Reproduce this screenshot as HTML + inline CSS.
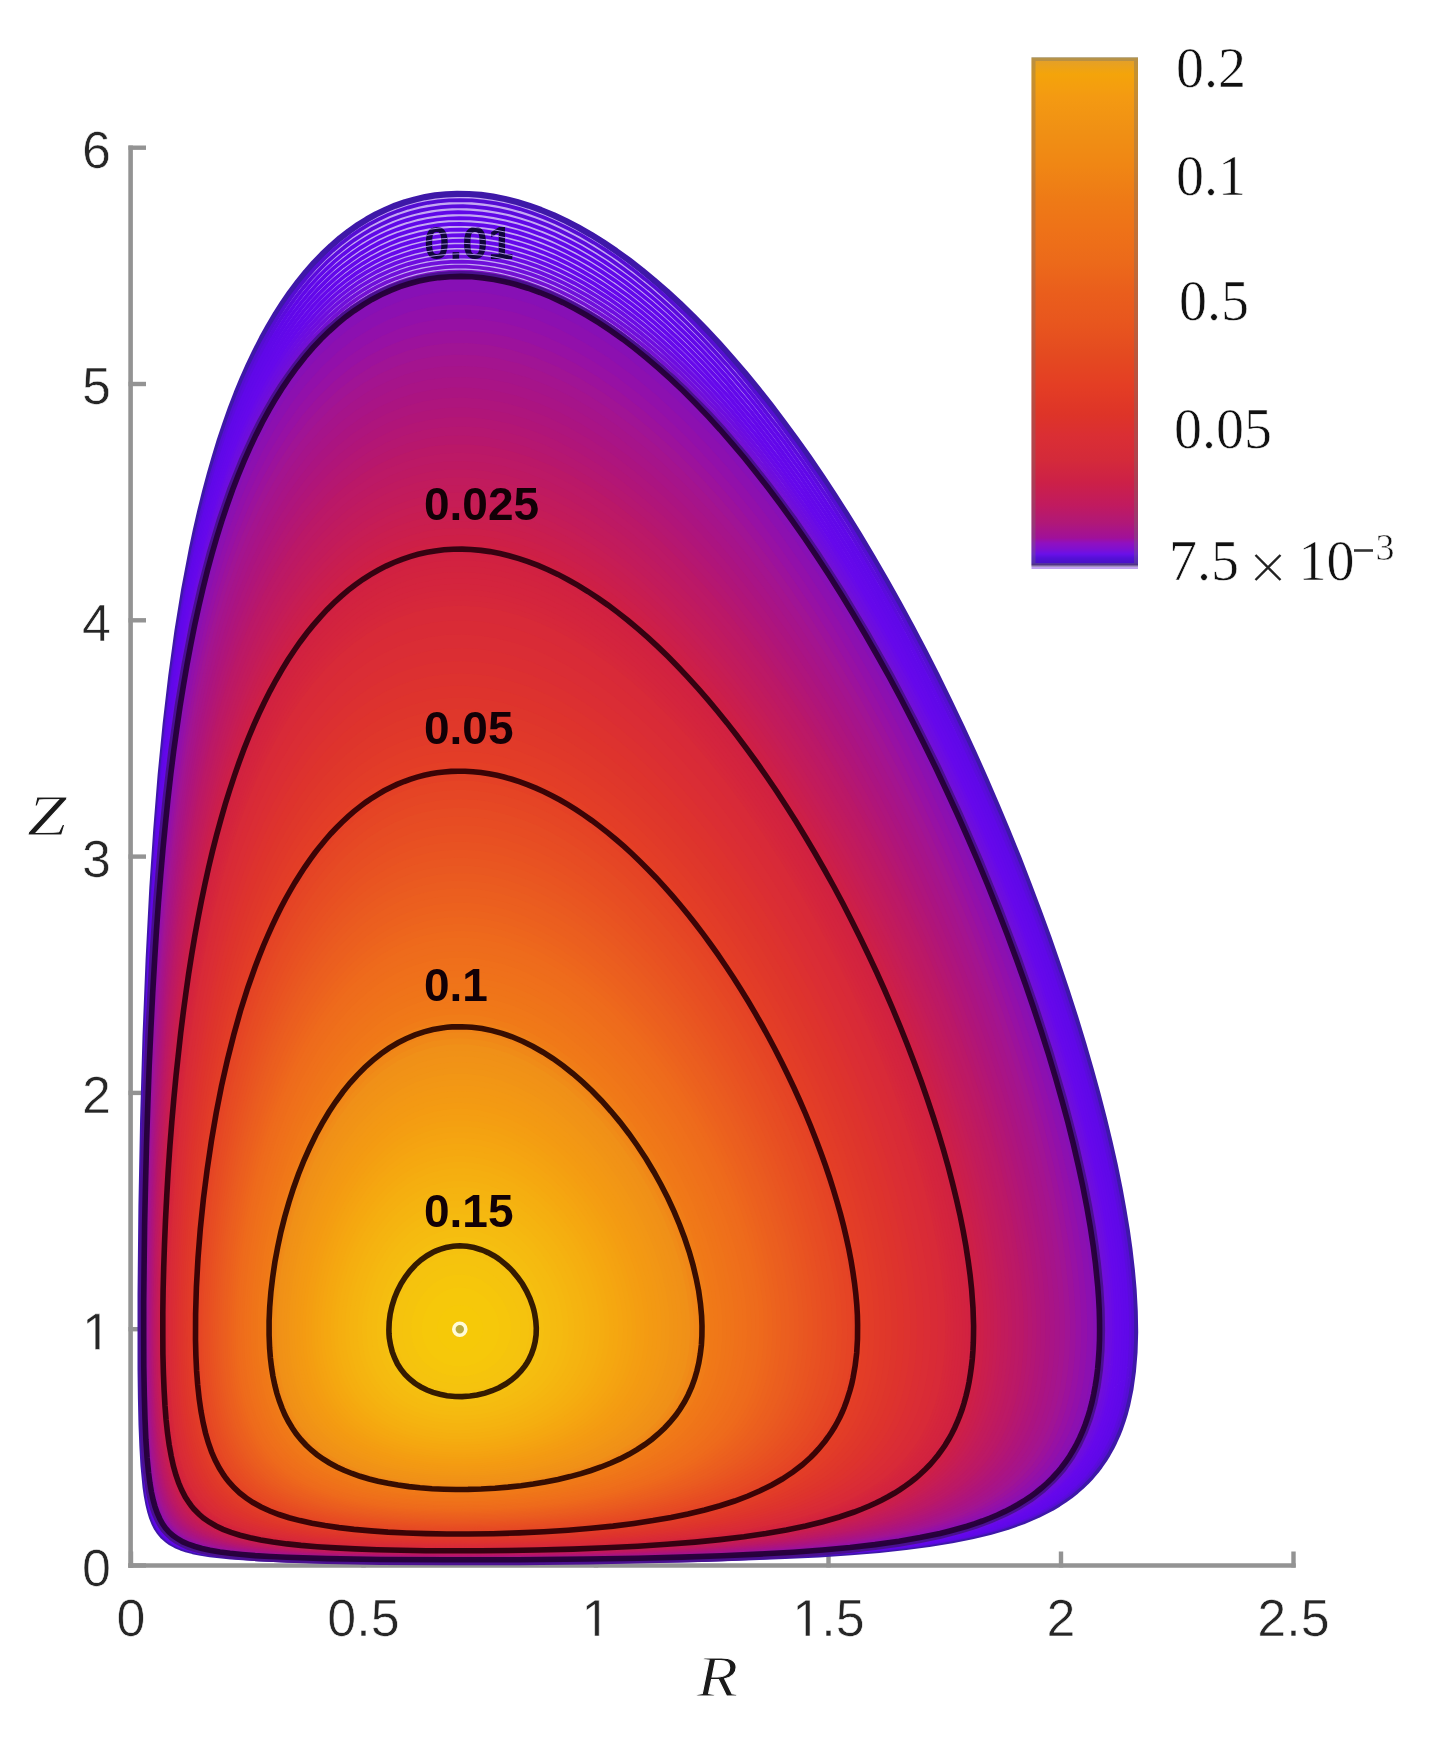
<!DOCTYPE html>
<html><head><meta charset="utf-8"><style>
html,body{margin:0;padding:0;background:#fff;}
body{width:1433px;height:1750px;overflow:hidden;}
svg{display:block;filter:blur(0.5px);}
.tk{font-family:"Liberation Sans",sans-serif;font-size:52px;fill:#262626;stroke:#fff;stroke-width:0.6px;paint-order:normal;}
.cl{font-family:"Liberation Sans",sans-serif;font-weight:bold;font-size:46px;fill:#120006;}
.cbl{font-family:"Liberation Serif",serif;font-size:56px;fill:#111;stroke:#fff;stroke-width:0.6px;}
.ax{font-family:"Liberation Serif",serif;font-style:italic;font-size:56px;fill:#1a1a1a;stroke:#fff;stroke-width:0.9px;}
</style></head><body>
<svg width="1433" height="1750" viewBox="0 0 1433 1750">
<defs><linearGradient id="cbg" gradientUnits="userSpaceOnUse" x1="0" y1="57.5" x2="0" y2="569">
<stop offset="0.0000" stop-color="#d6a83c"/>
<stop offset="0.0068" stop-color="#e4a028"/>
<stop offset="0.0323" stop-color="#f4a40a"/>
<stop offset="0.0772" stop-color="#f49a12"/>
<stop offset="0.1437" stop-color="#f09014"/>
<stop offset="0.2121" stop-color="#f08614"/>
<stop offset="0.2786" stop-color="#ee7a16"/>
<stop offset="0.3353" stop-color="#ee7218"/>
<stop offset="0.3978" stop-color="#ec6a1a"/>
<stop offset="0.4585" stop-color="#ea5e1c"/>
<stop offset="0.5191" stop-color="#e8561e"/>
<stop offset="0.5797" stop-color="#e44a20"/>
<stop offset="0.6403" stop-color="#e43e24"/>
<stop offset="0.6970" stop-color="#de3428"/>
<stop offset="0.7419" stop-color="#da2e34"/>
<stop offset="0.7869" stop-color="#d42a3a"/>
<stop offset="0.8319" stop-color="#cc2048"/>
<stop offset="0.8768" stop-color="#c01a60"/>
<stop offset="0.9101" stop-color="#b01878"/>
<stop offset="0.9394" stop-color="#a0109a"/>
<stop offset="0.9492" stop-color="#9010c0"/>
<stop offset="0.9609" stop-color="#8010d0"/>
<stop offset="0.9707" stop-color="#6a10e8"/>
<stop offset="0.9785" stop-color="#5510d8"/>
<stop offset="0.9883" stop-color="#4a10c8"/>
<stop offset="0.9922" stop-color="#3c1482"/>
<stop offset="0.9941" stop-color="#c0a0f0"/>
<stop offset="1.0000" stop-color="#c0a0f0"/>
</linearGradient></defs>
<rect width="1433" height="1750" fill="#fff"/>
<line x1="130.6" y1="145.5" x2="130.6" y2="1567.7" stroke="#939393" stroke-width="4.6"/>
<line x1="128.3" y1="1565.5" x2="1295.7" y2="1565.5" stroke="#939393" stroke-width="4.6"/>
<line x1="128.5" y1="147.7" x2="146" y2="147.7" stroke="#939393" stroke-width="4.4"/>
<text x="111" y="168.1" text-anchor="end" class="tk">6</text>
<line x1="128.5" y1="384.0" x2="146" y2="384.0" stroke="#939393" stroke-width="4.4"/>
<text x="111" y="404.4" text-anchor="end" class="tk">5</text>
<line x1="128.5" y1="620.3" x2="146" y2="620.3" stroke="#939393" stroke-width="4.4"/>
<text x="111" y="640.7" text-anchor="end" class="tk">4</text>
<line x1="128.5" y1="856.6" x2="146" y2="856.6" stroke="#939393" stroke-width="4.4"/>
<text x="111" y="877.0" text-anchor="end" class="tk">3</text>
<line x1="128.5" y1="1092.9" x2="146" y2="1092.9" stroke="#939393" stroke-width="4.4"/>
<text x="111" y="1113.3" text-anchor="end" class="tk">2</text>
<line x1="128.5" y1="1329.2" x2="146" y2="1329.2" stroke="#939393" stroke-width="4.4"/>
<path d="M515 0V1237L197 1010V1180L530 1409H696V0Z" transform="translate(82.08,1349.60) scale(0.025391,-0.025391)" fill="#262626" stroke="#fff" stroke-width="23.6"/>
<line x1="128.5" y1="1565.5" x2="146" y2="1565.5" stroke="#939393" stroke-width="4.4"/>
<text x="111" y="1585.9" text-anchor="end" class="tk">0</text>
<line x1="131.0" y1="1567.5" x2="131.0" y2="1551.5" stroke="#939393" stroke-width="4.4"/>
<text x="131.0" y="1636" text-anchor="middle" class="tk">0</text>
<line x1="363.5" y1="1567.5" x2="363.5" y2="1551.5" stroke="#939393" stroke-width="4.4"/>
<text x="363.5" y="1636" text-anchor="middle" class="tk">0.5</text>
<line x1="596.0" y1="1567.5" x2="596.0" y2="1551.5" stroke="#939393" stroke-width="4.4"/>
<path d="M515 0V1237L197 1010V1180L530 1409H696V0Z" transform="translate(581.54,1636.00) scale(0.025391,-0.025391)" fill="#262626" stroke="#fff" stroke-width="23.6"/>
<line x1="828.5" y1="1567.5" x2="828.5" y2="1551.5" stroke="#939393" stroke-width="4.4"/>
<path d="M515 0V1237L197 1010V1180L530 1409H696V0Z" transform="translate(792.36,1636.00) scale(0.025391,-0.025391)" fill="#262626" stroke="#fff" stroke-width="23.6"/>
<text x="821.28" y="1636" class="tk">.5</text>
<line x1="1061.0" y1="1567.5" x2="1061.0" y2="1551.5" stroke="#939393" stroke-width="4.4"/>
<text x="1061.0" y="1636" text-anchor="middle" class="tk">2</text>
<line x1="1293.5" y1="1567.5" x2="1293.5" y2="1551.5" stroke="#939393" stroke-width="4.4"/>
<text x="1293.5" y="1636" text-anchor="middle" class="tk">2.5</text>
<g>
<path d="M547.0 1561.0 471.0 1561.3 400.0 1561.1 341.0 1560.6 294.0 1559.6 259.0 1558.3 231.0 1556.5 210.0 1554.2 201.0 1552.8 193.0 1551.1 187.0 1549.5 181.0 1547.5 176.0 1545.4 171.0 1542.6 167.0 1539.8 163.0 1536.2 159.5 1532.0 156.8 1528.0 154.3 1523.0 152.0 1517.3 150.1 1511.0 148.4 1504.0 146.9 1496.0 145.6 1487.0 143.6 1466.0 142.5 1447.0 141.6 1425.0 141.0 1399.0 140.6 1369.0 140.6 1294.0 141.5 1206.0 143.2 1119.0 145.6 1036.0 148.7 959.0 152.4 888.0 156.3 830.0 160.7 775.0 165.7 724.0 171.3 676.0 177.5 631.0 184.3 589.0 192.0 548.5 196.0 529.7 200.3 511.0 205.0 491.9 209.8 474.0 214.7 457.0 219.9 440.0 225.3 424.0 231.0 407.9 236.7 393.0 242.5 379.0 248.7 365.0 255.0 351.8 262.0 338.1 268.7 326.0 276.0 313.7 283.0 302.8 290.0 292.6 298.0 281.9 306.0 272.0 314.0 262.9 322.0 254.6 331.0 246.0 340.0 238.2 349.0 231.2 358.0 224.9 367.0 219.3 376.0 214.3 386.0 209.5 395.0 205.7 405.0 202.2 415.0 199.4 425.0 197.1 435.0 195.4 446.0 194.3 457.0 193.8 469.0 194.0 481.0 194.9 493.0 196.6 505.0 199.0 517.0 202.0 529.0 205.7 541.0 210.0 554.0 215.4 566.0 221.0 578.0 227.3 591.0 234.7 603.0 242.2 616.0 250.9 629.0 260.3 642.0 270.4 654.0 280.3 667.0 291.6 680.0 303.6 693.0 316.2 706.0 329.5 719.0 343.4 732.0 358.0 744.9 373.0 758.0 389.0 770.6 405.0 783.5 422.0 796.0 439.0 809.0 457.4 821.7 476.0 834.0 494.7 846.3 514.0 859.3 535.0 872.5 557.0 885.8 580.0 898.7 603.0 911.7 627.0 924.3 651.0 936.5 675.0 949.3 701.0 961.7 727.0 973.7 753.0 985.3 779.0 996.5 805.0 1007.4 831.0 1018.4 858.0 1028.5 884.0 1038.7 911.0 1048.6 938.0 1057.6 964.0 1066.7 991.0 1075.4 1018.0 1083.3 1044.0 1090.6 1069.0 1097.5 1094.0 1103.7 1118.0 1109.5 1142.0 1114.7 1165.0 1119.4 1188.0 1123.2 1209.0 1126.7 1230.0 1129.5 1250.0 1131.8 1270.0 1133.5 1289.0 1134.7 1311.0 1135.1 1332.0 1134.5 1352.0 1132.9 1371.0 1130.4 1389.0 1127.1 1405.0 1125.0 1413.0 1122.5 1421.0 1120.1 1428.0 1117.3 1435.0 1114.1 1442.0 1111.1 1448.0 1107.7 1454.0 1104.0 1460.0 1099.8 1466.0 1096.0 1471.0 1090.9 1477.0 1086.1 1482.0 1080.9 1487.0 1076.3 1491.0 1070.0 1496.0 1064.4 1500.0 1058.3 1504.0 1051.6 1508.0 1037.9 1515.0 1023.0 1521.4 1007.0 1527.0 989.8 1532.0 972.0 1536.3 952.0 1540.3 929.0 1544.0 906.0 1547.0 879.0 1549.8 851.0 1552.2 819.0 1554.3 785.0 1556.0 746.0 1557.5 703.0 1558.8 656.0 1559.7 547.0 1561.0Z" fill="#c4a8f2" stroke="#3e18a8" stroke-width="6.2" stroke-linejoin="round"/>
<path d="M531.0 1561.0 456.0 1561.2 387.0 1561.0 330.0 1560.3 286.0 1559.3 252.0 1557.8 226.0 1555.9 206.0 1553.4 198.0 1551.9 190.0 1550.0 184.0 1548.2 178.4 1546.0 173.0 1543.3 169.0 1540.7 165.0 1537.4 161.7 1534.0 158.7 1530.0 155.8 1525.0 153.5 1520.0 151.4 1514.0 149.5 1507.0 147.8 1499.0 145.2 1480.0 143.2 1456.0 141.5 1412.0 140.7 1352.0 140.9 1275.0 142.0 1188.0 143.9 1104.0 146.4 1024.0 149.5 950.0 153.3 882.0 157.2 825.0 161.7 771.0 166.8 721.0 172.4 674.0 178.7 630.0 185.7 588.0 193.3 549.0 201.7 512.0 211.0 476.3 221.0 443.3 232.0 411.8 238.0 396.4 244.0 382.0 250.0 368.7 256.6 355.0 263.0 342.7 270.0 330.1 277.0 318.5 284.4 307.0 292.0 296.2 300.0 285.7 308.0 276.0 316.0 267.1 324.0 258.9 333.0 250.5 342.0 242.9 351.0 236.1 360.0 229.9 369.0 224.4 378.0 219.6 388.0 214.9 398.0 210.9 408.0 207.6 418.0 204.9 428.0 202.8 438.0 201.3 449.0 200.4 460.0 200.1 472.0 200.4 484.0 201.6 496.0 203.4 508.0 205.9 520.0 209.1 532.0 213.0 544.0 217.5 556.0 222.6 569.0 228.8 581.0 235.2 594.0 242.8 606.0 250.4 619.0 259.3 632.0 268.9 645.0 279.2 657.0 289.2 670.0 300.7 683.0 312.8 696.0 325.6 709.0 339.1 722.0 353.2 735.0 367.9 748.0 383.3 773.3 415.0 799.1 450.0 824.6 487.0 849.7 526.0 875.5 569.0 901.5 615.0 926.8 663.0 951.6 713.0 975.3 764.0 998.4 817.0 1020.4 871.0 1040.5 924.0 1059.5 978.0 1076.2 1030.0 1091.2 1081.0 1103.7 1129.0 1109.3 1153.0 1114.2 1176.0 1118.6 1198.0 1122.4 1220.0 1125.6 1241.0 1128.2 1261.0 1130.1 1280.0 1131.5 1298.0 1132.3 1320.0 1132.3 1340.0 1131.3 1360.0 1129.4 1378.0 1126.6 1395.0 1122.8 1411.0 1118.1 1426.0 1112.3 1440.0 1106.1 1452.0 1098.5 1464.0 1089.8 1475.0 1080.2 1485.0 1069.7 1494.0 1058.0 1502.3 1044.9 1510.0 1030.5 1517.0 1015.5 1523.0 1000.0 1528.2 982.7 1533.0 963.0 1537.5 943.0 1541.2 920.0 1544.8 895.0 1547.8 869.0 1550.4 839.0 1552.7 807.0 1554.7 772.0 1556.4 733.0 1557.8 641.0 1559.9 531.0 1561.0Z" fill="none" stroke="#550dd3" stroke-width="3.7"/>
<path d="M510.0 1561.0 435.0 1561.1 369.0 1560.7 316.0 1559.9 274.0 1558.7 243.0 1557.1 219.0 1554.9 200.0 1552.0 192.0 1550.2 185.0 1548.1 179.0 1545.8 174.0 1543.3 169.0 1540.1 165.3 1537.0 161.5 1533.0 158.6 1529.0 156.0 1524.4 153.6 1519.0 151.5 1513.0 149.6 1506.0 148.0 1498.0 146.6 1489.0 144.3 1467.0 142.6 1439.0 141.3 1390.0 140.9 1325.0 141.4 1245.0 142.8 1160.0 144.8 1080.0 147.5 1005.0 150.7 936.0 154.5 871.0 158.5 816.0 163.1 764.0 168.2 715.0 174.0 669.2 180.4 626.0 187.5 585.0 195.1 547.0 203.8 510.0 213.5 474.0 223.9 441.0 235.0 410.3 247.0 381.6 253.0 368.7 259.8 355.0 266.0 343.5 273.0 331.3 280.0 320.0 288.0 308.1 295.0 298.4 303.0 288.2 311.0 278.8 319.0 270.2 327.0 262.2 336.0 254.1 345.0 246.7 354.0 240.1 363.0 234.2 372.0 228.9 381.0 224.3 391.0 219.8 401.0 216.0 411.0 212.9 421.0 210.4 431.0 208.5 441.0 207.2 452.0 206.4 463.0 206.2 475.0 206.8 487.0 208.1 499.0 210.1 511.0 212.8 523.0 216.2 535.0 220.2 548.0 225.3 560.0 230.6 573.0 237.1 585.0 243.7 598.0 251.5 610.0 259.3 623.0 268.4 636.0 278.2 649.0 288.7 662.0 299.8 674.0 310.6 687.0 323.0 700.0 336.0 713.0 349.7 726.0 363.9 739.0 378.9 752.0 394.5 777.6 427.0 803.1 462.0 828.2 499.0 853.6 539.0 880.3 584.0 906.4 631.0 931.4 679.0 955.9 729.0 979.7 781.0 1002.4 834.0 1023.6 887.0 1043.4 940.0 1061.6 993.0 1077.7 1044.0 1092.2 1095.0 1098.5 1119.0 1104.3 1143.0 1109.5 1166.0 1114.2 1189.0 1118.3 1211.0 1121.5 1231.0 1124.3 1251.0 1126.6 1271.0 1128.3 1290.0 1129.4 1308.0 1129.8 1329.0 1129.4 1349.0 1128.0 1368.0 1125.6 1386.0 1122.2 1403.0 1118.1 1418.0 1113.1 1432.0 1107.2 1445.0 1100.4 1457.0 1092.0 1469.0 1083.4 1479.0 1073.0 1489.0 1061.5 1498.0 1050.0 1505.5 1036.1 1513.0 1022.0 1519.3 1006.8 1525.0 990.7 1530.0 972.0 1534.8 953.0 1538.8 932.0 1542.5 909.0 1545.7 884.0 1548.6 857.0 1551.1 828.0 1553.2 795.0 1555.1 758.0 1556.7 718.0 1558.1 624.0 1560.0 510.0 1561.0Z" fill="none" stroke="#5b0bdd" stroke-width="3.7"/>
<path d="M473.0 1561.0 398.0 1560.8 336.0 1560.2 288.0 1559.1 251.0 1557.4 223.0 1555.1 212.0 1553.7 202.0 1552.1 193.0 1550.1 186.0 1548.0 180.0 1545.8 174.3 1543.0 169.7 1540.0 165.0 1536.1 161.4 1532.0 158.0 1527.1 155.0 1521.2 152.6 1515.0 150.5 1508.0 148.7 1500.0 147.2 1491.0 145.8 1480.0 143.6 1454.0 142.2 1420.0 141.4 1377.0 141.1 1315.0 141.7 1241.0 143.0 1163.0 145.0 1086.0 147.3 1017.0 150.3 952.0 153.7 891.0 157.6 834.0 162.0 782.4 166.9 734.0 172.3 689.0 178.3 646.0 185.0 605.2 192.3 567.0 200.2 531.0 209.0 496.4 218.8 463.0 229.2 432.0 240.9 402.0 253.0 374.9 259.4 362.0 266.0 349.7 273.0 337.5 280.0 326.2 287.0 315.6 295.0 304.5 302.0 295.5 310.0 286.0 318.0 277.3 326.0 269.3 334.0 261.9 343.0 254.4 352.0 247.6 361.0 241.5 370.0 236.1 379.0 231.3 388.0 227.1 398.0 223.1 407.0 220.1 417.0 217.3 427.0 215.2 437.0 213.6 447.0 212.7 458.0 212.2 470.0 212.5 482.0 213.5 494.0 215.2 506.0 217.6 518.0 220.7 530.0 224.5 542.0 228.9 555.0 234.4 568.0 240.6 580.0 246.9 593.0 254.5 605.0 262.1 617.0 270.2 630.0 279.7 643.0 289.9 656.0 300.7 669.0 312.2 682.0 324.3 695.0 337.1 707.5 350.0 720.0 363.5 733.0 378.1 746.0 393.4 759.0 409.4 785.0 443.2 810.5 479.0 835.7 517.0 860.6 557.0 886.8 602.0 912.5 649.0 937.5 698.0 962.4 750.0 985.7 802.0 1008.4 856.0 1029.5 910.0 1048.6 963.0 1066.3 1016.0 1081.7 1067.0 1088.7 1092.0 1095.3 1117.0 1101.2 1141.0 1106.4 1164.0 1111.2 1187.0 1115.3 1209.0 1118.8 1230.0 1121.6 1250.0 1124.0 1270.0 1125.7 1289.0 1126.8 1307.0 1127.2 1324.0 1127.0 1344.0 1125.9 1363.0 1123.8 1381.0 1121.0 1397.0 1117.3 1412.0 1112.5 1427.0 1106.6 1441.0 1100.2 1453.0 1093.1 1464.0 1084.4 1475.0 1074.7 1485.0 1064.1 1494.0 1052.8 1502.0 1039.1 1510.0 1024.6 1517.0 1009.5 1523.0 994.0 1528.1 976.3 1533.0 958.0 1537.2 937.6 1541.0 915.0 1544.5 891.0 1547.4 865.6 1550.0 836.0 1552.4 805.0 1554.3 770.0 1556.0 689.0 1558.7 589.0 1560.3 473.0 1561.0Z" fill="none" stroke="#6008e8" stroke-width="3.7"/>
<path d="M606.0 1560.0 533.0 1560.7 458.0 1560.9 389.0 1560.7 331.0 1560.0 289.0 1558.9 255.0 1557.5 229.0 1555.5 208.0 1552.9 193.0 1549.8 187.0 1548.0 181.0 1545.8 176.0 1543.4 171.0 1540.4 167.0 1537.2 163.7 1534.0 160.5 1530.0 157.9 1526.0 155.4 1521.0 153.1 1515.0 151.0 1508.2 149.3 1501.0 146.6 1484.0 145.0 1469.0 143.7 1451.0 142.1 1406.0 141.3 1344.0 141.6 1267.0 142.9 1178.0 145.1 1090.0 148.1 1007.0 151.8 931.0 155.5 871.0 159.7 815.0 164.5 763.0 170.0 713.8 176.2 667.0 183.0 623.2 190.5 582.0 198.7 544.0 207.6 508.0 217.3 474.0 228.0 441.6 239.3 412.0 245.2 398.0 251.6 384.0 258.0 370.8 264.7 358.0 271.0 346.9 278.2 335.0 285.4 324.0 293.0 313.2 301.0 302.8 309.0 293.2 317.0 284.3 325.0 276.2 333.0 268.7 342.0 261.1 351.0 254.3 360.0 248.1 369.0 242.6 378.0 237.7 387.0 233.4 397.0 229.4 407.0 226.0 417.0 223.2 427.0 221.1 437.0 219.5 448.0 218.5 459.0 218.1 470.0 218.4 482.0 219.4 493.0 221.0 505.0 223.3 517.0 226.4 529.0 230.1 541.0 234.4 553.0 239.4 565.0 245.0 577.0 251.2 589.0 258.0 601.0 265.4 613.0 273.4 626.0 282.7 639.0 292.7 651.0 302.4 664.0 313.7 676.0 324.6 688.0 336.1 701.0 349.2 713.1 362.0 726.0 376.2 751.0 405.6 776.0 437.4 800.6 471.0 825.1 507.0 850.7 547.0 876.3 590.0 901.5 635.0 925.6 681.0 949.3 729.0 972.5 779.0 994.2 829.0 1014.6 879.0 1034.4 931.0 1052.4 982.0 1068.6 1032.0 1082.8 1080.0 1095.2 1127.0 1105.5 1172.0 1109.8 1193.0 1113.6 1214.0 1116.8 1234.0 1119.6 1254.0 1122.2 1278.0 1123.9 1301.0 1124.7 1323.0 1124.5 1344.0 1123.3 1364.0 1121.1 1382.0 1118.0 1399.0 1113.9 1415.0 1108.8 1430.0 1103.0 1443.0 1096.4 1455.0 1088.2 1467.0 1079.0 1478.0 1068.7 1488.0 1057.4 1497.0 1045.2 1505.0 1032.4 1512.0 1018.0 1518.6 1002.0 1524.6 985.0 1529.9 966.0 1534.7 946.0 1538.9 924.0 1542.7 901.0 1545.8 875.0 1548.8 848.0 1551.2 817.0 1553.4 783.0 1555.2 745.0 1556.8 704.0 1558.1 606.0 1560.0Z" fill="none" stroke="#6108e9" stroke-width="3.7"/>
<path d="M597.0 1560.0 524.0 1560.6 449.0 1560.8 381.0 1560.5 325.0 1559.7 284.0 1558.6 251.0 1557.0 226.0 1555.0 206.0 1552.2 191.5 1549.0 185.3 1547.0 180.0 1544.9 174.4 1542.0 170.0 1539.1 166.4 1536.0 163.0 1532.4 160.0 1528.4 157.4 1524.0 155.0 1518.9 152.8 1513.0 151.0 1506.7 149.3 1499.0 146.5 1481.0 145.0 1466.0 143.8 1448.0 142.2 1402.0 141.5 1339.0 141.9 1261.0 143.3 1174.0 145.5 1087.0 148.5 1006.0 152.2 931.0 156.0 871.0 160.3 816.0 165.1 764.0 170.7 715.0 176.8 669.0 183.6 626.0 191.2 585.0 199.4 547.0 208.4 511.0 218.0 477.8 228.6 446.0 240.0 416.2 252.0 389.0 258.4 376.0 265.3 363.0 272.0 351.1 279.0 339.7 286.0 329.0 294.0 317.8 302.0 307.4 310.0 297.9 318.0 289.1 326.0 281.1 334.0 273.7 343.0 266.2 352.0 259.4 361.0 253.3 370.0 247.8 379.0 243.0 388.0 238.8 398.0 234.8 408.0 231.5 418.0 228.8 428.0 226.7 438.0 225.2 449.0 224.2 460.0 223.9 471.0 224.3 483.0 225.3 494.0 226.9 506.0 229.4 518.0 232.4 530.0 236.2 542.0 240.6 554.0 245.6 566.0 251.3 578.0 257.6 590.0 264.4 602.0 271.9 615.0 280.6 627.0 289.3 639.0 298.5 652.0 309.2 664.0 319.6 677.0 331.5 689.0 343.0 702.0 356.2 714.1 369.0 727.0 383.3 752.0 412.8 777.0 444.8 801.2 478.0 826.0 514.5 851.8 555.0 877.3 598.0 902.3 643.0 926.4 689.0 949.5 736.0 972.6 786.0 994.2 836.0 1014.5 886.0 1033.8 937.0 1051.7 988.0 1067.5 1037.0 1081.8 1086.0 1094.3 1134.0 1104.3 1178.0 1108.4 1199.0 1112.1 1220.0 1115.2 1240.0 1117.7 1259.0 1120.2 1283.0 1121.7 1306.0 1122.3 1328.0 1121.9 1348.0 1120.5 1367.0 1118.2 1385.0 1114.9 1402.0 1110.8 1417.0 1105.4 1432.0 1099.5 1445.0 1092.6 1457.0 1084.1 1469.0 1075.4 1479.0 1064.9 1489.0 1053.3 1498.0 1040.8 1506.0 1027.6 1513.0 1014.0 1519.0 997.8 1525.0 981.0 1530.1 962.0 1534.9 942.3 1539.0 920.0 1542.8 896.0 1546.0 870.0 1548.9 842.0 1551.3 811.0 1553.5 776.0 1555.3 738.0 1556.9 696.0 1558.2 597.0 1560.0Z" fill="none" stroke="#6208ea" stroke-width="3.7"/>
<path d="M588.0 1560.0 515.0 1560.6 441.0 1560.7 375.0 1560.3 321.0 1559.5 281.0 1558.4 249.0 1556.7 224.0 1554.6 205.0 1551.8 197.0 1550.1 190.0 1548.2 184.0 1546.1 179.0 1544.0 174.0 1541.2 169.4 1538.0 166.0 1535.0 162.5 1531.0 159.7 1527.0 156.9 1522.0 154.7 1517.0 152.6 1511.0 150.7 1504.0 149.1 1496.0 146.5 1478.0 145.0 1462.0 143.9 1444.0 142.3 1397.0 141.8 1334.0 142.2 1256.0 143.6 1169.0 145.9 1084.0 148.9 1005.0 152.6 931.0 156.4 872.0 160.8 817.0 165.7 765.0 171.2 717.0 177.3 672.0 184.2 629.0 191.8 588.0 200.0 550.5 209.0 514.8 219.0 480.6 229.6 449.0 241.0 419.7 253.0 392.8 259.3 380.0 266.3 367.0 273.0 355.2 280.0 343.9 287.0 333.3 295.0 322.2 303.0 311.9 311.0 302.5 319.0 293.8 327.0 285.9 335.0 278.6 344.0 271.1 353.0 264.4 362.0 258.3 371.0 253.0 380.0 248.2 389.0 244.1 399.0 240.1 409.0 236.9 419.0 234.2 429.0 232.2 439.0 230.8 450.0 229.9 461.0 229.6 472.0 230.0 484.0 231.1 495.0 232.8 507.0 235.3 519.0 238.4 531.0 242.2 543.0 246.7 555.0 251.8 567.0 257.5 579.0 263.8 591.0 270.8 603.0 278.3 615.0 286.4 628.0 295.8 640.0 305.1 652.0 314.9 664.0 325.3 677.0 337.3 689.2 349.0 702.0 362.0 714.2 375.0 727.0 389.2 752.0 418.7 777.0 450.7 801.9 485.0 826.3 521.0 851.7 561.0 877.2 604.0 901.6 648.0 926.2 695.0 949.7 743.0 972.2 792.0 993.8 842.0 1014.4 893.0 1033.6 944.0 1051.4 995.0 1067.3 1045.0 1081.2 1093.0 1093.3 1140.0 1102.8 1183.0 1106.9 1204.0 1110.5 1225.0 1113.5 1245.0 1115.9 1264.0 1118.2 1288.0 1119.5 1310.0 1119.8 1332.0 1119.2 1352.0 1117.7 1371.0 1115.2 1388.0 1111.7 1405.0 1107.4 1420.0 1101.7 1435.0 1095.4 1448.0 1088.1 1460.0 1079.9 1471.0 1070.9 1481.0 1060.0 1490.9 1049.1 1499.0 1036.3 1507.0 1022.7 1514.0 1008.7 1520.0 991.9 1526.0 974.9 1531.0 956.0 1535.6 935.0 1539.8 913.0 1543.3 889.0 1546.5 863.0 1549.2 834.0 1551.6 802.0 1553.8 768.0 1555.5 730.1 1557.0 687.0 1558.3 588.0 1560.0Z" fill="none" stroke="#6408ea" stroke-width="3.7"/>
<path d="M578.0 1560.0 505.0 1560.5 432.0 1560.6 367.0 1560.2 315.0 1559.3 276.0 1558.0 246.0 1556.3 222.0 1554.1 203.0 1551.1 196.0 1549.5 189.0 1547.5 183.0 1545.3 178.0 1543.0 173.0 1540.0 169.0 1537.0 165.0 1533.2 162.0 1529.6 159.0 1525.0 156.4 1520.0 154.1 1514.0 152.2 1508.0 148.9 1493.0 146.3 1474.0 145.0 1458.0 143.9 1439.0 142.4 1391.0 142.0 1326.0 142.5 1248.0 144.0 1163.0 146.4 1079.0 149.4 1001.0 153.2 929.0 157.0 870.9 161.4 816.0 166.4 765.0 172.0 717.1 178.2 672.0 185.1 630.0 192.7 590.0 201.0 552.3 210.0 517.1 220.0 483.3 230.7 452.0 242.0 423.1 254.2 396.0 261.0 382.5 267.8 370.0 275.0 357.6 282.0 346.5 289.0 336.1 296.4 326.0 304.0 316.4 312.0 307.0 320.0 298.4 328.0 290.5 336.0 283.3 345.0 275.9 354.0 269.3 363.0 263.3 372.0 258.0 382.0 252.8 391.0 248.8 401.0 245.0 411.0 241.9 421.0 239.4 431.0 237.5 441.0 236.1 452.0 235.3 463.0 235.2 474.0 235.7 486.0 237.0 497.0 238.7 509.0 241.3 521.0 244.6 533.0 248.5 545.0 253.1 557.0 258.3 569.0 264.1 581.0 270.6 593.0 277.6 605.0 285.2 617.0 293.4 630.0 302.9 642.0 312.3 655.0 323.1 668.0 334.6 680.0 345.8 692.5 358.0 705.0 370.9 729.7 398.0 755.0 428.2 779.6 460.0 804.0 493.9 828.3 530.0 853.5 570.0 878.8 613.0 903.7 658.0 927.5 704.0 951.4 753.0 973.7 802.0 995.6 853.0 1015.6 903.0 1034.5 954.0 1052.4 1006.0 1067.8 1055.0 1081.4 1103.0 1092.7 1148.0 1097.6 1170.0 1102.2 1192.0 1106.1 1213.0 1109.3 1233.0 1112.1 1253.0 1114.2 1271.0 1116.2 1294.0 1117.3 1316.0 1117.4 1337.0 1116.5 1357.0 1114.7 1376.0 1111.9 1393.0 1108.2 1409.0 1103.6 1424.0 1097.9 1438.0 1091.2 1451.0 1083.6 1463.0 1074.9 1474.0 1065.2 1484.0 1054.7 1493.0 1043.0 1501.3 1030.0 1509.0 1015.6 1516.0 1001.0 1521.9 985.9 1527.0 968.1 1532.0 949.0 1536.4 928.0 1540.4 904.9 1544.0 880.9 1547.0 854.0 1549.7 825.3 1552.0 793.7 1554.0 758.0 1555.7 677.0 1558.4 578.0 1560.0Z" fill="none" stroke="#6508eb" stroke-width="3.7"/>
<path d="M568.0 1560.0 495.0 1560.5 424.0 1560.5 362.0 1560.0 311.0 1559.1 274.0 1557.8 243.8 1556.0 220.0 1553.6 202.0 1550.6 195.0 1548.9 188.0 1546.8 182.0 1544.4 177.1 1542.0 172.3 1539.0 168.5 1536.0 164.6 1532.0 161.5 1528.0 158.4 1523.0 156.1 1518.0 153.8 1512.0 152.0 1505.9 150.2 1498.0 148.7 1490.0 146.2 1470.0 144.9 1453.0 143.9 1434.0 142.5 1384.0 142.2 1318.0 142.8 1240.0 144.4 1157.0 146.8 1075.0 149.9 999.0 153.7 928.0 157.5 871.0 161.9 817.0 167.0 766.0 172.6 719.0 178.9 674.0 185.8 632.0 193.5 592.0 201.8 555.0 211.0 519.3 221.0 485.9 231.7 455.0 243.0 426.4 249.0 412.8 255.5 399.0 262.0 386.2 269.0 373.4 276.0 361.6 283.0 350.5 290.0 340.3 297.6 330.0 305.0 320.7 313.0 311.4 321.0 302.9 330.0 294.2 338.0 287.1 347.0 279.9 356.0 273.4 365.0 267.6 374.0 262.4 383.0 257.9 392.0 253.9 402.0 250.2 412.0 247.1 422.0 244.6 432.0 242.8 442.0 241.5 453.0 240.8 464.0 240.7 475.0 241.3 487.0 242.6 498.0 244.4 510.0 247.1 522.0 250.4 534.0 254.4 546.0 259.0 558.0 264.3 570.0 270.1 582.0 276.6 594.0 283.7 606.0 291.4 618.0 299.6 631.0 309.2 643.0 318.7 656.0 329.6 668.0 340.2 681.0 352.3 693.9 365.0 706.0 377.5 718.5 391.0 731.0 405.1 756.0 435.1 780.6 467.0 805.6 502.0 829.7 538.0 855.4 579.0 880.6 622.0 905.2 667.0 929.4 714.0 952.6 762.0 975.3 812.0 996.5 862.0 1016.3 912.0 1035.5 964.0 1052.4 1014.0 1067.7 1063.0 1080.8 1110.0 1092.1 1156.0 1096.7 1177.0 1101.1 1199.0 1104.7 1219.0 1107.8 1239.0 1110.4 1258.0 1112.5 1277.0 1114.2 1300.0 1115.0 1321.0 1114.9 1342.0 1113.9 1361.0 1111.9 1379.0 1108.9 1396.0 1105.3 1411.0 1100.4 1426.0 1094.6 1440.0 1088.2 1452.0 1080.4 1464.0 1071.5 1475.0 1061.6 1485.0 1050.9 1494.0 1039.0 1502.2 1025.4 1510.0 1012.0 1516.4 997.0 1522.3 980.0 1527.9 963.0 1532.6 943.2 1537.0 922.0 1540.9 900.0 1544.2 875.0 1547.3 848.0 1549.9 819.0 1552.2 787.0 1554.1 751.0 1555.9 668.0 1558.4 568.0 1560.0Z" fill="none" stroke="#6608eb" stroke-width="3.7"/>
<path d="M557.0 1560.0 485.0 1560.4 415.0 1560.3 355.0 1559.8 306.0 1558.8 269.0 1557.4 240.0 1555.5 217.3 1553.0 200.0 1549.8 192.9 1548.0 186.9 1546.0 181.0 1543.5 176.0 1540.9 171.0 1537.5 167.1 1534.0 163.5 1530.0 160.7 1526.0 158.0 1521.2 155.7 1516.0 153.6 1510.0 151.7 1503.0 149.9 1495.0 148.4 1486.0 146.1 1465.0 144.8 1447.0 143.8 1427.0 142.6 1376.0 142.4 1309.0 143.2 1230.0 144.9 1148.0 147.3 1068.0 150.5 993.0 154.3 924.0 158.3 867.0 162.8 814.0 167.9 764.0 173.5 718.0 179.8 674.0 186.8 632.0 194.5 593.0 203.0 555.6 212.1 521.0 222.2 488.0 233.0 457.0 244.7 428.0 257.0 401.5 263.5 389.0 270.0 377.2 277.0 365.4 284.0 354.5 291.0 344.4 299.0 333.6 307.0 323.8 315.0 314.7 323.0 306.4 331.0 298.7 339.0 291.7 348.0 284.5 357.0 278.1 366.0 272.4 375.0 267.3 385.0 262.3 394.0 258.5 404.0 254.9 414.0 251.9 424.0 249.6 434.0 247.9 444.0 246.7 455.0 246.1 466.0 246.1 477.0 246.8 489.0 248.2 500.0 250.2 512.0 253.0 524.0 256.4 536.0 260.5 548.0 265.2 560.0 270.6 572.0 276.6 584.0 283.2 596.0 290.4 608.0 298.1 620.0 306.5 633.0 316.2 646.0 326.6 658.0 336.8 670.0 347.5 683.0 359.8 695.3 372.0 708.0 385.2 720.7 399.0 733.0 413.0 758.0 443.2 783.0 475.9 807.2 510.0 831.8 547.0 857.3 588.0 882.3 631.0 907.4 677.0 931.4 724.0 954.4 772.0 976.4 821.0 997.4 871.0 1017.5 922.0 1035.7 972.0 1052.5 1022.0 1067.5 1071.0 1080.5 1118.0 1091.3 1163.0 1095.8 1184.0 1100.1 1206.0 1103.5 1226.0 1106.5 1246.0 1108.9 1265.0 1110.7 1283.0 1112.2 1305.0 1112.8 1326.0 1112.5 1346.0 1111.2 1365.0 1109.1 1382.0 1106.0 1399.0 1101.8 1415.0 1096.9 1429.0 1090.7 1443.0 1084.0 1455.0 1076.5 1466.0 1067.2 1477.0 1056.9 1487.0 1046.0 1495.8 1033.6 1504.0 1020.8 1511.0 1007.0 1517.4 992.0 1523.1 975.0 1528.6 957.0 1533.3 937.0 1537.6 916.0 1541.4 893.0 1544.7 868.0 1547.7 841.0 1550.2 811.0 1552.5 779.0 1554.3 742.8 1556.0 659.0 1558.5 557.0 1560.0Z" fill="none" stroke="#680ae7" stroke-width="3.7"/>
<path d="M544.0 1560.0 472.0 1560.3 403.0 1560.2 345.0 1559.5 299.0 1558.5 264.4 1557.0 236.6 1555.0 215.0 1552.4 206.0 1550.8 197.8 1549.0 191.0 1547.0 185.0 1544.9 179.0 1542.1 174.0 1539.1 170.0 1536.0 166.0 1532.2 162.6 1528.0 160.0 1523.9 157.5 1519.0 155.0 1512.9 152.8 1506.0 151.0 1498.5 148.0 1480.5 145.8 1458.0 144.7 1440.0 143.8 1418.0 142.7 1365.0 142.7 1297.0 143.6 1218.0 145.4 1138.0 147.9 1060.0 151.1 988.0 155.0 920.5 159.0 864.7 163.6 812.0 168.7 763.0 174.4 717.0 180.9 673.0 187.9 632.0 195.7 593.0 204.0 557.2 213.2 523.0 223.3 490.0 234.0 459.9 240.0 444.7 246.0 430.5 258.5 404.0 265.0 391.6 272.0 379.2 279.0 367.6 286.0 356.9 293.0 347.0 301.0 336.5 309.0 326.8 317.0 317.9 325.0 309.7 333.0 302.2 341.0 295.4 350.0 288.4 359.0 282.1 368.0 276.5 377.0 271.5 387.0 266.7 396.0 263.0 406.0 259.5 416.0 256.7 426.0 254.5 436.0 252.9 446.0 251.8 457.0 251.3 468.0 251.5 479.0 252.3 491.0 253.8 502.0 255.9 514.0 258.8 526.0 262.3 538.0 266.5 550.0 271.4 562.0 276.9 574.0 283.0 586.0 289.7 598.0 297.0 610.0 304.8 622.0 313.3 635.0 323.1 648.0 333.6 660.0 343.9 673.0 355.7 685.0 367.1 697.9 380.0 710.0 392.7 722.1 406.0 735.0 420.8 760.0 451.3 784.9 484.0 809.6 519.0 833.3 555.0 858.7 596.0 883.5 639.0 908.4 685.0 932.3 732.0 955.7 781.0 977.5 830.0 998.4 880.0 1018.3 931.0 1036.7 982.0 1053.2 1032.0 1067.7 1080.0 1080.4 1127.0 1090.7 1171.0 1095.3 1193.0 1099.2 1214.0 1102.5 1234.0 1105.3 1254.0 1107.4 1272.0 1109.0 1290.0 1110.2 1312.0 1110.5 1333.0 1109.8 1353.0 1108.3 1371.0 1105.7 1389.0 1102.2 1405.0 1097.9 1420.0 1092.6 1434.0 1086.3 1447.0 1079.1 1459.0 1070.9 1470.0 1061.9 1480.0 1052.1 1489.0 1040.3 1498.0 1027.6 1506.0 1014.2 1513.0 1000.0 1519.1 983.8 1525.0 967.1 1530.0 949.0 1534.5 929.0 1538.6 908.0 1542.2 885.0 1545.3 859.0 1548.2 831.0 1550.7 801.0 1552.9 768.0 1554.7 732.0 1556.2 647.0 1558.6 544.0 1560.0Z" fill="none" stroke="#6b0ce3" stroke-width="3.7"/>
<path d="M530.0 1560.0 458.0 1560.2 392.0 1560.0 336.0 1559.3 292.0 1558.1 258.0 1556.5 232.0 1554.3 211.0 1551.5 203.0 1549.9 195.0 1547.9 188.0 1545.6 182.0 1543.1 177.0 1540.5 172.0 1537.1 168.0 1533.6 164.7 1530.0 161.2 1525.0 158.4 1520.0 156.0 1514.4 153.8 1508.0 151.9 1501.0 150.3 1493.0 147.5 1474.0 145.4 1449.0 143.7 1407.0 142.9 1352.0 143.0 1282.0 144.1 1203.0 146.0 1125.0 148.7 1050.0 151.9 980.0 155.8 915.0 159.9 860.0 164.5 809.0 169.6 761.0 175.5 715.0 182.0 671.8 189.0 631.9 196.7 594.0 205.2 558.0 214.7 523.0 225.0 490.4 236.0 460.1 247.7 432.0 260.2 406.0 267.0 393.3 274.0 381.1 281.0 369.8 288.0 359.3 295.0 349.6 303.0 339.2 311.0 329.8 319.0 321.0 327.0 313.0 335.0 305.7 343.0 299.0 352.0 292.1 361.0 286.0 370.0 280.6 379.0 275.7 389.0 271.1 398.0 267.5 408.0 264.1 418.0 261.4 428.0 259.3 438.0 257.8 448.0 256.9 459.0 256.5 470.0 256.8 481.0 257.7 493.0 259.4 504.0 261.5 516.0 264.5 528.0 268.2 540.0 272.5 552.0 277.5 564.0 283.1 576.0 289.3 589.0 296.7 601.0 304.1 613.0 312.1 626.0 321.5 638.0 330.7 650.0 340.6 662.0 350.9 675.0 362.8 687.0 374.4 699.5 387.0 712.0 400.2 724.4 414.0 737.0 428.5 762.0 459.2 786.7 492.0 811.3 527.0 835.5 564.0 861.3 606.0 886.5 650.0 910.6 695.0 934.3 742.0 957.4 791.0 979.5 841.0 1000.2 891.0 1019.5 941.0 1037.6 992.0 1053.7 1041.0 1068.2 1090.0 1080.3 1136.0 1090.3 1180.0 1094.5 1201.0 1098.3 1222.0 1101.4 1242.0 1103.9 1261.0 1105.8 1279.0 1107.2 1297.0 1108.1 1319.0 1108.2 1339.0 1107.3 1358.0 1105.4 1376.0 1102.7 1393.0 1098.9 1409.0 1094.6 1423.0 1088.9 1437.0 1082.9 1449.0 1075.4 1461.0 1066.9 1472.0 1057.5 1482.0 1047.3 1491.0 1035.0 1499.9 1023.0 1507.2 1009.0 1514.2 994.0 1520.5 978.0 1526.0 960.6 1531.0 943.0 1535.2 923.0 1539.2 901.0 1542.7 876.3 1546.0 851.0 1548.7 823.0 1551.1 792.0 1553.2 757.2 1555.0 721.0 1556.5 634.0 1558.7 530.0 1560.0Z" fill="none" stroke="#6d0ddf" stroke-width="3.7"/>
<path d="M514.0 1560.0 443.0 1560.1 378.0 1559.8 325.0 1558.9 283.0 1557.6 251.0 1555.8 226.0 1553.4 215.6 1552.0 206.0 1550.3 198.0 1548.4 191.0 1546.3 184.9 1544.0 179.0 1541.1 174.0 1538.0 170.0 1534.8 166.2 1531.0 163.0 1526.9 160.0 1522.0 157.1 1516.0 154.5 1509.0 152.6 1502.0 150.8 1494.0 149.3 1485.0 146.7 1463.0 145.0 1436.0 143.5 1391.0 143.0 1332.0 143.4 1261.0 144.8 1183.0 146.8 1108.0 149.5 1037.0 152.8 970.0 156.8 907.0 161.0 853.0 165.7 803.0 171.0 755.5 176.9 711.0 183.4 669.0 190.6 629.0 198.4 592.0 207.0 556.5 216.6 522.0 227.0 490.0 238.0 460.3 249.7 433.0 256.0 419.6 262.4 407.0 269.0 394.9 276.0 383.0 283.0 371.9 290.0 361.6 297.0 352.1 305.0 342.0 313.0 332.7 321.0 324.1 329.0 316.3 338.0 308.3 346.0 301.8 355.0 295.2 364.0 289.3 373.0 284.0 382.0 279.4 392.0 274.9 401.0 271.5 411.0 268.3 421.0 265.8 431.0 263.9 441.0 262.6 451.0 261.8 462.0 261.6 473.0 262.1 484.0 263.2 496.0 265.0 507.0 267.3 519.0 270.5 531.0 274.3 543.0 278.8 555.0 283.9 567.0 289.7 580.0 296.6 592.0 303.6 604.0 311.2 616.0 319.4 628.0 328.2 641.0 338.3 653.0 348.3 666.0 359.7 679.0 371.8 691.0 383.6 703.1 396.0 716.0 409.8 740.5 438.0 765.5 469.0 790.0 501.9 814.4 537.0 839.0 575.0 864.5 617.0 889.4 661.0 913.3 706.0 937.3 754.0 959.7 802.0 981.6 852.0 1002.4 903.0 1021.8 954.0 1039.6 1005.0 1055.3 1054.0 1069.2 1102.0 1080.7 1147.0 1085.7 1169.0 1090.3 1191.0 1094.3 1212.0 1097.5 1231.0 1100.3 1250.0 1102.6 1269.0 1104.3 1287.0 1105.4 1305.0 1106.0 1326.0 1105.7 1346.0 1104.4 1365.0 1102.4 1382.0 1099.4 1398.0 1095.3 1414.0 1090.5 1428.0 1084.8 1441.0 1078.2 1453.0 1070.2 1465.0 1061.9 1475.0 1051.9 1485.0 1041.0 1494.0 1029.3 1502.0 1017.0 1509.1 1002.4 1516.0 987.2 1522.0 972.1 1527.0 954.0 1532.0 936.0 1536.1 915.3 1540.0 893.0 1543.4 869.0 1546.5 842.0 1549.2 813.0 1551.5 781.0 1553.6 747.0 1555.3 708.0 1556.7 619.0 1558.9 514.0 1560.0Z" fill="none" stroke="#6f0fda" stroke-width="3.7"/>
<path d="M491.0 1560.0 420.0 1560.0 358.0 1559.4 309.0 1558.4 270.0 1556.8 240.0 1554.7 217.2 1552.0 207.0 1550.2 199.0 1548.3 191.2 1546.0 185.0 1543.6 179.0 1540.7 174.0 1537.4 169.8 1534.0 166.0 1530.0 162.3 1525.0 159.4 1520.0 156.7 1514.0 154.3 1507.0 152.2 1499.0 150.4 1490.0 147.6 1469.0 145.5 1442.0 144.1 1408.0 143.3 1356.0 143.4 1292.0 144.3 1219.0 146.0 1144.5 148.3 1074.0 151.2 1008.0 154.7 946.0 158.7 888.0 163.0 836.7 167.9 788.0 173.3 743.0 179.3 700.0 186.0 659.4 193.3 621.0 201.3 585.0 210.0 550.6 219.5 518.0 230.0 486.7 241.0 458.2 253.0 431.0 259.4 418.0 266.0 405.5 279.2 383.0 286.4 372.0 294.0 361.2 301.0 352.0 309.0 342.3 317.0 333.4 325.0 325.2 333.0 317.7 342.0 310.0 350.0 303.8 359.0 297.5 368.0 291.9 377.0 286.9 386.0 282.5 396.0 278.4 405.0 275.2 415.0 272.3 425.0 270.0 435.0 268.3 445.0 267.2 455.0 266.7 466.0 266.7 478.0 267.5 489.0 268.9 501.0 271.0 512.0 273.6 524.0 277.0 536.0 281.2 548.0 285.9 560.0 291.3 572.0 297.3 585.0 304.5 597.0 311.8 609.0 319.6 621.0 328.1 633.0 337.1 646.0 347.5 659.0 358.6 671.0 369.4 683.2 381.0 696.0 393.8 708.6 407.0 721.0 420.6 745.4 449.0 770.0 480.2 795.0 514.2 819.5 550.0 843.7 588.0 868.8 630.0 893.5 674.0 917.6 720.0 941.7 769.0 964.2 818.0 985.7 868.0 1005.7 918.0 1024.7 969.0 1042.2 1020.0 1057.5 1069.0 1070.6 1116.0 1081.7 1161.0 1086.5 1183.0 1090.6 1204.0 1094.3 1225.0 1097.2 1244.0 1099.7 1263.0 1101.6 1281.0 1102.9 1299.0 1103.7 1316.0 1103.8 1336.0 1103.1 1355.0 1101.4 1373.0 1098.8 1390.0 1095.3 1406.0 1090.8 1421.0 1085.8 1434.0 1079.4 1447.0 1072.1 1459.0 1063.9 1470.0 1054.8 1480.0 1045.0 1489.0 1034.5 1497.0 1021.9 1505.0 1008.7 1512.0 993.0 1518.8 978.0 1524.3 961.0 1529.4 942.8 1534.0 923.5 1538.0 902.0 1541.7 879.0 1544.9 854.0 1547.7 828.0 1550.1 799.0 1552.3 766.0 1554.2 730.0 1555.8 691.0 1557.1 599.0 1559.1 491.0 1560.0Z" fill="none" stroke="#7310d3" stroke-width="3.7"/>
<path d="M596.0 1559.0 525.0 1559.7 453.0 1560.0 387.0 1559.6 331.0 1558.8 290.0 1557.6 257.0 1555.9 231.0 1553.6 211.0 1550.7 202.9 1549.0 195.4 1547.0 189.0 1544.9 183.0 1542.3 178.0 1539.6 174.0 1536.9 170.0 1533.6 166.0 1529.3 162.8 1525.0 160.0 1520.2 157.6 1515.0 155.4 1509.0 153.3 1502.0 151.5 1494.0 148.7 1476.0 147.1 1461.0 145.9 1444.0 144.2 1400.0 143.5 1342.0 143.8 1271.0 145.1 1190.0 147.4 1109.0 150.4 1032.0 154.2 960.0 158.1 902.0 162.5 848.0 167.6 797.0 173.1 750.0 179.4 705.0 186.3 663.0 194.0 623.1 202.3 586.0 211.3 551.0 221.0 518.5 231.8 487.0 243.0 458.5 255.0 431.9 261.5 419.0 268.0 406.9 275.0 394.9 282.0 383.6 289.0 373.2 296.0 363.5 304.0 353.3 312.0 343.9 320.0 335.2 328.0 327.3 336.0 320.0 345.0 312.6 353.0 306.6 362.0 300.5 371.0 295.1 380.0 290.3 389.0 286.2 399.0 282.2 408.0 279.2 418.0 276.5 428.0 274.4 438.0 272.9 449.0 271.9 460.0 271.6 471.0 271.9 482.0 272.9 493.0 274.4 504.0 276.6 515.0 279.3 527.0 283.0 538.0 286.9 550.0 291.7 562.0 297.2 574.0 303.3 586.0 310.1 598.0 317.4 610.0 325.3 622.0 333.8 634.0 342.9 646.0 352.5 658.0 362.7 670.0 373.5 682.0 384.9 694.0 396.8 706.0 409.3 718.6 423.0 743.0 451.3 767.0 481.4 791.0 513.8 814.6 548.0 839.8 587.0 864.5 628.0 888.3 670.0 911.7 714.0 934.6 760.0 956.6 807.0 977.7 855.0 997.4 903.0 1016.5 953.0 1033.5 1001.0 1048.8 1048.0 1062.4 1094.0 1074.3 1139.0 1083.9 1181.0 1091.5 1221.0 1094.5 1240.0 1097.1 1259.0 1099.6 1283.0 1101.1 1305.0 1101.7 1326.0 1101.4 1346.0 1100.1 1365.0 1097.9 1383.0 1094.6 1400.0 1090.6 1415.0 1085.7 1429.0 1079.8 1442.0 1072.5 1455.0 1064.9 1466.0 1056.0 1476.4 1046.0 1486.1 1034.9 1495.0 1022.0 1503.5 1009.0 1510.6 995.0 1517.0 979.2 1523.0 963.4 1528.0 945.0 1532.9 925.9 1537.0 904.0 1540.9 881.0 1544.2 856.0 1547.2 828.0 1549.8 799.0 1552.0 765.4 1554.0 729.0 1555.7 689.0 1557.0 596.0 1559.0Z" fill="none" stroke="#7c10c5" stroke-width="3.7"/>
<path d="M588.0 1559.0 518.0 1559.7 446.0 1559.8 381.0 1559.5 327.0 1558.6 287.0 1557.3 255.0 1555.6 230.0 1553.3 210.0 1550.2 202.0 1548.5 195.0 1546.5 189.0 1544.5 183.0 1541.9 177.9 1539.0 173.0 1535.6 169.0 1532.0 165.5 1528.0 162.7 1524.0 159.9 1519.0 157.2 1513.0 155.0 1506.6 153.2 1500.0 151.4 1492.0 148.6 1473.0 147.1 1458.0 145.9 1440.0 144.3 1395.0 143.7 1336.0 144.1 1265.0 145.5 1185.0 147.8 1105.0 150.9 1029.0 154.7 959.0 158.5 902.0 163.0 848.6 168.0 798.8 173.7 751.0 180.0 706.7 187.0 664.7 194.7 625.0 203.0 588.3 212.0 553.8 222.0 520.5 232.5 490.0 244.0 461.2 256.0 434.9 262.5 422.0 269.0 410.1 276.0 398.2 283.0 387.1 290.0 376.8 297.0 367.2 305.0 357.0 313.0 347.7 321.0 339.1 329.0 331.3 337.0 324.1 346.0 316.7 354.0 310.8 363.0 304.8 372.0 299.4 381.0 294.7 390.0 290.6 400.0 286.7 409.0 283.8 419.0 281.1 429.0 279.1 439.0 277.6 450.0 276.7 461.0 276.4 472.0 276.8 483.0 277.9 494.0 279.5 505.0 281.7 516.0 284.5 528.0 288.2 540.0 292.5 551.0 297.0 563.0 302.6 575.0 308.8 587.0 315.5 599.0 322.9 611.0 330.9 623.0 339.4 635.0 348.6 647.0 358.3 659.0 368.6 671.0 379.4 683.0 390.8 695.2 403.0 708.0 416.4 720.0 429.5 744.0 457.5 768.0 487.8 792.0 520.3 815.8 555.0 840.9 594.0 865.5 635.0 889.2 677.0 912.4 721.0 935.3 767.0 957.2 814.0 977.7 861.0 997.7 910.0 1016.3 959.0 1033.2 1007.0 1048.4 1054.0 1061.8 1100.0 1073.3 1144.0 1082.7 1186.0 1086.8 1207.0 1090.3 1227.0 1093.2 1246.0 1095.5 1264.0 1097.8 1287.0 1099.2 1309.0 1099.6 1330.0 1099.1 1350.0 1097.6 1369.0 1095.2 1386.0 1092.0 1402.0 1087.8 1417.0 1082.7 1431.0 1076.6 1444.0 1069.7 1456.0 1061.1 1468.0 1052.3 1478.0 1041.5 1488.0 1030.0 1496.9 1018.0 1504.5 1005.0 1511.4 990.1 1518.0 975.0 1523.6 958.0 1528.8 940.0 1533.4 920.0 1537.6 899.0 1541.2 875.0 1544.6 850.0 1547.5 822.6 1550.0 793.0 1552.2 759.0 1554.1 722.0 1555.8 682.0 1557.1 588.0 1559.0Z" fill="none" stroke="#4a1090" stroke-width="11"/>
<path d="M588.0 1559.0 446.0 1559.8 327.0 1558.6 287.0 1557.3 255.0 1555.6 230.0 1553.3 210.0 1550.2 195.0 1546.5 183.0 1541.9 173.0 1535.6 165.5 1528.0 159.9 1519.0 155.0 1506.6 151.4 1492.0 148.6 1473.0 145.9 1440.0 144.3 1395.0 143.7 1336.0 144.1 1265.0 145.5 1185.0 147.8 1105.0 150.9 1029.0 154.7 959.0 158.5 902.0 163.0 848.6 168.0 798.8 173.7 751.0 180.0 706.7 187.0 664.7 194.7 625.0 203.0 588.3 212.0 553.8 222.0 520.5 232.5 490.0 244.0 461.2 256.0 434.9 269.0 410.1 283.0 387.1 297.0 367.2 313.0 347.7 329.0 331.3 346.0 316.7 363.0 304.8 381.0 294.7 400.0 286.7 419.0 281.1 439.0 277.6 461.0 276.4 483.0 277.9 505.0 281.7 528.0 288.2 551.0 297.0 575.0 308.8 599.0 322.9 623.0 339.4 647.0 358.3 671.0 379.4 695.2 403.0 720.0 429.5 744.0 457.5 768.0 487.8 792.0 520.3 815.8 555.0 840.9 594.0 865.5 635.0 889.2 677.0 912.4 721.0 935.3 767.0 957.2 814.0 977.7 861.0 997.7 910.0 1016.3 959.0 1033.2 1007.0 1048.4 1054.0 1061.8 1100.0 1073.3 1144.0 1082.7 1186.0 1090.3 1227.0 1095.5 1264.0 1097.8 1287.0 1099.2 1309.0 1099.6 1330.0 1099.1 1350.0 1097.6 1369.0 1095.2 1386.0 1092.0 1402.0 1087.8 1417.0 1082.7 1431.0 1076.6 1444.0 1069.7 1456.0 1061.1 1468.0 1052.3 1478.0 1041.5 1488.0 1030.0 1496.9 1018.0 1504.5 1005.0 1511.4 990.1 1518.0 975.0 1523.6 958.0 1528.8 940.0 1533.4 920.0 1537.6 899.0 1541.2 875.0 1544.6 822.6 1550.0 759.0 1554.1 682.0 1557.1 588.0 1559.0Z" fill="#8710b5"/>
<path d="M561.0 1559.0 422.0 1559.5 313.0 1557.9 276.0 1556.4 247.0 1554.4 224.0 1551.8 205.0 1548.3 191.0 1544.1 180.0 1538.8 171.0 1532.0 164.0 1523.5 158.6 1513.0 154.1 1499.0 150.7 1482.0 148.2 1461.0 145.9 1425.0 144.6 1377.0 144.3 1315.0 145.0 1243.0 146.7 1166.0 149.2 1090.0 152.4 1019.0 156.3 952.0 160.4 897.0 165.0 845.0 170.1 797.0 176.0 750.7 182.4 708.0 189.5 667.0 197.2 629.0 205.7 593.0 215.0 558.7 225.0 526.6 235.6 497.0 247.0 469.3 259.0 443.8 272.4 419.0 286.0 397.3 301.0 376.7 317.0 358.0 333.0 342.2 350.0 328.3 367.0 316.9 385.0 307.3 404.0 299.8 423.0 294.7 443.0 291.7 465.0 291.0 487.0 292.9 510.0 297.4 533.0 304.4 556.0 313.8 579.0 325.5 603.0 340.1 627.0 357.1 651.0 376.4 675.0 397.9 699.2 422.0 724.0 449.0 748.0 477.5 772.0 508.2 796.0 541.3 819.5 576.0 844.2 615.0 868.5 656.0 892.3 699.0 915.7 744.0 938.2 790.0 959.7 837.0 980.2 885.0 999.4 933.0 1017.6 982.0 1033.6 1029.0 1048.3 1076.0 1060.6 1120.0 1071.2 1163.0 1079.8 1204.0 1086.4 1243.0 1090.8 1280.0 1092.5 1302.0 1093.2 1323.0 1093.0 1343.0 1091.9 1362.0 1089.8 1380.0 1086.9 1396.0 1083.2 1411.0 1078.2 1426.0 1072.6 1439.0 1065.6 1452.0 1058.2 1463.0 1049.3 1474.0 1039.3 1484.0 1029.0 1492.5 1017.0 1500.8 1004.5 1508.0 991.0 1514.5 976.0 1520.6 959.8 1526.0 941.9 1531.0 923.0 1535.4 903.0 1539.2 856.0 1545.8 800.0 1550.9 735.0 1554.7 656.0 1557.4 561.0 1559.0Z" fill="#8c10b0"/>
<path d="M527.0 1559.0 393.0 1559.0 339.0 1558.2 295.0 1556.8 261.5 1555.0 235.0 1552.6 214.0 1549.4 198.0 1545.4 185.0 1540.2 175.3 1534.0 167.5 1526.0 161.3 1516.0 156.3 1503.0 152.6 1487.0 149.7 1467.0 147.5 1441.0 145.8 1400.0 145.0 1347.0 145.2 1282.0 146.4 1210.0 148.3 1138.0 151.0 1068.0 154.4 1002.0 158.4 940.0 162.7 887.0 167.4 838.0 172.8 791.0 178.8 747.0 185.3 706.0 192.5 667.0 200.4 630.0 209.0 595.1 218.7 561.0 228.8 530.0 239.7 501.0 251.4 474.0 264.0 448.4 277.0 425.6 291.0 404.2 306.0 384.6 322.0 366.8 338.0 351.8 355.0 338.6 372.0 327.9 390.0 319.0 409.0 312.1 428.0 307.6 448.0 305.1 470.0 305.0 492.0 307.5 515.0 312.6 538.0 320.1 561.0 330.1 585.0 342.9 609.0 358.1 633.0 375.7 657.0 395.6 681.0 417.8 705.0 442.3 729.8 470.0 753.7 499.0 777.4 530.0 801.6 564.0 824.8 599.0 849.6 639.0 873.4 680.0 897.3 724.0 920.3 769.0 942.7 816.0 963.7 863.0 983.7 911.0 1002.4 959.0 1019.6 1007.0 1035.4 1055.0 1048.8 1100.0 1060.4 1144.0 1070.2 1187.0 1077.6 1226.0 1082.9 1263.0 1086.2 1298.0 1087.1 1319.0 1087.1 1339.0 1086.2 1357.0 1084.4 1375.0 1081.6 1392.0 1078.1 1407.0 1073.5 1422.0 1068.2 1435.0 1062.2 1447.0 1054.7 1459.0 1046.3 1470.0 1037.0 1480.0 1026.9 1489.0 1016.0 1497.1 1003.2 1505.0 989.5 1512.0 975.6 1518.0 960.0 1523.6 944.0 1528.4 925.9 1533.0 906.0 1537.2 884.0 1540.9 835.9 1547.0 778.0 1551.7 710.0 1555.2 626.0 1557.6 527.0 1559.0Z" fill="#9210aa"/>
<path d="M586.0 1558.0 448.0 1559.0 332.0 1557.6 292.0 1556.3 260.0 1554.4 234.0 1551.8 214.0 1548.6 198.0 1544.4 186.0 1539.4 176.2 1533.0 168.4 1525.0 162.2 1515.0 157.5 1503.0 153.6 1487.0 150.7 1468.0 148.0 1436.0 146.3 1393.0 145.6 1338.0 146.0 1272.0 147.4 1197.0 149.7 1122.0 152.8 1050.0 156.7 983.0 160.6 928.0 165.2 876.0 170.4 827.0 176.1 781.0 182.5 738.0 189.5 697.0 197.2 659.0 205.7 622.0 214.9 588.0 224.4 557.0 235.0 527.0 246.3 499.0 258.0 473.8 271.0 449.3 285.0 426.5 299.0 406.8 314.0 388.7 330.0 372.3 347.0 357.8 364.0 345.9 382.0 335.9 400.0 328.3 419.0 322.7 438.0 319.3 459.0 318.0 481.0 319.2 503.0 322.8 525.0 328.8 548.0 337.4 571.0 348.4 594.0 361.7 617.0 377.1 640.0 394.7 664.0 415.4 687.7 438.0 711.0 462.5 734.3 489.0 758.0 518.3 781.8 550.0 805.0 583.2 829.7 621.0 853.5 660.0 876.4 700.0 899.4 743.0 921.6 787.0 942.4 831.0 962.7 877.0 981.8 923.0 999.5 969.0 1016.3 1016.0 1031.3 1062.0 1044.3 1106.0 1055.6 1149.0 1064.7 1189.0 1071.8 1227.0 1077.2 1264.0 1079.5 1287.0 1080.8 1308.0 1081.3 1329.0 1080.9 1348.0 1079.5 1367.0 1077.2 1384.0 1074.0 1400.0 1069.9 1415.0 1064.8 1429.0 1058.8 1442.0 1051.9 1454.0 1044.2 1465.0 1035.6 1475.0 1025.3 1485.0 1013.9 1494.0 1001.8 1502.0 989.0 1509.0 975.0 1515.4 960.0 1521.2 943.0 1526.7 925.0 1531.5 905.0 1535.8 861.3 1543.0 809.0 1548.7 748.0 1552.9 673.8 1556.0 586.0 1558.0Z" fill="#9711a4"/>
<path d="M562.0 1558.0 428.0 1558.6 369.0 1558.0 320.0 1556.9 283.0 1555.4 253.0 1553.3 229.0 1550.4 210.0 1546.8 196.0 1542.6 184.0 1536.9 174.7 1530.0 167.1 1521.0 161.3 1510.0 156.6 1496.0 153.1 1479.0 150.4 1457.0 148.0 1422.0 146.6 1377.0 146.3 1319.0 146.9 1252.0 148.6 1180.0 151.1 1108.0 154.4 1040.0 158.3 976.0 162.4 923.0 167.0 873.0 172.3 826.0 178.2 781.0 184.6 739.0 191.8 699.0 199.8 661.0 208.2 626.0 217.4 593.0 227.2 562.0 238.0 532.5 249.5 505.0 262.0 479.0 275.0 455.5 289.0 433.6 303.0 414.6 318.0 397.2 334.0 381.5 351.0 367.6 368.0 356.2 386.0 346.8 404.0 339.7 423.0 334.5 442.0 331.6 463.0 330.7 485.0 332.4 507.0 336.5 529.0 342.9 552.0 351.9 575.0 363.3 598.0 377.0 621.0 392.9 644.0 410.9 668.0 432.0 691.6 455.0 715.0 480.0 738.3 507.0 762.0 536.8 785.1 568.0 808.5 602.0 832.4 639.0 856.4 679.0 879.6 720.0 902.3 763.0 924.5 808.0 945.4 853.0 965.4 899.0 983.6 944.0 1001.2 991.0 1016.8 1036.0 1031.4 1082.0 1043.6 1125.0 1054.3 1168.0 1062.5 1207.0 1068.8 1244.0 1073.1 1279.0 1074.8 1301.0 1075.6 1322.0 1075.5 1342.0 1074.5 1360.0 1072.5 1378.0 1069.6 1394.0 1066.0 1409.0 1061.4 1423.0 1055.5 1437.0 1049.1 1449.0 1042.0 1460.0 1033.3 1471.0 1024.0 1480.6 1014.0 1489.3 1003.0 1497.2 990.0 1505.1 976.3 1512.0 962.0 1518.0 946.0 1523.6 929.0 1528.6 911.1 1533.0 891.0 1537.1 845.3 1544.0 792.0 1549.3 729.0 1553.3 653.0 1556.2 562.0 1558.0Z" fill="#9c129c"/>
<path d="M534.0 1558.0 402.0 1558.1 348.0 1557.3 304.0 1556.0 270.0 1554.1 243.0 1551.6 221.0 1548.4 204.0 1544.3 191.0 1539.4 180.3 1533.0 171.8 1525.0 165.0 1514.9 159.6 1502.0 155.4 1486.0 152.2 1466.0 149.8 1441.0 147.9 1403.0 147.0 1354.0 147.1 1294.0 148.1 1226.0 150.1 1157.0 152.8 1089.0 156.2 1025.0 160.3 965.0 164.6 914.0 169.4 866.0 174.8 820.0 180.8 777.0 187.5 736.0 194.7 698.0 202.8 661.0 211.4 627.0 221.0 594.1 231.0 564.1 241.7 536.0 253.0 510.0 265.5 485.0 278.6 462.0 292.5 441.0 307.0 422.1 322.0 405.4 338.0 390.2 355.0 376.9 372.0 366.2 390.0 357.2 408.0 350.6 427.0 345.9 447.0 343.3 468.0 343.1 490.0 345.3 512.0 349.9 535.0 357.2 558.0 366.9 581.0 379.0 604.0 393.3 627.0 409.7 650.0 428.4 674.0 450.1 697.9 474.0 721.0 499.4 744.2 527.0 767.6 557.0 790.8 589.0 813.8 623.0 837.7 661.0 861.4 701.0 884.6 743.0 906.3 785.0 927.7 829.0 948.6 875.0 967.7 920.0 986.2 967.0 1003.4 1014.0 1018.4 1059.0 1031.5 1102.0 1043.1 1145.0 1052.5 1185.0 1060.1 1224.0 1065.5 1260.0 1068.9 1294.0 1070.0 1315.0 1070.2 1335.0 1069.5 1354.0 1067.9 1371.0 1065.5 1387.0 1062.1 1403.0 1057.6 1418.0 1052.6 1431.0 1046.9 1443.0 1039.7 1455.0 1031.7 1466.0 1022.8 1476.0 1013.3 1485.0 1001.7 1494.0 989.3 1502.0 976.3 1509.0 963.0 1515.0 947.3 1521.0 931.0 1526.2 913.0 1530.9 894.6 1535.0 873.0 1538.9 827.0 1545.2 772.0 1550.1 705.0 1553.9 626.0 1556.5 534.0 1558.0Z" fill="#a01495"/>
<path d="M490.0 1558.0 365.0 1557.3 317.0 1556.1 279.0 1554.2 250.0 1551.8 226.0 1548.6 207.0 1544.3 192.7 1539.0 187.0 1536.0 181.0 1532.0 172.6 1524.0 168.9 1519.0 165.4 1513.0 159.7 1499.0 155.4 1481.0 152.2 1459.0 149.9 1431.0 148.4 1397.0 147.6 1351.0 147.7 1295.0 148.7 1232.0 150.5 1167.0 153.0 1105.0 156.1 1045.0 159.8 988.0 164.0 935.2 168.5 888.0 173.7 843.0 179.4 800.0 185.7 760.0 192.5 722.0 200.0 686.2 208.0 652.8 217.0 619.9 226.7 589.0 237.0 560.2 248.0 533.3 260.0 507.7 273.0 483.5 286.0 462.5 300.0 442.8 314.0 425.9 330.0 409.3 346.0 395.5 363.0 383.4 380.0 373.7 398.0 365.8 416.0 360.1 435.0 356.3 454.0 354.7 475.0 355.2 497.0 358.2 519.0 363.6 542.0 371.7 565.0 382.2 588.0 394.9 611.0 409.9 635.0 427.9 658.0 447.3 682.0 469.9 705.3 494.0 729.0 520.8 752.8 550.0 776.0 580.8 799.0 613.5 822.0 648.5 846.3 688.0 869.7 729.0 892.3 771.0 914.4 815.0 935.5 860.0 955.3 905.0 974.5 952.0 991.5 997.0 1007.5 1043.0 1021.5 1087.0 1033.7 1130.0 1044.4 1173.0 1052.6 1212.0 1058.7 1249.0 1062.8 1284.0 1064.8 1316.0 1064.9 1335.0 1064.3 1353.0 1062.6 1371.0 1060.2 1387.0 1056.7 1403.0 1052.6 1417.0 1047.7 1430.0 1041.4 1443.0 1034.9 1454.0 1027.0 1465.0 1018.2 1475.0 1008.7 1484.0 998.0 1492.5 986.0 1500.4 973.0 1507.6 959.0 1514.1 943.8 1520.0 928.5 1525.0 911.0 1529.8 892.5 1534.0 850.0 1541.3 800.0 1547.1 741.0 1551.5 670.0 1554.8 585.0 1557.0 490.0 1558.0Z" fill="#a4148f"/>
<path d="M563.0 1557.0 432.0 1557.7 374.0 1557.1 325.0 1556.0 287.0 1554.3 257.0 1552.0 233.0 1549.0 214.0 1545.3 199.0 1540.6 187.0 1534.7 178.0 1527.9 174.0 1523.7 170.0 1518.4 163.9 1507.0 159.1 1493.0 155.4 1476.0 152.5 1454.0 150.0 1420.0 148.6 1377.0 148.2 1323.0 148.8 1261.0 150.4 1193.0 153.0 1124.0 156.3 1058.0 160.3 996.0 164.5 944.0 169.3 895.0 174.6 849.0 180.6 805.0 187.2 764.0 194.4 725.0 202.4 688.0 211.0 653.5 220.0 622.0 230.0 591.3 240.6 563.0 252.0 536.2 264.0 511.6 277.0 488.4 291.0 466.7 305.0 448.0 320.0 430.8 336.0 415.3 352.0 402.3 369.0 391.1 387.0 381.7 405.0 374.6 423.0 369.8 442.0 366.8 463.0 366.0 484.0 367.5 505.0 371.3 527.0 377.5 549.0 386.0 572.0 397.2 594.0 410.0 617.0 425.6 640.0 443.4 663.0 463.4 686.0 485.5 709.0 509.8 732.0 536.2 755.0 564.7 777.6 595.0 800.0 627.0 823.4 663.0 846.6 701.0 868.8 740.0 890.7 781.0 912.3 824.0 932.5 867.0 951.8 911.0 969.8 955.0 986.5 999.0 1002.3 1044.0 1016.3 1088.0 1028.1 1129.0 1038.5 1170.0 1046.6 1208.0 1052.8 1244.0 1057.1 1278.0 1058.9 1299.0 1059.8 1320.0 1059.8 1339.0 1058.9 1357.0 1057.1 1374.0 1054.5 1390.0 1050.8 1406.0 1046.4 1420.0 1040.7 1434.0 1034.5 1446.0 1027.6 1457.0 1019.1 1468.0 1009.7 1478.0 999.6 1487.0 988.8 1495.0 975.9 1503.0 962.3 1510.0 948.4 1516.0 933.0 1521.6 917.0 1526.5 899.4 1531.0 880.0 1535.1 858.2 1539.0 835.0 1542.3 783.0 1547.9 722.9 1552.0 650.0 1555.0 563.0 1557.0Z" fill="#a6148a"/>
<path d="M538.0 1557.0 410.0 1557.3 356.0 1556.5 311.0 1555.0 276.0 1553.1 249.0 1550.6 227.0 1547.3 208.9 1543.0 195.0 1537.7 184.0 1531.3 175.0 1523.0 168.0 1512.8 162.4 1500.0 157.9 1484.0 154.5 1464.0 152.0 1439.4 150.0 1403.0 149.0 1357.0 149.0 1301.0 150.0 1238.0 151.9 1172.0 154.6 1107.0 158.0 1045.0 162.2 986.0 166.5 936.0 171.4 889.0 176.9 844.0 183.0 802.1 189.7 762.0 197.0 724.7 205.0 689.1 213.8 655.0 223.0 624.0 233.0 594.4 244.0 566.0 255.5 540.0 268.0 515.4 281.0 493.0 295.0 472.2 309.0 454.2 324.0 437.7 340.0 422.8 356.0 410.4 373.0 399.7 391.0 390.8 409.0 384.3 427.0 379.9 446.0 377.4 467.0 377.0 488.0 378.9 509.0 383.1 531.0 389.8 553.0 398.7 576.0 410.3 598.0 423.6 621.0 439.6 644.0 457.9 667.0 478.3 690.0 500.8 713.0 525.5 736.0 552.4 759.0 581.4 781.5 612.0 804.0 644.8 827.2 681.0 850.6 720.0 872.5 759.0 894.5 801.0 915.7 844.0 935.5 887.0 954.4 931.0 971.6 974.0 987.6 1017.0 1002.6 1061.0 1015.9 1104.0 1027.4 1146.0 1036.8 1185.0 1044.4 1223.0 1049.8 1258.0 1053.4 1292.0 1054.6 1313.0 1054.9 1332.0 1054.4 1350.0 1052.9 1368.0 1050.5 1385.0 1047.3 1400.0 1043.4 1414.0 1038.2 1428.0 1032.6 1440.0 1025.7 1452.0 1017.9 1463.0 1009.4 1473.0 1000.1 1482.0 989.0 1491.0 977.1 1499.0 964.7 1506.0 952.0 1512.1 937.0 1518.1 921.0 1523.5 903.0 1528.6 883.9 1533.0 864.0 1536.9 819.0 1543.4 765.0 1548.7 702.0 1552.5 626.0 1555.4 538.0 1557.0Z" fill="#a91486"/>
<path d="M504.0 1557.0 380.0 1556.6 331.0 1555.4 291.0 1553.6 260.0 1551.2 235.0 1548.0 215.6 1544.0 200.0 1538.9 188.0 1532.6 183.0 1529.0 178.0 1524.4 174.0 1519.8 170.1 1514.0 164.0 1501.3 159.1 1485.0 155.5 1465.0 152.8 1440.0 151.0 1410.0 149.8 1368.0 149.5 1317.0 150.2 1258.0 151.8 1196.0 154.1 1135.0 157.2 1075.0 160.9 1018.0 165.1 965.0 169.7 918.0 174.8 873.0 180.5 831.0 186.8 791.0 193.7 753.0 201.2 717.0 209.4 683.0 218.2 651.0 228.0 620.0 238.0 592.1 249.0 565.3 261.0 539.7 274.0 515.5 287.0 494.6 301.0 474.9 315.0 458.0 330.0 442.5 346.0 428.5 362.0 417.0 379.0 407.1 397.0 399.0 415.0 393.2 433.0 389.4 452.0 387.6 473.0 387.9 494.0 390.5 516.0 395.6 538.0 403.0 560.0 412.6 583.0 425.0 605.0 438.9 628.0 455.7 651.0 474.6 674.0 495.7 697.0 519.0 720.0 544.4 743.0 572.0 765.4 601.0 788.0 632.5 810.5 666.0 833.6 703.0 856.4 742.0 878.4 782.0 899.9 824.0 920.5 867.0 940.3 911.0 958.6 955.0 975.7 999.0 991.4 1043.0 1005.3 1086.0 1017.6 1128.0 1027.9 1168.0 1036.5 1207.0 1042.8 1243.0 1047.3 1277.0 1049.7 1309.0 1050.1 1329.0 1049.7 1347.0 1048.5 1364.0 1046.3 1381.0 1043.4 1396.0 1039.4 1411.0 1034.5 1425.0 1029.2 1437.0 1022.6 1449.0 1015.2 1460.0 1007.0 1470.0 997.1 1480.0 987.0 1488.5 976.0 1496.3 963.0 1504.0 950.0 1510.4 936.0 1516.3 920.0 1521.9 903.0 1527.0 886.0 1531.2 867.0 1535.1 845.0 1538.9 797.5 1545.0 741.0 1549.8 674.0 1553.3 594.0 1555.8 504.0 1557.0Z" fill="#ab1481"/>
<path d="M563.0 1556.0 434.0 1556.8 376.0 1556.2 328.0 1554.9 291.0 1553.2 261.0 1550.8 237.0 1547.7 217.0 1543.6 202.0 1538.7 190.0 1532.6 180.3 1525.0 172.7 1516.0 166.3 1504.0 161.4 1490.0 157.5 1472.0 154.5 1450.0 152.0 1417.0 150.6 1376.0 150.2 1326.0 150.7 1267.0 152.3 1203.0 154.8 1138.0 158.1 1075.0 162.2 1015.0 166.3 965.0 171.2 917.0 176.5 872.0 182.6 829.0 189.3 788.0 196.6 750.0 204.5 714.0 213.1 680.0 222.1 649.0 232.0 619.2 242.7 591.0 254.0 564.8 266.0 540.6 278.8 518.0 292.0 497.7 306.0 479.0 321.0 461.9 336.0 447.3 352.0 434.2 369.0 422.9 386.0 413.9 404.0 406.7 422.0 401.7 441.0 398.6 461.0 397.6 482.0 398.9 503.0 402.5 524.0 408.3 546.0 416.5 568.0 426.9 590.0 439.5 612.0 454.1 634.0 470.8 657.0 490.3 679.9 512.0 702.0 534.9 724.0 559.7 746.4 587.0 768.5 616.0 790.4 647.0 813.6 682.0 835.9 718.0 857.9 756.0 879.6 796.0 900.4 837.0 920.4 879.0 938.6 920.0 956.5 963.0 973.4 1007.0 988.3 1049.0 1001.6 1090.0 1013.6 1131.0 1023.6 1170.0 1031.7 1207.0 1038.1 1243.0 1042.5 1276.0 1044.4 1298.0 1045.3 1318.0 1045.4 1337.0 1044.6 1355.0 1042.9 1372.0 1040.4 1388.0 1036.7 1404.0 1032.4 1418.0 1027.2 1431.0 1021.2 1443.0 1014.5 1454.0 1006.3 1465.0 997.3 1475.0 987.5 1484.0 976.0 1492.8 964.0 1500.4 951.0 1507.4 937.0 1513.7 922.0 1519.4 906.0 1524.5 889.0 1529.0 869.0 1533.5 826.0 1540.7 776.0 1546.4 716.0 1550.8 645.0 1554.0 563.0 1556.0Z" fill="#ae157d"/>
<path d="M541.0 1556.0 415.0 1556.4 361.0 1555.5 316.0 1554.1 281.0 1552.0 253.0 1549.3 231.0 1545.9 213.0 1541.6 199.0 1536.3 188.0 1529.9 183.0 1525.9 178.1 1521.0 171.0 1511.0 165.1 1498.0 160.4 1482.0 156.8 1462.0 154.2 1438.0 152.1 1403.0 151.0 1359.0 150.9 1306.0 151.8 1247.0 153.7 1184.0 156.4 1122.0 159.9 1062.0 164.0 1005.4 168.4 956.0 173.4 910.0 178.9 866.0 185.0 825.1 191.7 786.0 199.1 749.0 207.1 714.0 216.0 680.4 225.2 650.0 235.1 621.0 246.0 593.4 257.4 568.0 269.0 545.2 282.0 523.0 296.0 502.2 310.0 484.2 325.0 467.8 340.0 453.8 356.0 441.3 373.0 430.5 390.0 422.0 408.0 415.3 426.0 410.7 445.0 408.1 465.0 407.5 486.0 409.3 507.0 413.3 528.0 419.5 550.0 428.2 572.0 439.0 594.0 452.0 616.0 467.0 638.0 484.1 661.0 504.1 683.8 526.0 706.0 549.5 728.2 575.0 751.0 603.3 773.0 632.8 794.8 664.0 817.6 699.0 839.5 735.0 861.7 774.0 882.5 813.0 903.4 855.0 922.6 896.0 941.4 939.0 958.4 981.0 974.6 1024.0 989.4 1067.0 1002.2 1108.0 1013.4 1148.0 1022.6 1186.0 1030.1 1223.0 1035.6 1257.0 1039.1 1289.0 1040.5 1310.0 1040.9 1329.0 1040.5 1348.0 1039.2 1365.0 1036.9 1382.0 1033.9 1397.0 1029.8 1412.0 1025.1 1425.0 1019.7 1437.0 1013.0 1449.0 1005.5 1460.0 997.2 1470.0 988.2 1479.0 977.5 1488.0 966.1 1496.0 953.0 1503.7 940.2 1510.0 925.8 1516.0 910.0 1521.5 893.0 1526.5 874.6 1531.0 855.0 1535.0 811.0 1541.8 760.0 1547.1 698.0 1551.3 626.0 1554.2 541.0 1556.0Z" fill="#b01579"/>
<path d="M513.0 1556.0 450.0 1556.2 391.0 1555.8 342.0 1554.7 301.0 1552.9 269.0 1550.5 243.0 1547.4 222.0 1543.2 206.0 1538.2 193.2 1532.0 187.3 1528.0 182.6 1524.0 178.0 1519.1 174.2 1514.0 167.8 1502.0 162.7 1487.0 158.6 1468.0 155.6 1445.0 153.4 1416.0 152.0 1377.0 151.5 1330.0 151.9 1275.0 153.3 1216.0 155.6 1156.0 158.6 1098.0 162.2 1042.0 166.5 989.0 171.1 942.0 176.3 898.0 182.0 856.0 188.2 817.0 195.0 779.8 202.6 744.0 210.8 710.0 219.7 678.0 229.0 648.7 239.4 620.0 250.1 594.0 262.0 568.6 274.0 546.2 287.0 525.0 301.0 505.3 315.0 488.2 330.0 472.6 345.0 459.3 361.0 447.5 378.0 437.4 395.0 429.5 413.0 423.4 431.0 419.4 450.0 417.3 470.0 417.3 491.0 419.7 512.0 424.2 534.0 431.3 556.0 440.6 578.0 452.0 600.0 465.6 622.0 481.2 645.0 499.7 667.0 519.5 689.7 542.0 712.0 566.2 734.8 593.0 756.8 621.0 778.7 651.0 800.0 682.2 822.8 718.0 844.9 755.0 866.6 794.0 887.5 834.0 907.5 875.0 926.7 917.0 944.5 959.0 961.5 1002.0 976.8 1044.0 990.8 1086.0 1002.8 1126.0 1013.4 1166.0 1021.7 1203.0 1028.4 1239.0 1033.1 1273.0 1035.8 1304.0 1036.5 1323.0 1036.3 1342.0 1035.3 1359.0 1033.4 1376.0 1030.5 1392.0 1027.1 1406.0 1022.5 1420.0 1017.1 1433.0 1010.8 1445.0 1003.7 1456.0 996.0 1466.0 986.6 1476.0 976.5 1485.0 965.7 1493.0 954.0 1500.3 941.0 1507.2 927.0 1513.4 912.1 1519.0 896.3 1524.0 879.0 1528.6 860.0 1532.8 840.0 1536.6 794.0 1543.0 740.0 1548.1 675.0 1551.9 599.0 1554.6 513.0 1556.0Z" fill="#b31675"/>
<path d="M562.0 1555.0 437.0 1555.9 380.0 1555.3 332.9 1554.0 295.0 1552.1 265.0 1549.6 241.0 1546.4 221.0 1542.2 205.4 1537.0 193.0 1530.7 183.0 1522.8 175.0 1513.1 168.5 1501.0 163.7 1487.0 159.7 1469.0 156.6 1447.0 154.1 1415.0 152.6 1375.0 152.1 1327.0 152.7 1271.0 154.2 1210.0 156.7 1148.0 160.0 1088.0 164.1 1030.0 168.4 981.0 173.3 934.0 178.8 890.0 184.9 848.0 191.7 808.0 199.0 770.7 207.0 735.4 215.7 702.0 225.0 670.9 234.8 642.0 245.0 615.7 256.3 590.0 268.0 566.7 281.0 544.0 294.0 524.3 308.0 505.9 323.0 489.0 338.0 474.6 354.0 461.8 370.0 451.2 387.0 442.3 405.0 435.2 423.0 430.3 441.0 427.4 461.0 426.4 481.0 427.6 502.0 431.1 523.0 436.8 544.0 444.6 566.0 454.9 587.0 466.7 609.0 481.2 631.0 497.7 653.0 516.2 675.0 536.7 697.0 559.3 719.0 583.9 740.6 610.0 762.0 637.8 783.6 668.0 806.0 701.5 828.1 737.0 849.7 774.0 870.5 812.0 890.5 851.0 909.7 891.0 927.7 931.0 945.3 973.0 961.6 1015.0 976.2 1056.0 989.3 1096.0 1000.8 1135.0 1010.6 1173.0 1018.8 1210.0 1024.9 1244.0 1029.2 1277.0 1031.1 1298.0 1032.0 1317.0 1032.1 1336.0 1031.4 1354.0 1029.7 1371.0 1027.2 1387.0 1023.8 1402.0 1019.6 1416.0 1014.5 1429.0 1008.0 1442.0 1001.3 1453.0 993.1 1464.0 984.0 1474.0 974.2 1483.0 963.8 1491.0 952.0 1498.6 939.0 1505.7 925.3 1512.0 911.0 1517.5 895.0 1522.8 877.0 1527.7 858.3 1532.0 817.0 1539.2 768.2 1545.0 710.0 1549.5 641.0 1552.9 562.0 1555.0Z" fill="#b51771"/>
<path d="M542.0 1555.0 479.0 1555.6 418.0 1555.5 365.0 1554.6 320.0 1553.1 285.6 1551.0 257.0 1548.1 234.0 1544.5 216.3 1540.0 202.0 1534.5 190.0 1527.3 181.0 1519.0 177.0 1514.0 173.2 1508.0 167.3 1495.0 162.6 1479.0 158.9 1459.0 156.2 1435.0 154.1 1401.0 153.0 1359.0 152.8 1309.0 153.7 1253.0 155.5 1194.0 158.3 1134.0 161.7 1076.0 165.9 1021.0 170.3 974.0 175.2 929.0 180.8 886.0 187.0 845.5 193.8 807.0 201.1 771.0 209.1 737.0 218.0 703.8 227.0 674.4 237.0 645.7 247.6 619.0 259.0 593.8 271.0 570.5 284.0 548.5 297.0 529.4 311.0 511.5 326.0 495.1 341.0 481.2 357.0 468.8 373.0 458.6 390.0 450.0 408.0 443.3 426.0 438.7 444.0 436.1 464.0 435.5 484.0 437.0 505.0 440.8 526.0 446.8 547.0 454.9 569.0 465.5 590.0 477.7 612.0 492.5 634.0 509.3 656.0 528.1 678.0 549.0 700.0 571.9 722.0 596.8 743.3 623.0 765.0 651.5 786.5 682.0 808.3 715.0 830.5 751.0 851.8 788.0 872.4 826.0 892.6 866.0 911.5 906.0 929.6 947.0 946.5 988.0 962.4 1030.0 976.7 1071.0 989.4 1111.0 1000.4 1150.0 1009.5 1187.0 1016.8 1222.0 1022.4 1256.0 1026.1 1288.0 1027.5 1308.0 1028.0 1327.0 1027.6 1346.0 1026.4 1363.0 1024.4 1379.0 1021.3 1395.0 1017.6 1409.0 1012.7 1423.0 1007.3 1435.0 1000.8 1447.0 993.3 1458.0 985.2 1468.0 976.4 1477.0 965.9 1486.0 954.7 1494.0 942.0 1501.6 929.4 1508.0 915.4 1514.0 900.0 1519.6 883.0 1524.7 866.0 1529.1 846.0 1533.3 803.0 1540.3 752.0 1545.8 693.9 1550.0 624.0 1553.1 542.0 1555.0Z" fill="#b7176d"/>
<path d="M518.0 1555.0 456.0 1555.3 398.0 1554.9 348.0 1553.8 306.9 1552.0 274.0 1549.5 248.0 1546.3 227.0 1542.2 210.2 1537.0 197.0 1530.7 186.5 1523.0 182.0 1518.4 177.7 1513.0 170.9 1501.0 165.4 1486.0 161.3 1468.0 158.0 1445.0 155.6 1417.0 154.0 1380.0 153.4 1336.0 153.8 1284.0 155.1 1228.0 157.2 1171.0 160.2 1114.0 163.9 1059.0 168.2 1007.0 172.9 961.0 178.0 917.9 183.7 877.0 190.0 838.1 197.0 800.7 204.5 766.0 212.9 732.0 221.6 701.0 231.0 671.9 241.0 644.5 252.0 618.1 263.4 594.0 275.3 572.0 288.3 551.0 302.0 531.7 316.0 514.7 331.0 499.1 346.0 485.9 362.0 474.2 378.0 464.7 395.0 456.8 413.0 450.6 431.0 446.6 449.0 444.5 469.0 444.4 489.0 446.5 510.0 450.9 531.0 457.4 552.0 466.0 574.0 477.1 595.0 489.8 617.0 505.0 639.0 522.4 661.0 541.7 683.0 563.1 705.0 586.5 727.0 612.0 748.6 639.0 770.1 668.0 791.6 699.0 813.6 733.0 835.3 769.0 856.2 806.0 876.9 845.0 896.7 885.0 915.6 926.0 933.2 967.0 949.6 1008.0 964.7 1049.0 978.5 1090.0 990.3 1129.0 1000.5 1167.0 1008.8 1203.0 1015.5 1238.0 1020.2 1271.0 1023.0 1302.0 1023.8 1321.0 1023.8 1339.0 1022.8 1357.0 1021.1 1373.0 1018.6 1388.0 1015.1 1403.0 1010.7 1417.0 1005.5 1430.0 999.4 1442.0 992.6 1453.0 985.1 1463.0 976.1 1473.0 966.3 1482.0 956.0 1490.0 943.7 1498.0 930.8 1505.0 917.8 1511.0 902.4 1517.0 887.2 1522.0 870.0 1526.8 851.8 1531.0 831.2 1535.0 787.0 1541.5 734.0 1546.7 673.0 1550.6 601.0 1553.4 518.0 1555.0Z" fill="#ba1868"/>
<path d="M471.0 1555.0 410.0 1554.7 357.0 1553.7 314.0 1552.0 278.0 1549.4 250.0 1546.0 228.0 1541.7 210.1 1536.0 203.0 1532.8 196.2 1529.0 190.6 1525.0 185.0 1520.0 180.6 1515.0 176.4 1509.0 172.5 1502.0 169.5 1495.0 164.3 1478.0 160.2 1456.0 157.2 1429.0 155.2 1395.0 154.2 1354.0 154.1 1309.0 154.9 1260.0 156.5 1207.0 158.8 1154.0 161.8 1103.0 165.3 1053.0 169.4 1006.0 174.1 961.0 179.1 920.0 184.6 881.0 190.9 843.0 197.5 808.0 204.6 775.0 212.5 743.0 221.0 712.4 230.0 684.0 239.7 657.0 250.0 631.7 261.0 607.8 273.0 584.9 285.0 564.9 298.0 545.8 312.0 528.0 326.0 512.7 341.0 498.7 356.0 487.0 372.0 476.6 388.0 468.4 405.0 461.7 422.0 456.9 440.0 453.9 458.0 452.8 478.0 453.7 499.0 456.9 520.0 462.3 541.0 469.8 562.0 479.4 584.0 491.6 606.0 505.8 628.0 522.2 650.0 540.6 672.0 561.0 694.0 583.5 716.0 608.0 738.0 634.6 759.8 663.0 781.2 693.0 802.5 725.0 824.3 760.0 845.8 797.0 866.5 835.0 886.8 875.0 906.3 916.0 924.4 957.0 941.2 998.0 956.7 1039.0 970.6 1079.0 983.5 1120.0 994.3 1159.0 1003.2 1196.0 1010.2 1231.0 1015.3 1264.0 1018.5 1295.0 1019.8 1324.0 1019.6 1342.0 1018.6 1359.0 1016.7 1376.0 1014.0 1391.0 1010.5 1405.0 1005.9 1419.0 1000.9 1431.0 994.7 1443.0 987.7 1454.0 980.0 1464.0 971.7 1473.0 961.9 1482.0 951.5 1490.0 939.1 1498.0 926.1 1505.0 913.0 1511.0 898.0 1516.8 882.1 1522.0 865.0 1526.7 847.0 1530.9 806.0 1538.1 757.7 1544.0 701.0 1548.6 634.0 1551.9 556.0 1554.1 471.0 1555.0Z" fill="#bc1966"/>
<path d="M543.0 1554.0 482.0 1554.7 422.0 1554.5 369.0 1553.7 325.0 1552.1 290.0 1550.0 261.0 1547.0 238.0 1543.2 220.0 1538.6 205.5 1533.0 193.7 1526.0 188.7 1522.0 183.7 1517.0 176.0 1506.2 169.8 1493.0 165.0 1477.0 161.1 1457.0 158.3 1433.0 156.1 1400.0 154.9 1360.0 154.8 1312.0 155.6 1259.0 157.4 1202.0 160.2 1144.0 163.7 1088.0 167.9 1034.0 172.3 988.0 177.4 944.0 183.0 902.2 189.3 862.0 196.0 825.0 203.6 789.0 211.7 755.0 220.6 723.0 230.0 693.0 240.0 665.1 250.6 639.0 261.8 615.0 273.3 593.0 286.0 571.9 299.0 553.0 313.0 535.4 327.0 520.2 342.0 506.3 358.0 494.0 374.0 483.9 391.0 475.4 408.0 469.0 426.0 464.4 444.0 461.8 463.0 461.1 483.0 462.6 503.0 466.1 524.0 471.9 545.0 479.9 566.0 489.9 587.0 501.8 608.0 515.7 629.0 531.5 651.0 550.0 672.4 570.0 694.0 592.1 715.4 616.0 737.0 642.1 758.0 669.5 779.1 699.0 801.0 731.8 822.3 766.0 843.3 802.0 863.5 839.0 882.9 877.0 901.5 916.0 919.4 956.0 935.5 995.0 951.3 1036.0 965.4 1076.0 977.5 1114.0 988.4 1152.0 997.4 1188.0 1004.8 1223.0 1010.3 1256.0 1013.9 1287.0 1015.3 1307.0 1015.9 1326.0 1015.6 1344.0 1014.5 1361.0 1012.6 1377.0 1009.8 1392.0 1006.2 1406.0 1001.5 1420.0 996.4 1432.0 990.0 1444.0 982.8 1455.0 975.0 1465.0 966.5 1474.0 956.4 1483.0 945.7 1491.0 932.9 1499.0 919.5 1506.0 905.9 1512.0 891.0 1517.6 875.0 1522.6 858.0 1527.2 839.0 1531.4 796.0 1538.7 746.0 1544.5 688.0 1548.9 621.0 1552.0 543.0 1554.0Z" fill="#bd1963"/>
<path d="M521.0 1554.0 460.0 1554.4 402.0 1554.0 353.0 1552.9 312.0 1551.1 279.0 1548.5 253.0 1545.3 232.0 1541.2 214.8 1536.0 201.0 1529.5 190.0 1521.7 181.1 1512.0 173.9 1500.0 168.1 1485.0 163.7 1467.0 160.2 1444.0 157.8 1417.0 156.1 1382.0 155.4 1340.0 155.7 1291.0 156.9 1237.0 159.0 1182.0 162.0 1126.3 165.7 1073.0 170.0 1022.6 174.6 978.0 179.8 935.0 185.7 894.0 192.0 856.1 199.0 819.5 206.6 785.0 214.9 752.0 223.5 722.0 233.0 693.0 243.0 666.1 253.5 641.0 265.0 617.1 277.0 595.0 290.0 574.2 303.0 556.0 317.0 539.1 332.0 523.6 347.0 510.4 363.0 498.8 379.0 489.3 396.0 481.5 413.0 475.7 430.0 471.8 448.0 469.6 467.0 469.4 487.0 471.3 507.0 475.2 528.0 481.5 549.0 489.8 570.0 500.2 591.0 512.5 613.0 527.5 634.0 543.8 656.0 562.8 678.0 583.9 699.0 606.0 720.9 631.0 742.0 657.1 763.0 685.0 784.0 714.9 805.6 748.0 826.4 782.0 847.6 819.0 867.4 856.0 886.4 894.0 905.1 934.0 922.5 974.0 938.7 1014.0 953.2 1053.0 966.5 1092.0 978.5 1131.0 988.6 1168.0 996.8 1203.0 1003.5 1238.0 1008.2 1270.0 1011.1 1300.0 1012.0 1319.0 1012.0 1337.0 1011.3 1354.0 1009.6 1371.0 1007.2 1386.0 1003.7 1401.0 999.8 1414.0 994.7 1427.0 988.9 1439.0 982.3 1450.0 975.0 1460.0 966.3 1470.0 956.9 1479.0 946.0 1487.7 935.0 1495.1 922.0 1502.5 908.4 1509.0 893.5 1515.0 878.8 1520.0 861.5 1525.0 844.0 1529.2 824.0 1533.3 780.5 1540.0 730.0 1545.3 670.0 1549.4 600.0 1552.3 521.0 1554.0Z" fill="#bf1a60"/>
<path d="M487.0 1554.0 427.0 1554.0 373.0 1553.1 329.0 1551.6 292.0 1549.2 262.0 1546.0 239.0 1542.1 220.1 1537.0 205.0 1530.7 198.7 1527.0 193.0 1522.8 187.7 1518.0 183.3 1513.0 179.0 1507.0 175.6 1501.0 169.5 1486.0 164.6 1467.0 161.0 1444.0 158.4 1416.0 156.7 1381.0 156.1 1341.0 156.3 1295.0 157.4 1245.0 159.3 1192.0 162.0 1140.0 165.3 1090.0 169.3 1041.0 173.9 995.0 178.8 953.0 184.3 913.0 190.3 875.0 196.9 839.0 204.0 805.3 211.7 773.0 220.0 742.5 229.0 713.4 238.6 686.0 249.0 659.8 260.0 635.5 271.0 613.9 283.0 593.3 296.0 573.7 309.0 556.6 323.0 540.6 338.0 526.1 353.0 513.8 369.0 503.0 385.0 494.3 402.0 487.2 419.0 482.1 436.0 478.8 454.0 477.3 474.0 477.7 494.0 480.3 514.0 485.0 535.0 492.0 556.0 501.0 577.0 512.1 598.0 525.1 620.0 540.8 641.0 557.7 663.0 577.5 684.7 599.0 706.0 622.0 727.2 647.0 749.0 674.6 770.0 703.3 791.0 734.0 812.6 768.0 833.5 803.0 854.1 840.0 873.8 878.0 892.8 917.0 910.9 957.0 927.7 997.0 943.2 1037.0 957.5 1077.0 969.8 1115.0 980.7 1153.0 989.8 1189.0 997.2 1224.0 1002.7 1257.0 1006.4 1288.0 1008.1 1317.0 1008.3 1335.0 1007.6 1352.0 1006.2 1368.0 1003.7 1384.0 1000.7 1398.0 996.6 1412.0 991.7 1425.0 986.0 1437.0 979.6 1448.0 972.6 1458.0 964.1 1468.0 955.0 1477.0 945.5 1485.0 934.1 1493.0 922.0 1500.2 908.0 1507.2 894.2 1513.0 879.0 1518.4 862.0 1523.5 844.3 1528.0 805.0 1535.6 759.0 1541.8 705.0 1546.7 642.0 1550.4 568.0 1552.8 487.0 1554.0Z" fill="#c11b5d"/>
<path d="M543.0 1553.0 483.0 1553.7 424.0 1553.6 372.0 1552.7 328.0 1551.1 294.0 1548.9 265.0 1545.9 241.7 1542.0 223.0 1537.1 208.0 1531.1 196.2 1524.0 186.4 1515.0 178.4 1504.0 172.0 1490.3 167.0 1474.0 163.2 1454.0 160.3 1430.0 158.1 1398.0 156.9 1359.0 156.7 1313.0 157.6 1262.0 159.4 1207.0 162.1 1152.0 165.6 1098.0 169.9 1046.0 174.5 1000.0 179.6 957.0 185.3 916.0 191.6 877.0 198.5 840.0 206.0 805.3 214.0 772.8 223.0 741.0 232.0 712.8 242.0 685.3 252.9 659.0 264.0 635.4 276.0 613.1 288.0 593.4 301.0 574.8 315.0 557.4 329.0 542.4 344.0 528.7 360.0 516.6 376.0 506.7 392.0 498.9 409.0 492.6 426.0 488.3 444.0 485.6 463.0 485.0 483.0 486.4 503.0 490.0 523.0 495.5 543.0 503.0 564.0 512.8 584.0 524.0 605.0 537.7 626.0 553.3 647.0 570.9 668.8 591.0 690.0 612.6 711.0 635.8 732.0 661.0 752.9 688.0 773.0 715.9 794.6 748.0 815.3 781.0 835.9 816.0 855.6 852.0 874.7 889.0 892.5 926.0 909.6 964.0 926.3 1004.0 941.4 1043.0 954.8 1081.0 967.1 1119.0 977.7 1156.0 986.5 1191.0 993.6 1225.0 999.0 1257.0 1002.6 1287.0 1004.0 1306.0 1004.6 1325.0 1004.4 1343.0 1003.3 1360.0 1001.4 1376.0 998.6 1391.0 995.1 1405.0 990.7 1418.0 985.7 1430.0 979.4 1442.0 972.4 1453.0 964.6 1463.0 956.0 1472.3 946.0 1481.3 934.5 1490.0 923.0 1497.3 910.4 1504.0 897.2 1510.0 882.0 1515.9 866.1 1521.0 849.0 1525.7 830.3 1530.0 790.0 1537.1 741.8 1543.0 685.0 1547.6 618.0 1550.9 543.0 1553.0Z" fill="#c21b5b"/>
<path d="M523.0 1553.0 463.0 1553.5 406.0 1553.1 357.0 1552.0 316.0 1550.1 284.0 1547.6 257.0 1544.2 235.9 1540.0 218.0 1534.5 204.1 1528.0 192.9 1520.0 188.0 1515.2 183.7 1510.0 176.4 1498.0 170.5 1483.0 165.9 1465.0 162.4 1443.0 159.8 1416.0 158.1 1382.0 157.4 1341.0 157.6 1294.0 158.8 1243.0 160.9 1190.0 163.8 1137.0 167.5 1085.0 171.8 1036.0 176.5 992.0 181.8 950.0 187.5 911.0 193.9 873.0 201.0 836.6 208.5 803.0 216.7 771.0 225.5 741.0 235.0 712.4 245.0 685.8 255.6 661.0 267.0 637.5 279.0 615.8 291.0 596.7 304.0 578.6 318.0 561.7 332.0 547.2 347.0 533.9 363.0 522.2 379.0 512.7 395.0 505.2 412.0 499.3 429.0 495.3 447.0 493.0 466.0 492.6 486.0 494.4 506.0 498.2 526.0 504.1 546.0 511.9 567.0 522.0 588.0 534.2 609.0 548.2 630.0 564.3 651.0 582.2 672.0 602.0 693.0 623.7 714.0 647.3 735.0 672.8 756.0 700.4 776.4 729.0 797.6 761.0 818.6 795.0 838.9 830.0 858.3 866.0 877.6 904.0 895.5 942.0 912.7 981.0 928.2 1019.0 942.5 1057.0 955.6 1095.0 967.4 1133.0 977.4 1169.0 985.7 1204.0 992.2 1237.0 996.9 1268.0 999.9 1298.0 1000.8 1317.0 1001.0 1335.0 1000.3 1352.0 998.7 1369.0 996.4 1384.0 993.1 1399.0 989.2 1412.0 984.2 1425.0 978.5 1437.0 972.0 1448.0 964.9 1458.0 956.3 1468.0 947.1 1477.0 937.0 1485.3 925.9 1493.0 913.0 1500.5 899.8 1507.0 885.3 1513.0 871.0 1518.1 854.5 1523.0 837.0 1527.4 818.0 1531.5 775.0 1538.4 725.0 1544.0 668.0 1548.1 600.0 1551.2 523.0 1553.0Z" fill="#c41c58"/>
<path d="M494.0 1553.0 435.0 1553.1 382.0 1552.3 337.0 1550.8 299.0 1548.5 269.0 1545.3 245.0 1541.4 226.0 1536.5 210.0 1530.1 203.0 1526.2 197.0 1522.0 192.0 1517.8 187.0 1512.5 182.8 1507.0 179.0 1500.7 172.5 1486.0 167.5 1468.0 163.6 1446.0 160.8 1419.0 159.0 1387.0 158.1 1349.0 158.1 1306.0 159.0 1258.0 160.9 1207.0 163.4 1157.0 166.7 1107.0 170.7 1059.0 175.3 1013.0 180.1 972.0 185.6 932.0 191.6 895.0 198.2 859.0 205.4 825.0 213.0 793.4 221.3 763.0 230.3 734.0 240.0 706.6 250.0 681.6 261.0 657.2 272.0 635.8 284.0 615.2 297.0 595.6 310.0 578.6 324.0 562.7 338.0 549.1 353.0 536.7 369.0 525.9 385.0 517.1 401.0 510.3 418.0 505.0 435.0 501.7 453.0 500.0 472.0 500.3 492.0 502.7 512.0 507.2 533.0 514.0 553.0 522.5 574.0 533.3 595.0 546.1 616.0 560.9 637.0 577.6 658.0 596.2 679.0 616.7 700.0 639.0 721.0 663.4 742.0 689.7 762.3 717.0 783.0 746.9 804.4 780.0 824.9 814.0 844.6 849.0 864.2 886.0 882.4 923.0 900.3 962.0 916.9 1001.0 932.3 1040.0 946.4 1079.0 958.5 1116.0 969.4 1153.0 978.4 1188.0 985.8 1222.0 991.3 1254.0 995.2 1285.0 997.2 1313.0 997.5 1331.0 997.0 1348.0 995.7 1364.0 993.5 1380.0 990.5 1395.0 986.6 1409.0 981.8 1422.0 976.4 1434.0 970.2 1445.0 962.6 1456.0 954.4 1466.0 945.4 1475.0 936.0 1483.0 925.0 1491.0 913.5 1498.0 900.0 1505.0 886.1 1511.0 872.0 1516.2 856.0 1521.3 838.2 1526.0 800.0 1533.8 756.0 1540.1 704.0 1545.2 643.0 1549.0 572.0 1551.7 494.0 1553.0Z" fill="#c61d55"/>
<path d="M543.0 1552.0 484.0 1552.8 427.0 1552.7 376.0 1551.8 332.0 1550.2 298.0 1547.9 269.0 1544.8 246.0 1540.9 227.0 1536.0 211.8 1530.0 205.0 1526.3 199.0 1522.3 189.0 1513.2 181.0 1502.1 174.7 1489.0 169.3 1472.0 165.3 1452.0 162.3 1428.0 160.1 1397.0 158.9 1360.0 158.7 1316.0 159.5 1267.0 161.3 1214.0 164.0 1161.0 167.4 1109.0 171.7 1058.0 176.2 1014.0 181.4 971.0 187.1 931.0 193.4 893.0 200.3 857.0 208.0 821.9 216.0 790.1 224.9 759.0 234.0 731.0 244.0 703.9 254.5 679.0 265.4 656.0 277.0 634.4 289.5 614.0 302.2 596.0 316.0 578.9 330.0 564.0 345.0 550.4 360.0 539.0 376.0 529.1 392.0 521.2 409.0 514.8 426.0 510.5 443.0 507.9 462.0 507.2 481.0 508.4 501.0 511.7 521.0 517.1 541.0 524.4 561.0 533.6 581.0 544.7 602.0 558.2 623.0 573.6 643.0 590.1 664.0 609.3 684.6 630.0 705.0 652.2 725.9 677.0 746.0 702.6 766.0 730.0 787.0 760.8 807.5 793.0 827.7 827.0 846.6 861.0 865.3 897.0 883.4 934.0 900.6 972.0 916.6 1010.0 931.4 1048.0 944.7 1085.0 956.7 1122.0 967.1 1158.0 975.8 1192.0 982.8 1225.0 988.3 1257.0 991.8 1286.0 993.3 1305.0 994.0 1324.0 993.8 1342.0 992.7 1359.0 990.8 1375.0 988.1 1390.0 984.6 1404.0 980.2 1417.0 975.2 1429.0 968.9 1441.0 961.9 1452.0 954.1 1462.0 945.8 1471.0 935.9 1480.0 925.4 1488.0 914.0 1495.4 902.0 1502.0 888.0 1508.5 874.0 1514.0 858.0 1519.4 841.6 1524.0 823.0 1528.4 782.0 1535.9 734.0 1541.9 680.0 1546.4 616.0 1549.8 543.0 1552.0Z" fill="#c71d52"/>
<path d="M524.0 1552.0 466.0 1552.5 410.0 1552.2 361.0 1551.0 320.0 1549.1 287.0 1546.4 260.5 1543.0 239.0 1538.7 221.0 1533.1 207.0 1526.4 201.0 1522.5 195.3 1518.0 186.1 1508.0 178.8 1496.0 172.8 1481.0 168.1 1463.0 164.5 1441.0 161.9 1414.0 160.1 1381.0 159.3 1342.0 159.5 1297.0 160.7 1247.0 162.8 1196.0 165.8 1144.0 169.5 1094.0 173.9 1046.0 178.6 1003.0 183.9 962.0 189.8 923.0 196.1 887.0 203.1 852.0 210.9 818.0 219.0 787.0 227.9 757.0 237.0 730.2 247.0 704.0 257.9 679.0 269.0 656.4 281.0 634.9 293.0 616.1 306.0 598.3 320.0 581.6 334.0 567.3 349.0 554.3 364.0 543.5 380.0 534.0 396.0 526.6 413.0 520.7 430.0 516.8 447.0 514.7 466.0 514.3 485.0 516.0 505.0 519.7 525.0 525.5 545.0 533.3 565.0 542.8 585.0 554.3 606.0 568.2 627.0 584.0 648.0 601.8 668.5 621.0 689.0 642.0 709.6 665.0 730.0 689.6 750.3 716.0 770.4 744.0 791.2 775.0 811.8 808.0 831.6 842.0 850.7 877.0 869.5 914.0 886.7 950.0 903.5 988.0 918.8 1025.0 933.2 1063.0 946.3 1101.0 957.6 1137.0 967.3 1172.0 975.4 1206.0 981.8 1238.0 986.3 1268.0 989.3 1297.0 990.4 1316.0 990.6 1334.0 989.9 1351.0 988.5 1367.0 986.2 1382.0 983.0 1397.0 979.2 1410.0 974.4 1423.0 968.7 1435.0 962.3 1446.0 955.4 1456.0 947.0 1466.0 937.9 1475.0 928.4 1483.0 917.2 1491.0 905.0 1498.3 892.0 1504.9 879.0 1510.5 864.1 1516.0 848.0 1521.0 830.0 1525.8 811.0 1529.9 769.2 1537.0 720.0 1542.7 663.9 1547.0 598.0 1550.1 524.0 1552.0Z" fill="#c91e4f"/>
<path d="M499.0 1552.0 442.0 1552.2 389.0 1551.5 344.0 1550.0 306.0 1547.7 276.0 1544.7 251.0 1540.7 231.0 1535.7 215.0 1529.6 202.0 1522.1 191.7 1513.0 187.0 1507.4 183.0 1501.5 179.5 1495.0 175.9 1487.0 170.4 1469.0 166.3 1448.0 163.2 1422.0 161.2 1391.0 160.1 1355.0 160.0 1313.0 160.8 1267.0 162.5 1218.0 165.0 1169.0 168.3 1120.0 172.2 1073.0 176.8 1028.0 181.7 987.0 187.2 948.0 193.2 911.0 199.8 876.0 207.0 842.2 214.6 811.0 223.0 780.8 232.0 752.1 241.7 725.0 252.0 699.5 263.0 675.5 274.0 654.3 286.0 634.0 298.0 616.1 311.0 599.1 325.0 583.3 339.0 569.8 354.0 557.5 369.0 547.3 385.0 538.5 401.0 531.6 418.0 526.3 435.0 522.9 452.0 521.3 471.0 521.5 490.0 523.7 510.0 528.0 530.0 534.2 550.0 542.5 571.0 553.1 591.0 565.1 612.0 579.6 633.0 596.0 654.0 614.3 674.4 634.0 695.0 655.7 715.3 679.0 736.0 704.6 756.0 731.2 776.0 759.7 797.0 791.9 817.2 825.0 836.6 859.0 855.8 895.0 874.2 932.0 891.3 969.0 907.7 1007.0 922.4 1044.0 936.3 1082.0 948.2 1118.0 958.7 1153.0 967.8 1188.0 975.3 1222.0 980.8 1253.0 984.7 1283.0 986.8 1311.0 987.2 1329.0 986.8 1346.0 985.7 1362.0 983.5 1378.0 980.8 1392.0 977.1 1406.0 972.5 1419.0 967.3 1431.0 961.3 1442.0 954.0 1453.0 946.1 1463.0 937.5 1472.0 927.2 1481.0 917.0 1488.6 905.2 1496.0 893.0 1502.5 880.0 1508.4 865.6 1514.0 850.0 1519.2 832.6 1524.0 795.4 1532.0 752.0 1538.6 701.0 1543.8 642.0 1547.8 574.0 1550.6 499.0 1552.0Z" fill="#ca1e4d"/>
<path d="M542.0 1551.0 484.0 1551.8 428.0 1551.7 377.0 1550.8 334.0 1549.1 300.0 1546.8 271.0 1543.5 248.0 1539.4 229.0 1534.3 214.0 1528.1 202.0 1520.8 192.0 1511.8 187.2 1506.0 183.3 1500.0 176.6 1486.0 171.5 1470.0 167.4 1450.0 164.2 1425.0 162.0 1394.0 160.9 1358.0 160.7 1316.0 161.5 1269.0 163.3 1218.0 165.9 1167.0 169.4 1117.0 173.7 1068.0 178.2 1025.0 183.3 984.0 189.0 944.9 195.4 907.0 202.4 871.0 210.0 837.2 218.0 805.9 227.0 775.1 236.0 747.9 246.0 721.2 256.0 697.6 267.0 674.6 279.0 652.6 291.0 633.3 304.0 614.9 317.0 599.0 331.0 584.1 345.0 571.5 360.0 560.0 376.0 550.0 392.0 542.1 409.0 535.7 426.0 531.3 443.0 528.8 461.0 528.0 480.0 529.1 499.0 532.1 519.0 537.4 539.0 544.5 559.0 553.6 579.0 564.5 599.0 577.2 619.0 591.7 640.0 608.9 660.0 627.0 680.0 646.8 700.5 669.0 721.0 693.0 741.0 718.3 760.6 745.0 781.0 774.6 801.0 805.8 820.3 838.0 839.4 872.0 857.7 907.0 875.4 943.0 892.3 980.0 907.6 1016.0 922.1 1053.0 935.5 1090.0 947.2 1126.0 957.2 1160.0 965.6 1193.0 972.8 1226.0 978.1 1257.0 981.7 1286.0 983.2 1305.0 983.9 1323.0 983.8 1340.0 982.8 1357.0 981.0 1373.0 978.4 1388.0 974.9 1402.0 970.7 1415.0 965.8 1427.0 959.6 1439.0 952.7 1450.0 945.1 1460.0 936.9 1469.0 927.2 1478.0 917.0 1486.0 904.8 1494.0 892.1 1501.0 879.4 1507.0 864.3 1513.0 849.5 1518.0 833.0 1522.7 815.5 1527.0 775.0 1534.6 729.0 1540.6 675.0 1545.3 612.0 1548.8 542.0 1551.0Z" fill="#cc1f4a"/>
<path d="M525.0 1551.0 468.0 1551.6 413.0 1551.2 365.0 1550.1 324.0 1548.1 292.0 1545.5 264.8 1542.0 243.0 1537.6 224.9 1532.0 210.0 1525.0 198.8 1517.0 189.3 1507.0 181.7 1495.0 175.4 1480.0 170.5 1462.0 166.7 1440.0 163.9 1413.0 162.1 1381.0 161.3 1343.0 161.5 1300.0 162.6 1253.0 164.6 1204.0 167.6 1154.0 171.2 1105.0 175.6 1058.0 180.3 1016.0 185.6 976.0 191.4 938.0 198.0 901.1 205.0 866.8 212.6 834.0 221.0 802.6 229.7 774.0 239.0 746.7 248.6 722.0 259.0 698.1 270.0 675.8 282.0 654.5 294.0 635.7 307.0 617.9 320.0 602.4 334.0 588.0 348.0 575.7 363.0 564.7 379.0 555.1 395.0 547.5 412.0 541.4 429.0 537.4 446.0 535.2 464.0 534.7 483.0 536.1 502.0 539.5 522.0 545.0 542.0 552.5 562.0 561.8 582.0 573.1 602.0 586.1 623.0 601.7 643.0 618.3 664.0 637.7 684.0 657.9 704.0 679.9 724.2 704.0 744.0 729.4 764.0 757.0 784.3 787.0 804.5 819.0 823.9 852.0 842.7 886.0 860.7 921.0 878.0 957.0 894.6 994.0 909.6 1030.0 923.8 1067.0 936.4 1103.0 947.4 1138.0 957.3 1173.0 965.3 1206.0 971.7 1238.0 976.4 1268.0 979.3 1296.0 980.4 1314.0 980.7 1332.0 980.1 1349.0 978.8 1365.0 976.6 1380.0 973.5 1395.0 969.8 1408.0 965.0 1421.0 959.5 1433.0 953.2 1444.0 946.4 1454.0 938.2 1464.0 929.3 1473.0 918.7 1482.0 907.5 1490.0 896.0 1496.9 884.0 1503.1 870.0 1509.3 854.6 1515.0 839.0 1519.9 804.0 1528.5 763.0 1535.7 715.0 1541.4 660.0 1545.9 597.0 1549.0 525.0 1551.0Z" fill="#cd1f47"/>
<path d="M502.0 1551.0 445.0 1551.2 393.0 1550.5 348.0 1549.1 310.0 1546.7 280.0 1543.7 255.0 1539.6 235.0 1534.7 218.0 1528.2 205.0 1520.6 199.1 1516.0 194.0 1511.0 185.7 1500.0 178.6 1486.0 173.1 1469.0 168.7 1448.0 165.5 1423.0 163.3 1392.0 162.2 1358.0 162.0 1318.0 162.7 1273.0 164.3 1226.0 166.8 1178.0 170.0 1131.0 174.0 1084.2 178.6 1040.0 183.5 1000.0 189.0 961.5 195.0 925.2 201.5 891.0 208.7 858.0 216.3 827.0 224.8 797.0 233.7 769.0 243.0 743.1 253.0 718.4 264.0 694.5 275.0 673.4 287.0 653.1 299.0 635.3 312.0 618.4 325.0 603.7 339.0 590.0 354.0 577.7 369.0 567.4 384.0 559.0 400.0 552.0 417.0 546.6 434.0 543.1 451.0 541.4 470.0 541.4 489.0 543.5 508.0 547.5 528.0 553.6 548.0 561.7 568.0 571.6 588.0 583.4 608.0 597.0 628.0 612.3 649.0 630.4 669.0 649.3 689.9 671.0 710.0 693.8 730.0 718.2 750.0 744.5 769.5 772.0 789.9 803.0 809.7 835.0 828.7 868.0 847.5 903.0 865.6 939.0 882.5 975.0 898.2 1011.0 912.7 1047.0 926.4 1084.0 938.2 1119.0 948.7 1154.0 957.8 1188.0 965.2 1221.0 970.8 1252.0 974.7 1281.0 977.0 1309.0 977.5 1327.0 977.2 1344.0 976.1 1360.0 974.2 1375.0 971.6 1389.0 968.1 1403.0 963.7 1416.0 958.7 1428.0 952.9 1439.0 945.9 1450.0 938.2 1460.0 930.0 1469.0 920.1 1478.0 909.8 1486.0 899.1 1493.0 886.5 1500.0 873.9 1506.0 859.0 1512.0 844.0 1517.1 827.3 1522.0 791.0 1530.2 748.3 1537.0 699.0 1542.4 641.0 1546.6 575.0 1549.4 502.0 1551.0Z" fill="#cf2044"/>
<path d="M541.0 1550.0 485.0 1550.8 430.0 1550.8 380.0 1549.9 337.0 1548.1 303.0 1545.7 274.0 1542.3 251.0 1538.2 232.0 1532.9 217.0 1526.8 204.4 1519.0 199.0 1514.6 194.0 1509.5 185.6 1498.0 178.8 1484.0 173.4 1467.0 169.3 1447.0 166.2 1422.0 164.0 1392.0 162.8 1357.0 162.6 1316.0 163.4 1271.0 165.2 1223.0 167.9 1173.0 171.4 1124.0 175.6 1077.0 180.2 1035.0 185.4 994.0 191.1 956.0 197.6 919.0 204.5 884.0 212.0 851.4 220.2 820.0 229.0 790.3 238.0 763.5 248.0 737.3 258.0 714.0 269.0 691.4 281.0 669.6 293.0 650.6 306.0 632.5 319.0 616.8 333.0 602.1 347.0 589.7 362.0 578.4 377.0 569.2 393.0 561.3 409.0 555.3 426.0 550.9 443.0 548.4 461.0 547.5 480.0 548.7 499.0 551.8 518.0 556.7 537.0 563.4 557.0 572.4 577.0 583.2 597.0 595.8 617.0 610.2 637.0 626.4 657.0 644.3 677.0 664.1 697.0 685.6 716.3 708.0 736.0 732.8 755.5 759.0 775.5 788.0 795.0 818.2 814.2 850.0 832.8 883.0 850.8 917.0 868.1 952.0 884.6 988.0 899.6 1023.0 913.8 1059.0 926.5 1094.0 938.3 1130.0 948.3 1164.0 956.7 1197.0 963.4 1228.0 968.6 1258.0 972.2 1287.0 973.7 1306.0 974.3 1324.0 974.2 1341.0 973.1 1358.0 971.4 1373.0 968.7 1388.0 965.2 1402.0 960.9 1415.0 955.9 1427.0 950.2 1438.0 943.3 1449.0 935.7 1459.0 927.6 1468.0 917.9 1477.0 907.6 1485.0 896.0 1492.7 884.0 1499.4 871.0 1505.6 857.0 1511.3 842.0 1516.5 826.0 1521.2 808.0 1525.7 769.0 1533.2 724.0 1539.3 671.0 1544.2 610.0 1547.7 541.0 1550.0Z" fill="#d02042"/>
<path d="M525.0 1550.0 469.0 1550.6 415.0 1550.3 367.0 1549.1 327.0 1547.1 295.0 1544.4 268.0 1540.9 246.0 1536.3 228.0 1530.7 213.7 1524.0 202.0 1515.9 196.8 1511.0 192.0 1505.5 184.0 1493.0 177.6 1478.0 172.7 1460.0 168.8 1438.0 165.9 1411.0 164.1 1380.0 163.3 1343.0 163.5 1301.0 164.6 1256.0 166.6 1208.0 169.5 1160.0 173.2 1113.0 177.6 1067.0 182.3 1026.0 187.6 987.0 193.6 949.0 200.0 913.7 207.0 880.1 214.6 848.0 223.0 817.1 231.7 789.0 241.0 762.1 250.9 737.0 261.0 714.2 272.0 692.3 284.0 671.2 296.0 652.7 309.0 635.1 322.0 619.9 336.0 605.7 350.0 593.6 365.0 582.7 380.0 573.9 396.0 566.3 412.0 560.7 429.0 556.6 446.0 554.4 464.0 553.9 483.0 555.3 502.0 558.7 521.0 563.9 540.0 571.0 560.0 580.2 580.0 591.3 600.0 604.2 620.0 618.9 640.0 635.4 660.0 653.7 680.0 673.7 700.0 695.6 719.8 719.0 739.0 743.5 758.4 770.0 778.2 799.0 797.9 830.0 817.0 862.0 835.3 895.0 853.5 930.0 870.5 965.0 886.3 1000.0 901.3 1036.0 915.2 1072.0 927.5 1107.0 938.7 1142.0 948.3 1176.0 956.1 1208.0 962.3 1239.0 966.9 1268.0 969.9 1296.0 971.0 1314.0 971.2 1332.0 970.7 1349.0 969.3 1365.0 967.1 1380.0 964.2 1394.0 960.5 1407.0 955.8 1420.0 950.2 1432.0 944.0 1443.0 937.2 1453.0 928.9 1463.0 920.1 1472.0 910.8 1480.0 899.8 1488.0 888.5 1495.0 876.0 1501.6 863.0 1507.4 848.5 1513.0 833.2 1518.0 816.0 1522.8 797.9 1527.0 758.0 1534.2 712.0 1540.0 657.0 1544.7 594.4 1548.0 525.0 1550.0Z" fill="#d12141"/>
<path d="M503.0 1550.0 448.0 1550.3 396.0 1549.6 351.0 1548.1 314.0 1545.8 284.0 1542.7 259.0 1538.6 238.0 1533.4 221.3 1527.0 208.0 1519.3 202.4 1515.0 197.0 1509.8 192.1 1504.0 188.0 1498.1 180.9 1484.0 175.2 1467.0 170.8 1446.0 167.5 1421.0 165.3 1391.0 164.1 1357.0 163.9 1319.0 164.6 1276.0 166.2 1231.0 168.7 1184.0 172.0 1138.0 175.9 1093.0 180.5 1050.0 185.4 1011.0 190.9 973.0 197.0 937.2 203.4 904.0 210.5 872.0 218.3 841.0 226.6 812.0 235.6 784.0 245.0 758.3 255.0 734.0 266.0 710.4 277.0 689.6 289.0 669.6 301.0 652.0 314.0 635.3 327.0 620.8 341.0 607.4 356.0 595.3 371.0 585.2 386.0 577.0 402.0 570.2 418.0 565.2 434.0 562.0 451.0 560.2 469.0 560.2 488.0 562.2 507.0 566.1 526.0 571.8 545.0 579.3 565.0 589.0 585.0 600.6 605.0 614.0 625.0 629.2 645.0 646.2 665.0 664.9 685.0 685.5 705.0 707.8 725.0 732.0 744.2 757.0 763.5 784.0 783.5 814.0 802.8 845.0 821.4 877.0 839.9 911.0 857.7 946.0 874.2 981.0 889.6 1016.0 904.2 1052.0 917.7 1088.0 929.5 1123.0 939.9 1157.0 948.7 1190.0 955.7 1221.0 961.5 1252.0 965.4 1281.0 967.6 1308.0 968.2 1326.0 967.9 1343.0 966.9 1359.0 965.1 1374.0 962.5 1388.0 959.0 1402.0 954.6 1415.0 949.6 1427.0 943.8 1438.0 936.8 1449.0 929.2 1459.0 920.9 1468.0 911.1 1477.0 901.0 1484.8 890.1 1492.0 878.0 1498.8 865.0 1505.0 851.0 1510.7 835.7 1516.0 820.0 1520.6 783.7 1529.0 742.0 1535.8 694.0 1541.2 638.0 1545.4 574.0 1548.4 503.0 1550.0Z" fill="#d22240"/>
<path d="M540.0 1549.0 484.0 1549.9 430.0 1549.8 381.0 1548.9 338.0 1547.0 304.0 1544.4 276.0 1541.0 253.0 1536.7 234.0 1531.3 219.0 1524.9 206.4 1517.0 201.0 1512.4 196.0 1507.2 187.9 1496.0 181.1 1482.0 175.6 1465.0 171.4 1445.0 168.2 1420.0 166.0 1391.0 164.8 1356.0 164.6 1317.0 165.4 1273.0 167.2 1226.0 169.9 1178.0 173.4 1131.0 177.6 1085.0 182.2 1044.0 187.3 1005.0 193.1 967.0 199.5 931.0 206.4 897.0 214.0 864.6 222.1 834.0 231.0 804.5 240.0 778.2 250.0 752.3 260.0 729.3 271.0 707.0 282.0 687.3 294.0 668.3 307.0 650.2 320.0 634.6 334.0 620.0 348.0 607.6 363.0 596.4 378.0 587.3 394.0 579.5 410.0 573.6 426.0 569.5 443.0 566.9 461.0 566.1 479.0 567.1 498.0 570.1 517.0 575.0 536.0 581.6 555.0 590.0 574.0 600.1 594.0 612.6 614.0 626.8 634.0 642.8 654.0 660.7 673.0 679.3 692.5 700.0 712.0 722.5 731.0 746.2 750.3 772.0 770.0 800.2 789.4 830.0 808.2 861.0 826.4 893.0 844.4 927.0 861.3 961.0 877.4 996.0 892.0 1030.0 905.9 1065.0 918.6 1100.0 929.8 1134.0 939.5 1167.0 947.8 1199.0 954.5 1230.0 959.5 1259.0 963.0 1287.0 964.5 1305.0 965.2 1323.0 965.0 1340.0 964.1 1356.0 962.5 1371.0 959.9 1386.0 956.5 1400.0 952.3 1413.0 947.4 1425.0 941.8 1436.0 935.1 1447.0 927.6 1457.0 919.6 1466.0 910.1 1475.0 900.1 1483.0 888.3 1491.0 876.0 1498.0 863.6 1504.0 849.1 1510.0 835.0 1515.0 818.3 1520.0 802.0 1524.2 762.6 1532.0 719.0 1538.1 667.0 1543.0 607.0 1546.7 540.0 1549.0Z" fill="#d2233f"/>
<path d="M524.0 1549.0 469.0 1549.6 416.0 1549.3 369.0 1548.1 329.0 1546.1 297.0 1543.3 270.0 1539.5 248.0 1534.8 230.0 1529.0 215.5 1522.0 204.0 1513.8 198.9 1509.0 194.0 1503.3 186.0 1490.6 179.5 1475.0 174.5 1457.0 170.7 1435.0 167.9 1409.0 166.1 1378.0 165.3 1343.0 165.4 1303.0 166.5 1259.0 168.5 1213.0 171.5 1166.0 175.1 1120.0 179.5 1076.0 184.2 1036.0 189.6 997.0 195.6 960.0 202.0 925.5 209.0 892.5 216.6 861.0 225.0 830.7 233.7 803.0 243.0 776.5 252.8 752.0 263.0 729.3 274.0 707.7 285.0 688.5 297.0 670.0 310.0 652.6 323.0 637.4 337.0 623.2 351.0 611.2 366.0 600.5 381.0 591.6 397.0 584.2 413.0 578.6 429.0 574.8 446.0 572.6 464.0 572.1 482.0 573.4 501.0 576.7 520.0 581.9 539.0 588.8 558.0 597.5 577.0 607.9 597.0 620.6 617.0 635.2 637.0 651.5 657.0 669.7 676.0 688.5 695.8 710.0 715.0 732.5 734.4 757.0 753.6 783.0 773.5 812.0 792.7 842.0 811.2 873.0 829.1 905.0 846.3 938.0 863.4 973.0 879.3 1008.0 893.6 1042.0 907.2 1077.0 919.2 1111.0 930.1 1145.0 939.4 1178.0 947.3 1210.0 953.4 1240.0 958.0 1269.0 960.9 1296.0 961.9 1314.0 962.3 1331.0 961.8 1347.0 960.5 1363.0 958.4 1378.0 955.6 1392.0 952.0 1405.0 947.3 1418.0 941.9 1430.0 935.8 1441.0 929.1 1451.0 921.0 1461.0 912.4 1470.0 903.3 1478.0 892.6 1486.0 881.0 1493.3 868.6 1500.0 855.4 1506.0 841.0 1511.6 826.0 1516.6 809.0 1521.4 791.0 1525.7 751.8 1533.0 705.4 1539.0 653.0 1543.6 592.0 1547.0 524.0 1549.0Z" fill="#d3243e"/>
<path d="M504.0 1549.0 450.0 1549.3 399.0 1548.7 355.0 1547.2 318.0 1544.8 288.0 1541.7 263.0 1537.6 242.0 1532.4 225.0 1526.0 217.2 1522.0 211.0 1518.1 205.0 1513.4 200.0 1508.7 195.0 1503.0 190.8 1497.0 183.5 1483.0 177.6 1466.0 173.0 1445.0 169.6 1420.0 167.4 1391.0 166.2 1359.0 165.9 1322.0 166.5 1281.0 168.1 1237.0 170.5 1192.0 173.7 1147.0 177.6 1103.0 182.2 1061.0 187.0 1023.0 192.5 986.0 198.5 951.0 205.2 917.0 212.4 885.0 220.0 855.0 228.4 826.0 237.2 799.0 246.4 774.0 256.4 750.0 267.0 727.3 278.0 706.6 289.1 688.0 301.3 670.0 314.0 653.7 327.1 639.0 341.0 625.6 355.0 614.1 370.0 603.8 385.0 595.5 401.0 588.5 417.0 583.4 433.0 580.0 450.0 578.2 468.0 578.1 486.0 579.8 505.0 583.5 524.0 589.1 543.0 596.4 563.0 606.0 582.0 616.9 602.0 630.1 622.0 645.1 642.0 661.9 661.4 680.0 681.0 699.9 700.9 722.0 720.0 744.9 739.0 769.4 758.0 795.7 777.7 825.0 796.5 855.0 815.3 887.0 833.4 920.0 850.2 953.0 866.5 987.0 882.0 1022.0 896.3 1057.0 909.4 1092.0 920.7 1125.0 930.8 1158.0 939.8 1191.0 946.9 1222.0 952.5 1252.0 956.4 1280.0 958.7 1307.0 959.3 1324.0 959.1 1341.0 958.2 1357.0 956.4 1372.0 954.0 1386.0 950.5 1400.0 946.3 1413.0 941.3 1425.0 935.7 1436.0 928.9 1447.0 921.3 1457.0 913.3 1466.0 903.6 1475.0 893.5 1483.0 883.1 1490.0 871.0 1497.0 858.8 1503.0 844.4 1509.0 830.5 1514.0 814.1 1519.0 779.0 1527.4 738.0 1534.4 690.2 1540.0 636.0 1544.3 573.0 1547.3 504.0 1549.0Z" fill="#d4243e"/>
<path d="M538.0 1548.0 484.0 1548.9 431.0 1548.8 383.0 1547.9 341.0 1546.0 307.0 1543.4 279.6 1540.0 256.0 1535.5 236.9 1530.0 222.0 1523.6 209.0 1515.5 198.8 1506.0 194.0 1500.0 190.0 1493.9 183.0 1479.4 177.4 1462.0 173.1 1441.0 170.0 1417.0 167.9 1388.0 166.8 1355.0 166.6 1317.0 167.4 1274.0 169.2 1229.0 171.9 1182.0 175.4 1136.0 179.6 1092.0 184.2 1052.0 189.5 1013.0 195.4 976.0 201.7 941.0 208.6 908.0 216.2 876.0 224.4 846.0 233.3 817.0 242.3 791.0 252.0 766.4 262.0 743.8 273.0 721.7 284.0 702.3 296.0 683.5 309.0 665.8 322.0 650.3 336.0 636.0 350.0 623.8 364.0 613.5 379.0 604.4 394.0 597.1 410.0 591.2 426.0 587.0 443.0 584.5 461.0 583.6 479.0 584.7 497.0 587.5 516.0 592.3 535.0 598.9 554.0 607.3 573.0 617.3 592.0 629.1 611.0 642.5 631.0 658.4 650.0 675.1 670.0 694.5 689.0 714.6 708.0 736.4 727.0 759.9 745.9 785.0 765.0 812.2 784.0 841.3 802.8 872.0 820.5 903.0 837.6 935.0 854.5 969.0 870.3 1003.0 884.6 1036.0 898.1 1070.0 910.5 1104.0 921.5 1137.0 931.2 1170.0 939.5 1202.0 946.0 1232.0 951.0 1261.0 954.3 1288.0 955.8 1306.0 956.4 1324.0 956.3 1341.0 955.3 1357.0 953.5 1372.0 950.8 1387.0 947.6 1400.0 943.4 1413.0 938.4 1425.0 932.7 1436.0 925.8 1447.0 918.3 1457.0 910.1 1466.0 900.5 1475.0 890.3 1483.0 879.8 1490.0 867.6 1497.0 855.3 1503.0 841.0 1508.9 826.8 1514.0 810.3 1519.0 794.0 1523.2 755.1 1531.0 712.0 1537.1 661.5 1542.0 603.0 1545.7 538.0 1548.0Z" fill="#d4253d"/>
<path d="M523.0 1548.0 469.0 1548.6 417.0 1548.3 371.0 1547.1 332.0 1545.0 300.0 1542.2 273.0 1538.4 251.0 1533.6 233.0 1527.8 218.0 1520.5 206.3 1512.0 196.7 1502.0 192.4 1496.0 188.4 1489.0 181.9 1474.0 176.6 1455.0 172.7 1433.0 169.8 1406.0 168.0 1376.0 167.2 1341.0 167.4 1302.0 168.5 1260.0 170.6 1215.0 173.5 1170.0 177.3 1125.0 181.6 1082.0 186.4 1043.0 191.7 1006.0 197.6 970.0 204.1 936.0 211.3 903.0 219.0 871.8 227.1 843.0 236.0 815.1 245.0 790.1 255.0 765.4 265.0 743.5 276.0 722.2 287.0 703.3 299.0 685.0 312.0 667.8 325.0 652.9 339.0 639.0 353.0 627.2 367.0 617.2 382.0 608.5 397.0 601.5 413.0 596.0 429.0 592.1 446.0 589.9 464.0 589.3 482.0 590.7 500.0 593.8 519.0 598.9 538.0 605.8 557.0 614.4 576.0 624.8 595.0 636.8 614.0 650.5 634.0 666.7 654.0 684.7 673.0 703.5 692.0 723.9 711.0 746.0 730.0 769.9 749.0 795.5 768.7 824.0 787.3 853.0 805.4 883.0 823.4 915.0 840.7 948.0 856.8 981.0 872.3 1015.0 886.7 1049.0 899.5 1082.0 911.6 1116.0 922.5 1150.0 931.5 1182.0 939.1 1213.0 945.0 1242.0 949.4 1270.0 952.3 1297.0 953.4 1315.0 953.6 1332.0 953.1 1348.0 951.7 1364.0 949.6 1379.0 946.6 1393.0 942.9 1406.0 938.5 1418.0 933.5 1429.0 927.4 1440.0 920.7 1450.0 912.7 1460.0 904.0 1469.0 894.9 1477.0 884.2 1485.0 873.3 1492.0 861.0 1498.7 848.0 1504.7 834.7 1510.0 819.0 1515.3 802.8 1520.0 785.0 1524.4 746.0 1531.8 700.0 1537.9 649.0 1542.5 589.0 1545.9 523.0 1548.0Z" fill="#d5263c"/>
<path d="M504.0 1548.0 451.0 1548.3 401.0 1547.7 357.0 1546.1 320.0 1543.7 290.0 1540.5 265.0 1536.3 244.3 1531.0 227.0 1524.3 220.0 1520.6 213.0 1516.1 202.4 1507.0 197.2 1501.0 193.0 1495.1 185.6 1481.0 179.7 1464.0 175.2 1444.0 171.7 1419.0 169.4 1390.0 168.2 1359.0 167.9 1323.0 168.5 1283.0 170.0 1241.0 172.4 1198.0 175.5 1154.0 179.5 1111.0 184.0 1069.9 189.0 1032.0 194.4 996.0 200.4 962.0 207.0 928.8 214.2 897.0 222.0 867.1 230.2 839.0 239.2 812.0 248.6 787.0 258.2 764.0 269.0 741.3 280.0 720.9 291.0 702.7 303.2 685.0 316.0 668.7 329.0 654.4 343.0 641.1 357.0 629.8 371.0 620.3 386.0 612.1 401.0 605.6 417.0 600.4 433.0 597.0 450.0 595.2 468.0 595.1 486.0 596.8 504.0 600.3 523.0 605.8 542.0 613.1 561.0 622.1 580.0 632.8 600.0 646.0 619.0 660.1 639.0 676.8 658.0 694.3 677.0 713.5 696.0 734.3 715.1 757.0 734.0 781.1 753.0 807.2 772.5 836.0 791.0 865.3 809.1 896.0 826.8 928.0 843.8 961.0 859.6 994.0 874.7 1028.0 888.7 1062.0 901.6 1096.0 912.9 1129.0 922.8 1161.0 931.5 1193.0 938.6 1224.0 944.0 1253.0 947.9 1281.0 950.2 1307.0 950.8 1324.0 950.6 1341.0 949.6 1357.0 947.9 1372.0 945.4 1386.0 942.2 1399.0 938.0 1412.0 933.0 1424.0 927.4 1435.0 920.6 1446.0 913.1 1456.0 905.0 1465.0 896.6 1473.0 886.7 1481.0 876.0 1488.3 864.0 1495.4 851.0 1501.8 838.0 1507.4 823.0 1512.8 808.0 1517.5 773.4 1526.0 733.0 1533.1 686.0 1538.8 633.0 1543.1 572.0 1546.2 504.0 1548.0Z" fill="#d6273b"/>
<path d="M465.0 1548.0 413.0 1547.6 367.0 1546.2 328.0 1543.9 295.0 1540.6 268.0 1536.3 246.6 1531.0 229.0 1524.4 221.0 1520.2 214.3 1516.0 208.0 1511.0 202.7 1506.0 197.6 1500.0 192.8 1493.0 188.9 1486.0 185.4 1478.0 179.3 1459.0 174.7 1436.0 171.5 1409.0 169.4 1376.0 168.5 1338.0 168.8 1302.0 169.8 1264.0 171.6 1224.0 174.1 1183.0 177.3 1143.0 181.2 1103.0 185.6 1065.0 190.6 1028.0 196.0 993.5 201.8 961.0 208.2 930.0 215.0 900.3 222.4 872.0 230.3 845.0 239.0 818.6 248.0 794.4 257.7 771.0 267.6 750.0 278.0 730.2 289.0 711.6 301.0 693.7 313.0 678.0 326.0 663.1 339.0 650.2 353.0 638.4 367.0 628.4 381.0 620.2 396.0 613.1 411.0 607.6 427.0 603.6 443.0 601.2 459.0 600.4 477.0 601.2 495.0 603.8 514.0 608.5 533.0 614.9 552.0 623.1 571.0 633.1 590.0 644.7 610.0 658.8 630.0 674.7 649.0 691.5 669.0 710.9 688.0 731.1 707.0 753.0 726.3 777.0 745.0 802.0 763.8 829.0 782.6 858.0 801.4 889.0 819.5 921.0 836.3 953.0 852.6 986.0 868.1 1020.0 882.4 1054.0 895.6 1088.0 907.6 1122.0 918.1 1155.0 927.1 1187.0 934.5 1218.0 940.4 1248.0 944.6 1276.0 947.1 1302.0 948.1 1327.0 947.8 1343.0 946.7 1359.0 945.0 1373.0 942.4 1387.0 939.1 1400.0 934.8 1413.0 929.7 1425.0 924.0 1436.0 917.7 1446.0 910.1 1456.0 902.0 1465.0 892.4 1474.0 882.2 1482.0 871.8 1489.0 859.6 1496.0 847.3 1502.0 833.0 1508.0 819.0 1513.0 787.3 1522.0 749.0 1529.8 706.4 1536.0 656.1 1541.0 598.0 1544.7 533.0 1547.1 465.0 1548.0Z" fill="#d6283a"/>
<path d="M522.0 1547.0 469.0 1547.7 418.0 1547.3 373.0 1546.1 334.0 1544.0 301.8 1541.0 275.0 1537.1 253.0 1532.2 235.0 1526.1 220.6 1519.0 214.0 1514.7 208.2 1510.0 198.8 1500.0 194.6 1494.0 190.5 1487.0 184.0 1471.8 178.7 1453.0 174.7 1431.0 171.7 1404.0 170.0 1375.0 169.2 1341.0 169.4 1303.0 170.5 1262.0 172.6 1219.0 175.5 1175.0 179.1 1132.0 183.5 1090.0 188.3 1052.0 193.7 1015.0 199.6 980.0 206.1 946.0 213.2 914.0 221.0 883.3 229.1 855.0 238.0 827.5 247.0 802.8 257.0 778.5 267.0 756.9 278.0 735.9 289.0 717.2 301.0 699.3 313.0 683.5 326.0 668.6 340.0 654.8 354.0 643.1 368.0 633.2 383.0 624.5 398.0 617.7 414.0 612.2 430.0 608.4 446.0 606.3 463.0 605.8 481.0 607.0 499.0 610.1 518.0 615.1 536.0 621.5 555.0 630.0 574.0 640.3 593.0 652.2 612.0 665.8 631.0 681.1 650.0 698.0 669.0 716.6 688.0 736.8 707.0 758.7 725.7 782.0 744.0 806.5 763.1 834.0 781.9 863.0 800.1 893.0 817.6 924.0 834.5 956.0 850.2 988.0 865.3 1021.0 879.3 1054.0 892.6 1088.0 904.4 1121.0 914.6 1153.0 923.4 1184.0 930.8 1214.0 936.7 1243.0 941.2 1271.0 944.0 1297.0 945.1 1315.0 945.3 1332.0 944.8 1348.0 943.5 1363.0 941.4 1378.0 938.4 1392.0 934.8 1405.0 930.4 1417.0 925.4 1428.0 919.3 1439.0 912.7 1449.0 904.6 1459.0 896.0 1468.0 886.9 1476.0 876.3 1484.0 865.3 1491.0 854.0 1497.2 841.0 1503.3 826.9 1509.0 812.4 1514.0 779.2 1523.0 740.0 1530.6 696.0 1536.6 645.0 1541.4 586.0 1544.9 522.0 1547.0Z" fill="#d82a38"/>
<path d="M524.0 1546.0 472.0 1546.7 421.0 1546.5 376.0 1545.2 337.0 1543.1 304.3 1540.0 278.0 1536.1 256.0 1531.2 238.0 1525.1 223.5 1518.0 217.0 1513.8 211.0 1509.0 201.0 1498.5 192.9 1486.0 186.0 1470.2 180.8 1452.0 176.7 1430.0 173.7 1404.0 172.0 1376.0 171.1 1343.0 171.2 1306.0 172.3 1266.0 174.3 1224.0 177.1 1182.0 180.8 1139.0 185.1 1098.0 190.0 1060.0 195.3 1024.0 201.3 989.0 207.8 956.0 215.0 923.9 222.7 894.0 231.0 865.3 239.6 839.0 248.5 815.0 258.0 792.0 268.0 770.5 279.0 749.5 290.0 730.9 302.0 713.0 314.0 697.4 327.0 682.5 340.0 669.7 354.0 657.9 368.0 648.0 383.0 639.2 398.0 632.3 414.0 626.8 430.0 623.0 446.0 620.9 463.0 620.4 481.0 621.6 499.0 624.7 517.0 629.4 535.0 635.8 554.0 644.3 573.0 654.5 591.0 665.7 610.0 679.3 629.0 694.4 647.7 711.0 666.0 728.8 685.0 748.9 703.0 769.5 721.0 791.8 739.3 816.0 758.0 842.7 776.5 871.0 794.2 900.0 811.3 930.0 827.8 961.0 843.7 993.0 858.5 1025.0 872.6 1058.0 885.2 1090.0 896.7 1122.0 906.8 1153.0 915.7 1184.0 923.2 1214.0 929.2 1243.0 933.6 1270.0 936.5 1296.0 937.6 1314.0 937.9 1331.0 937.4 1347.0 936.2 1362.0 934.3 1376.0 931.4 1390.0 927.8 1403.0 923.6 1415.0 918.7 1426.0 912.8 1437.0 906.2 1447.0 898.4 1457.0 890.0 1466.0 881.1 1474.0 870.7 1482.0 860.1 1489.0 847.6 1496.0 835.0 1502.0 821.0 1507.7 807.0 1512.6 791.0 1517.4 774.0 1521.8 737.0 1529.2 694.0 1535.3 644.0 1540.2 587.0 1543.8 524.0 1546.0Z" fill="#d92b36"/>
<path d="M525.0 1545.0 474.0 1545.8 424.0 1545.6 379.0 1544.3 340.0 1542.2 308.0 1539.1 281.0 1535.1 259.0 1530.2 240.6 1524.0 226.0 1516.8 213.6 1508.0 208.4 1503.0 203.1 1497.0 195.0 1484.5 188.1 1469.0 182.8 1451.0 178.6 1429.0 175.6 1403.0 173.8 1375.0 172.9 1343.0 173.0 1308.0 174.1 1269.0 176.0 1228.7 178.8 1187.0 182.4 1146.0 186.8 1105.0 191.6 1068.0 197.0 1032.1 202.9 998.0 209.3 966.0 216.4 935.0 224.0 905.4 232.0 878.0 241.0 850.7 250.0 826.5 259.4 804.0 269.2 783.0 280.0 762.5 291.0 744.0 303.0 726.2 315.0 710.6 328.0 695.8 341.0 683.1 355.0 671.3 369.0 661.5 383.0 653.4 398.0 646.4 413.0 641.2 429.0 637.3 445.0 635.0 462.0 634.4 479.0 635.4 497.0 638.3 515.0 642.9 533.0 649.1 551.0 657.0 569.0 666.4 588.0 678.0 606.0 690.6 625.0 705.5 643.9 722.0 662.0 739.4 680.7 759.0 699.0 779.7 717.0 801.8 734.6 825.0 753.0 851.0 771.0 878.2 788.7 907.0 805.4 936.0 821.5 966.0 837.5 998.0 852.4 1030.0 865.7 1061.0 878.4 1093.0 889.7 1124.0 899.8 1155.0 908.5 1185.0 915.8 1214.0 921.7 1242.0 926.2 1269.0 929.2 1295.0 930.3 1312.0 930.7 1329.0 930.4 1345.0 929.2 1360.0 927.4 1374.0 924.6 1388.0 921.2 1401.0 917.0 1413.0 912.3 1424.0 906.5 1435.0 900.1 1445.0 892.4 1455.0 884.1 1464.0 875.0 1472.4 865.4 1480.0 854.0 1487.6 842.8 1494.0 830.7 1500.0 817.0 1505.8 802.6 1511.0 786.3 1516.0 770.0 1520.3 732.6 1528.0 691.0 1534.1 642.0 1539.1 586.0 1542.7 525.0 1545.0Z" fill="#da2d35"/>
<path d="M526.0 1544.0 475.0 1544.8 426.0 1544.6 382.0 1543.5 343.0 1541.3 311.0 1538.2 284.0 1534.2 262.0 1529.2 243.5 1523.0 229.0 1515.9 222.0 1511.4 216.0 1506.7 205.6 1496.0 197.1 1483.0 190.3 1468.0 184.9 1450.0 180.6 1428.0 177.6 1403.0 175.7 1376.0 174.8 1345.0 174.9 1310.0 175.9 1272.0 177.8 1232.0 180.6 1192.0 184.1 1152.0 188.5 1112.0 193.2 1076.0 198.5 1041.0 204.5 1007.0 211.0 974.8 218.0 944.4 225.7 915.0 234.0 886.9 242.7 861.0 251.7 837.0 261.0 815.0 271.0 793.8 282.0 773.2 293.0 755.0 304.6 738.0 317.0 722.1 329.0 708.6 342.0 695.9 356.0 684.3 370.0 674.5 384.0 666.4 399.0 659.6 414.0 654.4 429.0 650.8 445.0 648.5 462.0 647.9 479.0 648.9 496.0 651.6 514.0 656.1 532.0 662.3 550.0 670.1 568.0 679.5 586.0 690.4 605.0 703.7 623.0 717.8 641.0 733.4 659.0 750.5 677.0 769.2 695.0 789.5 713.0 811.3 730.4 834.0 748.2 859.0 766.1 886.0 783.5 914.0 800.3 943.0 816.5 973.0 831.6 1003.0 846.1 1034.0 859.5 1065.0 871.5 1095.0 882.8 1126.0 892.8 1156.0 901.6 1186.0 908.7 1214.0 914.7 1242.0 919.2 1269.0 922.1 1294.0 923.3 1311.0 923.8 1328.0 923.4 1344.0 922.3 1359.0 920.5 1373.0 917.8 1387.0 914.4 1400.0 910.3 1412.0 905.6 1423.0 899.8 1434.0 893.4 1444.0 885.8 1454.0 877.6 1463.0 869.0 1471.0 858.9 1479.0 848.5 1486.0 836.5 1493.0 824.4 1499.0 811.0 1504.7 797.0 1509.8 765.4 1519.0 729.0 1526.7 687.2 1533.0 639.3 1538.0 585.0 1541.7 526.0 1544.0Z" fill="#db2e33"/>
<path d="M526.0 1543.0 476.0 1543.9 428.0 1543.7 384.0 1542.5 345.0 1540.3 313.0 1537.2 287.0 1533.2 264.1 1528.0 246.0 1521.9 231.0 1514.5 224.1 1510.0 218.0 1505.2 208.0 1494.9 199.4 1482.0 192.1 1466.0 186.7 1448.0 182.4 1426.0 179.4 1401.0 177.5 1374.0 176.7 1344.0 176.7 1310.0 177.7 1274.0 179.6 1235.0 182.3 1196.0 185.9 1157.0 190.2 1118.0 195.0 1082.0 200.3 1048.0 206.2 1015.0 212.7 983.0 219.7 953.0 227.4 924.0 235.5 897.0 244.3 871.0 253.0 848.0 262.8 825.0 272.9 804.0 283.0 785.3 294.0 767.1 305.7 750.0 318.0 734.3 330.0 720.9 343.0 708.3 356.0 697.5 370.0 687.6 384.0 679.5 399.0 672.6 414.0 667.4 429.0 663.8 445.0 661.6 461.0 660.9 478.0 661.9 495.0 664.4 513.0 668.9 530.0 674.6 548.0 682.3 566.0 691.5 584.0 702.4 602.0 714.8 620.0 728.7 638.0 744.1 656.0 761.1 674.0 779.7 691.3 799.0 709.0 820.4 726.4 843.0 744.4 868.0 762.0 894.4 779.0 921.7 795.5 950.0 811.2 979.0 826.4 1009.0 840.5 1039.0 853.5 1069.0 865.6 1099.0 876.6 1129.0 886.5 1159.0 895.1 1188.0 902.2 1216.0 908.0 1243.0 912.4 1269.0 915.3 1294.0 916.5 1311.0 917.0 1327.0 916.7 1343.0 915.7 1358.0 913.9 1372.0 911.2 1386.0 907.8 1399.0 903.7 1411.0 899.0 1422.0 893.3 1433.0 887.0 1443.0 880.0 1452.2 872.1 1461.0 863.0 1469.7 853.9 1477.0 843.0 1484.6 832.1 1491.0 820.4 1497.0 806.7 1503.0 793.0 1508.2 762.0 1517.5 726.0 1525.3 684.0 1531.8 637.0 1536.9 584.0 1540.6 526.0 1543.0Z" fill="#dc3031"/>
<path d="M526.0 1542.0 477.0 1542.9 430.0 1542.8 386.0 1541.6 348.0 1539.4 316.0 1536.3 290.0 1532.3 268.0 1527.3 249.0 1521.0 234.0 1513.7 221.0 1504.6 210.5 1494.0 201.7 1481.0 194.7 1466.0 189.0 1448.0 184.5 1426.0 181.3 1401.0 179.5 1375.0 178.5 1345.0 178.6 1312.0 179.5 1277.0 181.3 1239.0 184.0 1201.0 187.6 1162.0 191.9 1124.0 196.6 1089.0 202.0 1055.0 207.8 1023.0 214.2 992.0 221.3 962.0 229.0 933.1 237.0 906.7 245.8 881.0 254.6 858.0 264.0 836.1 274.0 815.3 284.5 796.0 295.5 778.0 307.0 761.4 319.0 746.1 331.0 732.8 344.0 720.2 357.0 709.5 371.0 699.7 385.0 691.7 399.0 685.3 414.0 680.0 429.0 676.4 444.0 674.2 460.0 673.5 477.0 674.3 494.0 676.8 511.0 680.9 528.0 686.5 546.0 694.0 563.0 702.6 581.0 713.2 598.0 724.7 616.0 738.4 634.0 753.6 652.0 770.4 670.0 788.7 687.0 807.5 705.0 829.0 722.0 850.9 739.5 875.0 757.0 901.0 773.3 927.0 789.8 955.0 805.7 984.0 820.4 1013.0 834.2 1042.0 847.4 1072.0 859.5 1102.0 870.2 1131.0 879.9 1160.0 888.5 1189.0 895.5 1216.0 901.3 1243.0 905.7 1269.0 908.6 1293.0 909.9 1310.0 910.4 1326.0 910.2 1342.0 909.2 1357.0 907.4 1371.0 905.0 1384.0 901.7 1397.0 897.8 1409.0 893.2 1420.0 887.6 1431.0 881.4 1441.0 873.9 1451.0 866.0 1460.0 857.6 1468.0 847.8 1476.0 837.8 1483.0 826.1 1490.0 814.5 1496.0 801.0 1502.0 787.8 1507.0 758.0 1516.1 722.7 1524.0 682.0 1530.5 636.0 1535.7 584.0 1539.5 526.0 1542.0Z" fill="#dd322f"/>
<path d="M472.0 1542.0 425.0 1541.7 382.0 1540.4 344.9 1538.0 313.0 1534.6 287.0 1530.2 265.0 1524.7 247.0 1518.0 239.0 1514.0 231.0 1509.2 224.0 1504.0 218.5 1499.0 213.0 1493.1 208.4 1487.0 203.9 1480.0 200.0 1472.4 193.3 1455.0 188.1 1434.0 184.3 1410.0 181.7 1381.0 180.4 1347.0 180.4 1317.0 181.1 1285.0 182.6 1251.0 185.0 1215.1 191.8 1145.0 196.1 1111.0 201.0 1077.8 206.3 1047.0 212.1 1017.0 218.6 988.0 225.3 961.0 232.9 934.0 240.8 909.0 249.0 885.8 258.0 863.1 267.0 842.8 277.0 822.6 287.0 804.6 298.0 786.9 309.0 771.3 321.0 756.3 333.0 743.2 345.0 731.7 358.0 721.0 371.0 712.0 384.0 704.5 398.0 697.9 412.0 692.8 427.0 688.9 442.0 686.6 457.0 685.6 474.0 686.2 491.0 688.4 508.0 692.3 525.0 697.6 542.0 704.5 560.0 713.3 578.0 723.7 596.0 735.7 614.0 749.3 632.0 764.4 649.9 781.0 667.0 798.4 684.8 818.0 702.0 838.4 719.0 860.2 736.0 883.6 753.2 909.0 770.2 936.0 786.6 964.0 801.9 992.0 816.7 1021.0 830.4 1050.0 843.5 1080.0 855.5 1110.0 866.1 1139.0 875.6 1168.0 883.7 1196.0 890.7 1224.0 896.3 1251.0 900.3 1276.0 902.8 1300.0 904.0 1323.0 903.9 1338.0 903.1 1353.0 901.6 1367.0 899.2 1381.0 896.1 1394.0 892.3 1406.0 887.9 1417.0 882.6 1428.0 876.6 1438.0 869.5 1448.0 861.8 1457.0 853.8 1465.0 844.5 1473.0 834.9 1480.0 823.8 1487.0 812.8 1493.0 800.0 1499.0 787.0 1504.3 773.0 1509.1 756.8 1514.0 722.9 1522.0 683.0 1528.8 638.0 1534.2 587.0 1538.2 531.0 1540.9 472.0 1542.0Z" fill="#de332d"/>
<path d="M476.0 1541.0 430.0 1540.8 387.0 1539.6 350.0 1537.3 318.0 1533.9 291.0 1529.5 269.0 1524.1 250.0 1517.1 234.8 1509.0 228.0 1504.2 222.0 1499.0 216.2 1493.0 211.4 1487.0 203.0 1473.0 196.0 1456.0 190.7 1436.0 186.6 1412.0 183.9 1384.0 182.4 1352.0 182.2 1323.0 182.8 1292.0 184.1 1259.0 186.4 1224.0 189.3 1189.0 192.9 1155.0 197.2 1121.0 202.1 1088.0 207.2 1058.0 213.0 1028.0 219.2 1000.0 226.2 972.0 233.4 946.0 241.3 921.0 249.8 897.0 258.5 875.0 267.3 855.0 277.0 835.2 287.0 817.1 298.0 799.3 309.0 783.6 320.0 769.6 332.0 756.3 344.0 744.6 357.0 733.8 370.0 724.5 383.0 716.9 397.0 710.1 411.0 704.9 426.0 700.9 441.0 698.5 456.0 697.4 472.0 697.8 489.0 699.9 506.0 703.5 523.0 708.7 540.0 715.4 558.0 724.1 575.0 733.8 593.0 745.6 610.0 758.2 628.0 773.1 646.0 789.6 663.0 806.6 680.8 826.0 697.8 846.0 714.3 867.0 731.0 889.7 748.0 914.6 764.8 941.0 780.8 968.0 796.3 996.0 810.7 1024.0 824.5 1053.0 837.7 1083.0 849.4 1112.0 860.1 1141.0 869.3 1169.0 877.5 1197.0 884.3 1224.0 889.8 1250.0 893.8 1275.0 896.5 1299.0 897.7 1321.0 897.7 1336.0 897.0 1351.0 895.6 1365.0 893.5 1378.0 890.6 1391.0 887.0 1403.0 882.8 1414.0 877.6 1425.0 872.0 1435.0 865.1 1445.0 857.8 1454.0 850.1 1462.0 841.2 1470.0 831.0 1477.8 820.0 1484.9 809.2 1491.0 796.8 1497.0 784.0 1502.3 755.2 1512.0 722.0 1520.2 683.0 1527.2 638.0 1532.8 589.0 1536.9 534.0 1539.7 476.0 1541.0Z" fill="#de352c"/>
<path d="M478.0 1540.0 432.0 1539.9 390.0 1538.7 353.0 1536.4 320.8 1533.0 294.0 1528.6 271.4 1523.0 253.0 1516.3 237.4 1508.0 230.3 1503.0 224.4 1498.0 219.0 1492.5 214.0 1486.4 209.6 1480.0 205.2 1472.0 198.5 1456.0 192.9 1436.0 188.8 1413.0 186.0 1386.0 184.4 1354.0 184.0 1326.0 184.6 1295.0 185.9 1263.0 188.0 1229.0 190.9 1195.0 194.5 1161.0 198.8 1127.0 203.6 1095.0 208.9 1064.0 214.6 1035.0 221.0 1006.6 227.7 980.0 235.0 954.2 242.7 930.0 251.0 906.6 259.6 885.0 268.9 864.0 278.3 845.0 288.3 827.0 299.0 809.8 310.0 794.1 321.0 780.3 333.0 767.0 345.0 755.4 357.0 745.4 370.0 736.1 383.0 728.4 397.0 721.6 411.0 716.4 425.0 712.6 440.0 710.0 455.0 708.9 471.0 709.2 488.0 711.1 504.0 714.5 521.0 719.5 538.0 726.1 555.0 734.1 572.0 743.6 590.0 755.2 608.0 768.4 625.0 782.4 643.0 798.7 660.0 815.5 677.0 833.9 694.0 853.8 710.9 875.0 727.0 896.9 744.0 921.6 760.3 947.0 776.4 974.0 791.4 1001.0 805.8 1029.0 819.2 1057.0 831.6 1085.0 843.5 1114.0 853.8 1142.0 863.2 1170.0 871.5 1198.0 878.1 1224.0 883.6 1250.0 887.6 1274.0 890.3 1298.0 891.6 1320.0 891.7 1335.0 891.0 1350.0 889.6 1364.0 887.6 1377.0 884.6 1390.0 881.1 1402.0 876.9 1413.0 871.8 1424.0 866.2 1434.0 859.4 1444.0 852.1 1453.0 844.4 1461.0 835.5 1469.0 826.5 1476.0 816.0 1483.0 805.0 1489.3 793.0 1495.3 779.6 1501.0 751.0 1510.7 718.3 1519.0 680.1 1526.0 637.0 1531.6 588.0 1535.8 534.0 1538.7 478.0 1540.0Z" fill="#df372b"/>
<path d="M479.0 1539.0 434.0 1538.9 392.0 1537.7 355.0 1535.4 323.0 1532.0 296.0 1527.5 274.0 1522.0 255.0 1515.0 240.0 1507.1 233.0 1502.2 227.0 1497.2 216.8 1486.0 212.0 1479.2 207.9 1472.0 200.5 1455.0 195.1 1436.0 190.8 1413.0 187.9 1386.0 186.3 1355.0 185.9 1328.0 186.4 1298.0 187.7 1266.0 189.8 1233.0 196.1 1167.0 200.3 1134.0 205.1 1102.0 210.3 1072.0 216.0 1043.1 222.3 1015.0 229.0 988.6 236.3 963.0 244.0 938.9 252.2 916.0 261.0 893.9 270.0 873.7 279.9 854.0 290.0 835.9 300.0 820.0 311.0 804.4 322.0 790.6 334.0 777.3 346.0 765.8 358.0 755.9 371.0 746.7 384.0 739.0 398.0 732.3 412.0 727.2 426.0 723.5 440.0 721.1 455.0 719.9 471.0 720.2 488.0 722.2 504.0 725.6 521.0 730.6 538.0 737.2 555.0 745.3 572.0 754.9 589.0 765.9 606.0 778.3 623.0 792.1 640.0 807.4 657.0 824.2 674.0 842.4 690.9 862.0 707.0 882.2 723.2 904.0 739.8 928.0 756.0 953.1 771.5 979.0 786.6 1006.0 800.7 1033.0 814.1 1061.0 826.6 1089.0 838.1 1117.0 848.5 1145.0 857.8 1173.0 865.8 1200.0 872.4 1226.0 877.7 1251.0 881.7 1275.0 884.3 1298.0 885.6 1320.0 885.7 1335.0 885.0 1350.0 883.6 1364.0 881.5 1377.0 878.9 1389.0 875.3 1401.0 871.2 1412.0 866.1 1423.0 860.5 1433.0 853.7 1443.0 846.5 1452.0 839.0 1459.9 830.1 1468.0 821.1 1475.0 810.6 1482.0 800.3 1488.0 788.3 1494.0 775.0 1499.8 747.0 1509.5 713.7 1518.0 677.0 1524.8 635.0 1530.4 587.0 1534.7 534.0 1537.6 479.0 1539.0Z" fill="#e0382a"/>
<path d="M479.0 1538.0 434.0 1537.9 393.0 1536.7 357.0 1534.4 325.3 1531.0 299.0 1526.6 276.5 1521.0 258.0 1514.2 242.4 1506.0 235.2 1501.0 229.2 1496.0 223.2 1490.0 218.3 1484.0 209.5 1470.0 202.6 1454.0 197.1 1435.0 192.8 1412.0 189.8 1385.0 188.1 1354.0 187.8 1327.0 188.3 1297.0 189.6 1266.0 191.7 1234.0 198.1 1169.0 202.3 1137.0 207.0 1106.0 212.1 1077.0 218.0 1047.9 224.2 1021.0 231.0 994.4 238.1 970.0 246.0 945.5 254.2 923.0 263.0 901.2 272.0 881.3 281.3 863.0 291.0 845.7 301.6 829.0 312.0 814.3 323.5 800.0 335.0 787.4 347.0 776.0 359.0 766.1 372.0 756.9 385.0 749.3 399.0 742.8 412.0 738.0 426.0 734.3 440.0 731.9 455.0 730.7 471.0 731.0 487.0 732.8 503.0 736.1 520.0 741.1 536.0 747.2 553.0 755.2 570.0 764.6 587.0 775.5 604.0 787.8 621.0 801.6 638.0 816.8 655.0 833.5 672.0 851.7 688.0 870.2 704.0 890.2 720.0 911.6 736.3 935.0 752.4 960.0 768.0 985.9 782.6 1012.0 796.7 1039.0 809.7 1066.0 821.7 1093.0 833.2 1121.0 843.3 1148.0 852.3 1175.0 860.3 1202.0 866.7 1227.0 872.0 1252.0 876.0 1276.0 878.6 1299.0 879.8 1320.0 879.9 1335.0 879.3 1349.0 877.9 1363.0 875.9 1376.0 873.2 1388.0 869.7 1400.0 865.7 1411.0 860.6 1422.0 855.0 1432.0 848.3 1442.0 841.0 1451.0 833.5 1459.0 824.7 1467.0 815.7 1474.0 805.4 1481.0 795.1 1487.0 783.2 1493.0 771.0 1498.4 743.0 1508.2 710.0 1516.8 674.0 1523.7 632.0 1529.4 585.0 1533.7 533.0 1536.6 479.0 1538.0Z" fill="#e13a29"/>
<path d="M479.0 1537.0 436.0 1536.9 395.0 1535.7 359.0 1533.4 327.5 1530.0 301.0 1525.5 279.1 1520.0 260.0 1513.0 244.8 1505.0 238.0 1500.3 231.6 1495.0 221.0 1483.6 216.3 1477.0 212.0 1469.6 204.7 1453.0 199.0 1433.8 194.7 1411.0 191.7 1384.0 190.0 1354.0 189.7 1328.0 190.1 1299.0 191.4 1269.0 193.5 1237.0 196.3 1205.0 199.8 1173.0 204.0 1141.6 208.8 1111.0 214.0 1081.8 219.7 1054.0 225.9 1027.0 232.4 1002.0 239.7 977.0 247.3 954.0 255.7 931.0 264.2 910.0 273.4 890.0 283.0 871.1 293.0 853.6 303.0 837.9 314.0 822.6 325.0 809.1 336.0 797.2 348.0 785.8 360.0 776.0 373.0 766.9 386.0 759.4 399.0 753.3 412.0 748.5 426.0 744.8 440.0 742.4 455.0 741.2 471.0 741.5 487.0 743.3 503.0 746.6 519.0 751.3 535.0 757.4 552.0 765.3 569.0 774.7 586.0 785.6 603.0 797.9 619.0 810.8 636.0 825.9 652.4 842.0 669.0 859.6 685.0 878.0 701.0 897.9 716.8 919.0 733.0 942.2 748.5 966.0 763.6 991.0 778.2 1017.0 791.8 1043.0 804.9 1070.0 817.0 1097.0 828.1 1124.0 838.2 1151.0 847.2 1178.0 854.9 1204.0 861.3 1229.0 866.4 1253.0 870.4 1277.0 872.9 1299.0 874.1 1320.0 874.2 1335.0 873.6 1349.0 872.3 1362.0 870.3 1375.0 867.7 1387.0 864.2 1399.0 860.2 1410.0 855.2 1421.0 849.6 1431.0 842.9 1441.0 835.7 1450.0 828.2 1458.0 819.5 1466.0 810.6 1473.0 800.3 1480.0 790.0 1486.0 778.3 1492.0 766.0 1497.4 738.0 1507.4 706.0 1515.8 670.0 1522.7 629.0 1528.3 583.0 1532.7 532.0 1535.6 479.0 1537.0Z" fill="#e23c28"/>
<path d="M477.0 1536.0 434.0 1535.9 394.0 1534.6 358.0 1532.2 328.0 1528.8 302.0 1524.2 280.0 1518.5 262.0 1511.8 246.0 1503.2 239.0 1498.2 232.8 1493.0 227.0 1487.1 222.0 1481.0 213.3 1467.0 206.4 1451.0 200.8 1432.0 196.4 1409.0 193.5 1382.0 191.9 1352.0 191.6 1326.0 192.1 1298.0 193.4 1269.0 195.4 1238.0 201.7 1176.0 205.9 1145.0 210.6 1115.0 221.3 1060.0 227.7 1033.0 234.3 1008.0 241.4 984.0 249.0 960.9 257.1 939.0 266.0 917.3 275.0 897.8 284.0 880.3 294.0 862.8 304.0 847.3 315.0 832.0 326.0 818.6 337.0 806.7 349.0 795.4 361.0 785.6 374.0 776.6 387.0 769.2 400.0 763.2 413.0 758.5 427.0 754.8 441.0 752.4 455.0 751.4 470.0 751.7 486.0 753.4 502.0 756.6 518.0 761.2 534.0 767.3 551.0 775.1 568.0 784.5 584.0 794.6 601.0 806.9 617.0 819.7 634.0 834.8 650.0 850.3 666.0 867.2 682.0 885.5 698.0 905.3 713.6 926.0 729.7 949.0 745.0 972.5 759.9 997.0 774.0 1022.1 787.6 1048.0 800.7 1075.0 812.4 1101.0 823.5 1128.0 833.2 1154.0 841.9 1180.0 849.4 1205.0 855.8 1230.0 860.9 1254.0 864.7 1277.0 867.3 1299.0 868.5 1320.0 868.6 1335.0 868.0 1349.0 866.7 1362.0 864.7 1375.0 862.0 1387.0 858.5 1399.0 854.4 1410.0 849.9 1420.0 844.3 1430.0 837.7 1440.0 830.5 1449.0 823.1 1457.0 814.4 1465.0 805.5 1472.0 795.2 1479.0 785.1 1485.0 773.4 1491.0 761.0 1496.5 734.0 1506.2 702.0 1514.7 666.0 1521.7 625.0 1527.4 579.0 1531.8 529.0 1534.7 477.0 1536.0Z" fill="#e33d27"/>
<path d="M475.0 1535.0 432.0 1534.8 393.0 1533.5 358.2 1531.0 328.0 1527.4 303.0 1522.9 280.8 1517.0 262.7 1510.0 247.0 1501.3 240.0 1496.2 234.1 1491.0 228.3 1485.0 223.5 1479.0 214.9 1465.0 207.7 1448.0 202.1 1428.0 198.0 1405.5 195.2 1379.0 193.7 1349.0 193.5 1323.0 194.1 1296.0 195.4 1267.0 197.6 1237.0 204.0 1175.8 213.0 1116.2 224.0 1061.4 230.1 1036.0 237.0 1010.6 244.2 987.0 252.0 964.0 260.0 942.9 268.4 923.0 277.3 904.0 286.8 886.0 296.8 869.0 306.6 854.0 317.0 839.9 328.0 826.6 339.0 814.9 351.0 803.8 363.0 794.3 375.0 786.1 388.0 778.7 401.0 772.8 414.0 768.1 428.0 764.5 442.0 762.3 456.0 761.3 471.0 761.7 487.0 763.5 502.0 766.6 518.0 771.3 534.0 777.3 550.0 784.7 566.0 793.4 583.0 804.2 600.0 816.4 616.0 829.2 632.0 843.4 648.0 858.9 664.0 875.7 680.0 894.0 696.0 913.8 711.2 934.0 727.0 956.5 742.3 980.0 756.9 1004.0 771.0 1029.0 784.6 1055.0 797.1 1081.0 808.8 1107.0 819.4 1133.0 829.1 1159.0 837.4 1184.0 844.8 1209.0 851.1 1234.0 855.9 1257.0 859.6 1280.0 861.9 1301.0 863.1 1322.0 862.4 1350.0 861.1 1363.0 858.9 1376.0 856.2 1388.0 852.6 1400.0 848.4 1411.0 843.6 1421.0 837.9 1431.0 831.8 1440.0 824.6 1449.0 817.0 1457.0 808.2 1465.0 799.2 1472.0 789.0 1478.9 779.0 1484.7 767.0 1490.8 755.1 1496.0 727.0 1506.0 696.6 1514.0 660.7 1521.0 620.0 1526.6 575.0 1530.9 526.0 1533.7 475.0 1535.0Z" fill="#e43f26"/>
<path d="M471.0 1534.0 429.0 1533.7 391.0 1532.3 357.0 1529.7 327.0 1525.9 301.4 1521.0 280.3 1515.0 263.0 1508.0 255.0 1503.7 247.5 1499.0 235.0 1488.7 229.7 1483.0 224.3 1476.0 216.0 1462.0 209.1 1445.0 203.6 1425.0 199.6 1402.0 196.9 1375.0 195.5 1344.0 195.5 1318.0 196.2 1291.0 200.0 1233.0 206.5 1174.0 215.6 1116.0 226.6 1063.0 232.8 1038.0 239.5 1014.0 246.6 991.0 254.3 969.0 262.4 948.0 271.0 928.1 280.0 909.4 289.0 892.6 299.0 875.8 309.0 860.9 319.0 847.5 330.0 834.5 341.0 823.0 353.0 812.1 365.0 802.7 377.0 794.7 390.0 787.5 403.0 781.7 416.0 777.3 430.0 773.9 443.0 771.9 457.0 771.0 472.0 771.5 488.0 773.4 503.0 776.6 519.0 781.4 535.0 787.5 551.0 795.1 567.0 803.9 583.0 814.1 600.0 826.4 616.0 839.3 632.0 853.6 647.8 869.0 663.8 886.0 679.0 903.4 694.8 923.0 709.8 943.0 725.0 964.8 740.0 987.8 754.6 1012.0 768.1 1036.0 781.1 1061.0 793.7 1087.0 805.2 1113.0 815.4 1138.0 825.0 1164.0 833.3 1189.0 840.3 1213.0 846.3 1237.0 851.0 1260.0 854.5 1282.0 856.8 1304.0 857.7 1324.0 857.6 1338.0 856.8 1352.0 855.4 1365.0 853.3 1377.0 850.5 1389.0 847.1 1400.0 842.8 1411.0 838.0 1421.0 832.9 1430.0 826.8 1439.0 819.6 1448.0 812.1 1456.0 803.3 1464.0 794.3 1471.0 784.0 1478.0 773.7 1484.0 761.9 1490.0 750.0 1495.2 722.6 1505.0 692.0 1513.1 656.0 1520.2 615.0 1525.9 570.9 1530.0 522.0 1532.8 471.0 1534.0Z" fill="#e44126"/>
<path d="M462.0 1533.0 421.0 1532.4 384.0 1530.7 352.0 1527.9 323.0 1523.9 299.0 1518.8 278.0 1512.3 261.0 1504.7 253.0 1500.1 246.0 1495.2 239.8 1490.0 233.7 1484.0 228.7 1478.0 223.8 1471.0 215.8 1456.0 209.2 1438.0 204.1 1417.0 200.4 1392.0 198.1 1364.0 197.3 1332.0 197.6 1307.0 198.6 1280.0 203.0 1223.0 209.9 1166.0 219.2 1111.0 230.3 1060.0 243.3 1013.0 250.4 991.0 258.0 970.0 266.1 950.0 275.0 930.1 284.0 912.1 293.0 895.9 302.8 880.0 312.5 866.0 323.0 852.5 334.0 840.0 345.0 828.9 356.0 819.3 368.0 810.2 380.0 802.5 392.0 796.1 405.0 790.5 418.0 786.2 431.0 783.2 445.0 781.2 459.0 780.5 474.0 781.1 490.0 783.3 505.0 786.6 521.0 791.6 536.0 797.5 552.0 805.2 568.0 814.2 584.0 824.5 600.0 836.2 616.0 849.2 632.0 863.6 648.0 879.3 663.6 896.0 679.0 913.8 694.0 932.5 709.0 952.7 724.0 974.3 738.6 997.0 753.0 1020.9 766.4 1045.0 779.3 1070.0 791.3 1095.0 802.7 1121.0 812.7 1146.0 821.8 1171.0 829.6 1195.0 836.4 1219.0 842.2 1243.0 846.5 1265.0 849.8 1287.0 851.7 1308.0 852.5 1328.0 851.2 1355.0 849.6 1368.0 847.3 1380.0 844.2 1392.0 840.6 1403.0 836.4 1413.0 831.4 1423.0 825.3 1433.0 819.0 1441.8 812.0 1450.0 804.1 1458.0 796.1 1465.0 786.8 1472.0 776.0 1479.0 765.4 1485.0 753.0 1491.0 741.2 1496.0 713.0 1505.6 681.0 1513.7 646.0 1520.2 605.0 1525.6 560.0 1529.6 512.0 1532.1 462.0 1533.0Z" fill="#e54425"/>
<path d="M511.0 1531.0 469.0 1531.9 429.0 1531.6 392.0 1530.1 359.0 1527.5 331.0 1523.8 306.2 1519.0 285.1 1513.0 267.9 1506.0 253.7 1498.0 241.0 1488.0 235.1 1482.0 230.1 1476.0 221.3 1462.0 214.2 1446.0 208.4 1427.0 204.3 1406.0 201.3 1381.0 199.9 1359.0 199.2 1334.0 199.5 1308.0 200.6 1280.0 202.5 1251.0 205.3 1221.0 208.8 1191.0 212.8 1162.0 217.5 1134.0 222.8 1106.0 228.7 1079.0 234.9 1054.0 241.9 1029.0 249.0 1006.4 256.8 984.0 265.0 963.1 273.0 944.7 282.0 926.1 291.0 909.4 301.0 892.7 311.0 877.9 322.0 863.4 333.0 850.7 344.0 839.4 356.0 828.8 368.0 819.7 380.0 811.9 393.0 805.0 406.0 799.5 419.0 795.3 432.0 792.3 446.0 790.4 460.0 789.8 475.0 790.5 490.0 792.6 505.0 795.9 520.0 800.6 536.0 806.9 552.0 814.6 567.0 823.1 583.0 833.4 598.0 844.3 613.8 857.0 629.0 870.5 644.0 885.1 659.1 901.0 674.0 918.0 689.0 936.5 704.0 956.3 719.0 977.7 733.0 999.1 747.0 1022.1 760.0 1045.0 772.6 1069.0 784.3 1093.0 795.6 1118.0 805.5 1142.0 814.8 1167.0 822.8 1191.0 829.6 1214.0 835.5 1237.0 840.1 1259.0 843.6 1280.0 846.0 1301.0 847.3 1330.0 846.9 1344.0 845.8 1357.0 844.0 1370.0 841.6 1382.0 838.6 1393.0 834.8 1404.0 830.6 1414.0 825.4 1424.0 819.8 1433.0 813.2 1442.0 806.3 1450.0 798.3 1458.0 790.1 1465.0 780.7 1472.0 771.0 1478.3 760.0 1484.4 736.0 1495.3 708.0 1504.9 677.0 1512.7 642.0 1519.3 602.0 1524.6 558.0 1528.6 511.0 1531.0Z" fill="#e54625"/>
<path d="M509.0 1530.0 468.0 1530.9 428.0 1530.5 392.0 1529.0 359.0 1526.2 331.0 1522.5 307.0 1517.6 287.0 1511.8 269.0 1504.4 254.5 1496.0 242.0 1485.8 231.6 1474.0 222.8 1460.0 215.8 1444.0 210.2 1425.0 206.0 1403.7 203.1 1379.0 201.7 1357.0 201.2 1333.0 201.5 1307.0 202.6 1280.0 204.6 1251.0 207.3 1222.0 210.7 1193.0 214.9 1164.0 219.6 1136.0 224.9 1109.0 230.7 1083.0 237.0 1058.0 243.8 1034.0 251.0 1011.3 258.9 989.0 267.0 968.7 275.0 950.6 284.0 932.2 293.0 915.8 303.0 899.4 313.0 884.8 324.0 870.5 335.0 857.9 346.0 846.9 357.0 837.3 369.0 828.2 381.0 820.5 394.0 813.7 407.0 808.2 420.0 804.1 433.0 801.2 447.0 799.4 461.0 798.9 476.0 799.7 490.0 801.7 505.0 805.1 520.0 809.7 535.0 815.6 550.0 822.8 566.0 831.7 581.0 841.3 597.0 852.9 612.0 865.0 627.0 878.3 642.0 892.8 657.4 909.0 672.3 926.0 687.0 944.0 702.0 963.9 716.1 984.0 730.5 1006.0 743.9 1028.0 756.9 1051.0 769.0 1074.0 780.7 1098.0 791.5 1122.0 801.4 1146.0 810.3 1170.0 818.1 1193.0 824.9 1216.0 830.7 1239.0 835.3 1261.0 838.7 1282.0 840.9 1302.0 842.1 1331.0 840.7 1357.0 838.9 1370.0 836.4 1382.0 833.4 1393.0 829.6 1404.0 825.3 1414.0 820.0 1424.0 814.4 1433.0 807.7 1442.0 800.7 1450.0 792.5 1458.0 784.3 1465.0 775.0 1471.8 765.3 1478.0 754.5 1484.0 742.0 1490.0 730.0 1495.0 703.0 1504.1 672.0 1512.0 637.0 1518.5 598.0 1523.7 555.0 1527.6 509.0 1530.0Z" fill="#e64824"/>
<path d="M506.0 1529.0 466.0 1529.8 427.0 1529.4 391.0 1527.8 359.0 1525.0 331.0 1521.1 308.0 1516.3 287.1 1510.0 270.0 1502.7 255.4 1494.0 243.4 1484.0 233.0 1472.0 224.4 1458.0 217.5 1442.0 211.9 1423.0 207.7 1401.0 204.8 1376.0 203.5 1354.0 203.1 1331.0 203.4 1306.0 204.6 1279.0 206.6 1251.0 209.3 1223.0 212.8 1194.0 217.0 1165.6 227.0 1112.0 232.9 1086.0 239.0 1062.0 245.9 1038.0 253.0 1016.1 261.0 994.0 269.0 974.2 277.1 956.0 286.0 938.2 295.0 922.0 305.0 905.8 315.0 891.4 325.0 878.6 336.0 866.1 347.0 855.1 358.0 845.6 370.0 836.6 382.0 829.0 395.0 822.2 408.0 816.8 421.0 812.8 434.0 809.9 447.0 808.3 461.0 807.8 476.0 808.6 490.0 810.6 505.0 814.0 520.0 818.7 535.0 824.6 550.0 831.8 565.0 840.2 581.0 850.5 596.0 861.3 611.0 873.4 626.0 886.7 641.0 901.2 656.0 917.1 670.8 934.0 684.7 951.0 699.8 971.0 713.8 991.0 727.6 1012.0 741.0 1034.0 753.4 1056.0 765.6 1079.0 776.8 1102.0 787.6 1126.0 797.4 1150.0 806.0 1173.0 813.7 1196.0 820.4 1219.0 826.0 1241.0 830.6 1263.0 833.8 1283.0 836.0 1303.0 837.1 1332.0 835.5 1358.0 833.8 1370.0 831.3 1382.0 828.3 1393.0 824.4 1404.0 820.0 1414.0 815.3 1423.0 809.7 1432.0 803.0 1441.0 796.1 1449.0 788.0 1457.0 779.7 1464.0 770.2 1471.0 760.9 1477.0 750.0 1483.1 738.0 1488.9 725.8 1494.0 699.5 1503.0 668.3 1511.0 633.0 1517.6 594.0 1522.8 551.0 1526.7 506.0 1529.0Z" fill="#e64b24"/>
<path d="M503.0 1528.0 463.0 1528.7 425.0 1528.2 390.0 1526.5 359.0 1523.7 332.9 1520.0 309.0 1514.9 289.0 1508.8 270.9 1501.0 256.3 1492.0 244.6 1482.0 234.4 1470.0 226.0 1456.0 218.8 1439.0 213.4 1420.0 209.3 1398.0 206.6 1373.0 205.4 1351.0 205.0 1328.0 205.5 1303.0 206.7 1277.0 208.7 1250.0 211.6 1222.0 219.2 1167.0 229.0 1115.0 234.8 1090.0 241.0 1066.0 247.7 1043.0 255.0 1020.8 263.0 999.0 271.2 979.0 279.4 961.0 288.0 944.0 297.0 928.1 307.0 912.1 317.0 898.0 327.0 885.3 338.0 873.1 349.0 862.3 360.0 852.9 372.0 844.1 384.0 836.7 396.0 830.5 408.0 825.6 421.0 821.5 434.0 818.7 448.0 816.9 462.0 816.5 476.0 817.3 490.0 819.3 505.0 822.7 520.0 827.5 535.0 833.4 550.0 840.7 565.0 849.1 580.0 858.7 595.0 869.6 610.0 881.7 625.0 895.0 640.0 909.5 654.0 924.3 668.7 941.0 683.0 958.6 697.6 978.0 711.7 998.0 725.0 1018.4 738.2 1040.0 750.6 1062.0 762.7 1085.0 773.8 1108.0 784.1 1131.0 793.5 1154.0 802.1 1177.0 809.7 1200.0 816.1 1222.0 821.6 1244.0 825.9 1265.0 829.0 1285.0 831.1 1305.0 832.1 1333.0 830.4 1359.0 828.6 1371.0 826.0 1383.0 822.9 1394.0 819.3 1404.0 814.8 1414.0 809.5 1424.0 803.7 1433.0 797.6 1441.0 790.6 1449.0 782.4 1457.0 774.0 1464.0 765.0 1470.6 754.9 1477.0 744.0 1483.0 721.0 1493.3 694.0 1502.5 663.0 1510.3 628.0 1516.9 589.5 1522.0 547.0 1525.8 503.0 1528.0Z" fill="#e74c23"/>
<path d="M499.0 1527.0 460.0 1527.6 422.0 1527.0 387.0 1525.1 357.0 1522.2 330.0 1518.0 307.8 1513.0 288.0 1506.6 271.4 1499.0 257.2 1490.0 245.8 1480.0 235.9 1468.0 227.1 1453.0 220.1 1436.0 214.9 1417.0 211.0 1395.0 208.4 1370.0 207.3 1349.0 207.0 1326.0 207.5 1301.0 208.9 1275.0 211.0 1248.0 213.8 1221.0 221.5 1167.0 231.5 1116.0 237.1 1092.0 243.6 1068.0 250.5 1045.0 257.9 1023.0 265.8 1002.0 273.7 983.0 282.0 965.3 290.4 949.0 299.6 933.0 309.0 918.3 319.0 904.4 329.0 891.9 340.0 879.9 351.0 869.3 362.0 860.1 374.0 851.4 386.0 844.2 398.0 838.2 410.0 833.4 423.0 829.5 436.0 826.9 449.0 825.4 463.0 825.0 477.0 825.9 491.0 828.0 506.0 831.6 520.0 836.1 535.0 842.1 550.0 849.3 565.0 857.8 580.0 867.5 595.0 878.5 610.0 890.6 624.0 903.1 639.0 917.7 653.0 932.5 667.0 948.4 681.3 966.0 695.6 985.0 709.6 1005.0 723.0 1025.5 736.0 1047.0 748.4 1069.0 760.0 1091.2 771.0 1114.0 781.2 1137.0 790.5 1160.0 798.6 1182.0 806.1 1205.0 812.4 1227.0 817.5 1248.0 821.6 1269.0 824.6 1289.0 826.4 1308.0 827.1 1336.0 825.2 1361.0 823.3 1373.0 820.8 1384.0 817.5 1395.0 813.8 1405.0 809.2 1415.0 804.0 1424.5 798.0 1433.6 791.5 1442.0 784.2 1450.0 776.8 1457.0 768.4 1464.0 759.0 1470.7 748.9 1477.0 738.0 1482.9 715.1 1493.0 688.3 1502.0 657.0 1509.9 623.0 1516.1 585.0 1521.2 543.0 1524.8 499.0 1527.0Z" fill="#e74e23"/>
<path d="M495.0 1526.0 457.0 1526.5 420.0 1525.8 386.0 1523.9 356.0 1520.8 330.0 1516.6 308.0 1511.4 288.9 1505.0 271.9 1497.0 258.0 1487.9 246.1 1477.0 236.0 1464.1 228.2 1450.0 221.5 1433.0 216.4 1414.0 212.6 1392.0 210.1 1366.0 209.2 1345.0 209.0 1322.0 209.6 1298.0 211.1 1272.0 216.1 1220.0 224.0 1166.6 234.0 1116.8 246.0 1070.3 252.9 1048.0 260.0 1027.2 268.0 1006.3 276.0 987.6 284.0 970.7 293.0 953.6 302.0 938.2 311.3 924.0 321.0 910.6 331.0 898.4 342.0 886.5 353.0 876.1 364.0 867.1 375.0 859.3 387.0 852.1 399.0 846.2 411.0 841.5 424.0 837.7 437.0 835.1 450.0 833.7 464.0 833.4 478.0 834.4 492.0 836.6 507.0 840.3 521.0 844.9 536.0 851.0 550.0 857.8 565.0 866.4 579.0 875.5 594.0 886.4 609.0 898.6 623.0 911.0 638.0 925.7 652.0 940.5 666.0 956.5 680.0 973.8 694.0 992.4 707.7 1012.0 720.7 1032.0 733.4 1053.0 745.7 1075.0 757.2 1097.0 767.7 1119.0 777.9 1142.0 787.1 1165.0 795.1 1187.0 802.2 1209.0 808.1 1230.0 813.2 1251.0 817.2 1272.0 820.0 1291.0 821.7 1310.0 822.3 1337.0 820.2 1362.0 818.2 1374.0 815.6 1385.0 812.2 1396.0 808.4 1406.0 803.7 1416.0 798.6 1425.0 792.5 1434.0 786.2 1442.0 778.8 1450.0 771.4 1457.0 762.8 1464.0 754.0 1470.2 733.6 1482.0 710.0 1492.4 683.0 1501.4 652.8 1509.0 619.0 1515.3 581.0 1520.3 539.0 1523.9 495.0 1526.0Z" fill="#e85022"/>
<path d="M490.0 1525.0 452.0 1525.4 416.0 1524.5 383.0 1522.4 354.0 1519.2 329.0 1514.9 307.0 1509.4 288.0 1502.7 272.0 1494.7 258.0 1485.1 247.0 1474.6 237.4 1462.0 229.3 1447.0 222.8 1430.0 217.7 1410.0 214.0 1387.0 211.8 1361.0 211.0 1340.0 211.0 1317.0 211.8 1293.0 213.4 1268.0 218.8 1216.0 226.7 1165.0 236.9 1116.0 249.0 1070.8 255.9 1049.0 263.0 1028.9 270.8 1009.0 278.7 991.0 287.0 974.0 295.6 958.0 304.6 943.0 314.0 928.9 324.0 915.5 334.0 903.6 344.0 893.1 355.0 882.9 366.0 874.0 377.0 866.4 389.0 859.4 401.0 853.7 413.0 849.1 426.0 845.5 438.0 843.2 451.0 841.9 465.0 841.7 479.0 842.8 493.0 845.1 507.0 848.5 521.0 853.2 536.0 859.3 550.0 866.2 565.0 874.8 580.0 884.6 594.0 894.9 608.8 907.0 623.0 919.8 637.0 933.5 651.6 949.0 665.5 965.0 679.0 981.8 693.0 1000.5 706.5 1020.0 719.4 1040.0 732.0 1061.0 743.7 1082.0 755.0 1104.0 765.5 1126.0 775.1 1148.0 783.8 1170.0 791.7 1192.0 798.7 1214.0 804.5 1235.0 809.1 1255.0 812.9 1275.0 815.5 1294.0 817.1 1313.0 817.4 1339.0 816.6 1352.0 815.1 1364.0 810.5 1386.0 807.0 1397.0 803.0 1407.0 798.7 1416.0 793.5 1425.0 787.4 1434.0 781.0 1442.0 773.5 1450.0 765.9 1457.0 757.2 1464.0 748.0 1470.4 727.6 1482.0 704.0 1492.2 677.3 1501.0 646.0 1508.7 611.0 1515.0 574.0 1519.7 533.0 1523.1 490.0 1525.0Z" fill="#e85222"/>
<path d="M485.0 1524.0 448.0 1524.2 413.0 1523.2 381.0 1521.0 352.0 1517.5 327.2 1513.0 306.0 1507.4 287.0 1500.2 271.4 1492.0 258.0 1482.2 246.9 1471.0 237.7 1458.0 230.0 1443.0 223.6 1425.0 218.9 1405.0 215.5 1382.0 213.5 1356.0 212.9 1335.0 213.1 1313.0 215.7 1265.0 221.1 1215.0 229.3 1164.0 239.4 1117.0 251.8 1072.0 258.6 1051.0 266.0 1030.7 273.6 1012.0 281.6 994.0 290.0 977.2 298.4 962.0 307.6 947.0 317.0 933.3 327.0 920.3 337.0 908.8 347.0 898.5 358.0 888.6 369.0 880.1 380.0 872.7 392.0 866.0 404.0 860.6 416.0 856.3 428.0 853.1 440.0 851.0 453.0 849.9 467.0 849.9 481.0 851.1 495.0 853.6 509.0 857.3 523.0 862.1 537.0 868.0 552.0 875.5 566.0 883.7 581.0 893.7 595.0 904.1 609.0 915.7 623.0 928.4 637.0 942.2 651.0 957.2 664.6 973.0 678.0 989.7 691.6 1008.0 705.0 1027.4 717.6 1047.0 730.0 1067.8 741.7 1089.0 752.5 1110.0 762.8 1132.0 772.3 1154.0 780.6 1175.0 788.4 1197.0 794.9 1218.0 800.6 1239.0 805.2 1259.0 808.8 1279.0 811.2 1298.0 812.6 1316.0 812.6 1342.0 810.1 1366.0 807.7 1378.0 804.8 1389.0 801.4 1399.0 797.2 1409.0 792.7 1418.0 787.2 1427.0 781.5 1435.0 774.9 1443.0 767.2 1451.0 759.4 1458.0 750.3 1465.0 741.4 1471.0 721.0 1482.3 697.0 1492.4 670.0 1501.0 640.0 1508.2 606.0 1514.2 568.0 1519.0 528.0 1522.2 485.0 1524.0Z" fill="#e95421"/>
<path d="M477.0 1523.0 441.0 1523.0 407.0 1521.7 376.0 1519.2 348.0 1515.5 325.0 1510.9 304.0 1504.9 286.0 1497.7 270.6 1489.0 257.8 1479.0 247.0 1467.4 238.0 1454.0 230.4 1438.0 224.5 1420.0 220.0 1399.0 216.9 1375.0 215.2 1348.0 214.9 1327.0 215.3 1305.0 218.4 1258.0 224.2 1209.0 232.6 1160.0 243.0 1114.0 255.0 1071.9 262.0 1051.2 269.0 1032.5 277.0 1013.3 285.0 996.1 293.0 980.5 302.0 964.7 311.0 950.5 320.0 937.8 330.0 925.1 340.0 913.9 350.0 903.9 361.0 894.3 372.0 886.1 383.0 879.0 394.0 873.1 406.0 867.8 418.0 863.7 430.0 860.7 442.0 858.7 455.0 857.7 468.0 857.9 482.0 859.2 496.0 861.8 510.0 865.6 524.0 870.5 538.0 876.5 552.0 883.6 567.0 892.5 582.0 902.6 596.0 913.2 610.0 924.9 624.0 937.8 638.0 951.8 651.1 966.0 664.7 982.0 678.0 998.7 691.4 1017.0 704.4 1036.0 717.0 1055.9 728.9 1076.0 740.3 1097.0 750.9 1118.0 760.7 1139.0 770.1 1161.0 778.5 1183.0 785.7 1204.0 792.1 1225.0 797.3 1245.0 801.6 1265.0 804.8 1284.0 806.9 1302.0 808.0 1320.0 807.7 1345.0 804.8 1369.0 799.7 1390.0 796.2 1400.0 791.9 1410.0 787.2 1419.0 781.6 1428.0 775.7 1436.0 768.9 1444.0 761.0 1451.9 753.0 1458.8 744.8 1465.0 735.0 1471.5 725.0 1477.2 713.4 1483.0 690.0 1492.5 662.8 1501.0 632.8 1508.0 597.6 1514.0 560.0 1518.5 519.0 1521.5 477.0 1523.0Z" fill="#e95621"/>
<path d="M462.0 1522.0 427.0 1521.4 394.0 1519.6 364.0 1516.5 338.0 1512.3 316.2 1507.0 297.0 1500.5 280.0 1492.4 266.0 1483.1 253.9 1472.0 244.0 1459.3 235.9 1445.0 229.0 1427.4 223.9 1408.0 220.0 1385.0 217.8 1360.0 216.9 1332.0 218.1 1289.0 222.1 1242.0 228.8 1194.0 237.6 1148.0 248.2 1105.0 261.0 1063.7 275.0 1027.1 283.0 1009.2 291.0 993.0 299.0 978.4 308.0 963.6 317.0 950.2 326.0 938.3 335.0 927.5 345.0 916.9 355.0 907.5 366.0 898.4 377.0 890.7 388.0 884.1 399.0 878.6 411.0 873.8 423.0 870.1 435.0 867.5 447.0 866.0 459.0 865.5 472.0 865.9 486.0 867.7 500.0 870.6 514.0 874.7 528.0 880.0 542.0 886.3 556.0 893.8 570.0 902.5 585.0 912.9 599.0 923.8 613.0 935.9 626.9 949.0 640.6 963.0 654.0 978.0 667.3 994.0 680.5 1011.0 694.0 1029.9 706.7 1049.0 719.0 1069.0 730.5 1089.0 741.6 1110.0 751.8 1131.0 761.2 1152.0 769.8 1173.0 777.5 1194.0 784.3 1215.0 790.0 1235.0 794.9 1255.0 798.6 1274.0 801.3 1293.0 803.0 1311.0 803.6 1328.0 802.5 1352.0 799.0 1375.0 796.2 1386.0 793.0 1396.0 789.0 1406.0 784.6 1415.0 779.3 1424.0 773.8 1432.0 767.4 1440.0 759.9 1448.0 752.3 1455.0 743.5 1462.0 725.0 1474.0 703.0 1484.9 679.0 1494.0 651.0 1502.1 619.0 1509.0 584.0 1514.4 545.0 1518.5 504.0 1521.1 462.0 1522.0Z" fill="#e95821"/>
<path d="M500.0 1520.0 464.0 1520.8 429.0 1520.3 397.0 1518.6 368.0 1515.7 343.0 1511.8 320.0 1506.4 300.7 1500.0 284.0 1492.3 270.0 1483.4 258.0 1473.0 248.0 1461.0 239.5 1447.0 232.6 1431.0 227.0 1412.1 222.9 1391.0 220.4 1368.0 219.3 1349.0 218.9 1328.0 220.5 1284.0 225.0 1236.0 232.2 1188.0 241.6 1142.0 253.2 1098.0 259.8 1077.0 266.8 1057.0 274.0 1038.6 282.1 1020.0 290.0 1003.7 298.0 988.7 307.0 973.6 316.0 960.0 325.0 947.7 335.0 935.6 345.0 924.9 355.5 915.0 366.0 906.3 377.0 898.5 388.0 891.9 400.0 885.9 412.0 881.2 424.0 877.6 436.0 875.1 448.0 873.6 461.0 873.2 474.0 873.8 487.0 875.5 501.0 878.6 514.0 882.4 528.0 887.7 542.0 894.2 556.0 901.7 570.0 910.4 584.0 920.2 597.9 931.0 611.0 942.2 624.6 955.0 638.0 968.7 651.0 983.0 664.0 998.5 677.0 1015.2 689.8 1033.0 702.0 1051.1 714.0 1070.3 725.4 1090.0 736.2 1110.0 746.1 1130.0 755.7 1151.0 764.4 1172.0 771.9 1192.0 778.6 1212.0 784.5 1232.0 789.3 1251.0 793.2 1270.0 796.1 1288.0 798.1 1306.0 799.0 1332.0 797.5 1356.0 793.7 1378.0 790.7 1389.0 787.2 1399.0 778.7 1417.0 773.1 1426.0 767.3 1434.0 760.6 1442.0 753.7 1449.0 745.8 1456.0 736.7 1463.0 717.5 1475.0 696.7 1485.0 672.4 1494.0 644.0 1502.0 612.0 1508.7 577.0 1513.9 539.0 1517.7 500.0 1520.0Z" fill="#ea5a20"/>
<path d="M495.0 1519.0 459.0 1519.7 425.2 1519.0 394.0 1517.1 365.4 1514.0 341.0 1509.9 319.0 1504.4 300.5 1498.0 284.0 1490.0 270.4 1481.0 258.3 1470.0 248.7 1458.0 240.6 1444.0 233.9 1428.0 228.5 1409.0 224.6 1388.0 222.1 1364.0 221.1 1345.0 220.9 1324.0 222.8 1280.0 227.6 1233.0 234.9 1186.0 244.5 1141.0 256.0 1098.8 262.7 1078.0 269.6 1059.0 277.0 1040.5 285.0 1022.6 293.0 1006.5 301.0 991.9 310.0 977.1 319.0 963.9 328.0 952.0 338.0 940.2 348.0 929.8 358.0 920.6 368.0 912.6 379.0 904.9 390.0 898.5 402.0 892.7 413.0 888.4 425.0 884.9 437.0 882.5 449.0 881.1 462.0 880.7 475.0 881.5 488.0 883.3 502.0 886.4 515.0 890.4 529.0 895.8 543.0 902.4 556.0 909.5 569.0 917.5 583.0 927.3 597.0 938.2 610.7 950.0 624.0 962.5 637.0 975.9 650.0 990.3 663.0 1005.8 676.0 1022.6 688.5 1040.0 700.5 1058.0 712.3 1077.0 723.2 1096.0 733.9 1116.0 743.7 1136.0 752.8 1156.0 761.0 1176.0 768.5 1196.0 775.1 1216.0 780.9 1236.0 785.6 1255.0 789.4 1274.0 792.1 1292.0 793.8 1309.0 794.5 1334.0 792.8 1358.0 788.6 1380.0 785.7 1390.0 782.1 1400.0 778.1 1409.0 773.3 1418.0 767.6 1427.0 761.6 1435.0 754.6 1443.0 747.5 1450.0 731.4 1463.0 712.0 1474.9 690.6 1485.0 665.7 1494.0 637.0 1501.8 606.7 1508.0 572.0 1513.1 534.0 1516.8 495.0 1519.0Z" fill="#ea5c20"/>
<path d="M489.0 1518.0 454.0 1518.4 421.0 1517.6 391.0 1515.6 363.0 1512.3 339.0 1507.9 318.0 1502.4 300.0 1495.8 284.0 1487.7 270.1 1478.0 259.0 1467.4 249.5 1455.0 241.2 1440.0 234.6 1423.0 229.6 1404.0 226.1 1383.0 223.8 1359.0 223.1 1340.0 223.0 1320.0 225.2 1276.0 230.2 1230.0 237.7 1184.0 247.4 1140.0 259.0 1099.0 265.6 1079.0 272.7 1060.0 280.0 1042.4 288.0 1025.0 296.0 1009.2 304.0 995.1 313.0 980.7 322.0 967.8 331.0 956.2 341.0 944.8 351.0 934.7 360.7 926.0 371.0 918.0 382.0 910.7 393.0 904.5 404.0 899.4 415.0 895.3 427.0 891.9 439.0 889.7 451.0 888.4 464.0 888.2 477.0 889.2 490.0 891.2 503.0 894.2 516.0 898.3 530.0 903.8 544.0 910.5 557.0 917.7 571.0 926.5 584.0 935.8 598.0 946.9 611.0 958.2 624.0 970.6 637.0 984.0 650.0 998.6 662.7 1014.0 675.8 1031.0 688.0 1048.2 700.0 1066.4 711.4 1085.0 722.2 1104.0 732.7 1124.0 742.0 1143.3 750.8 1163.0 758.9 1183.0 765.8 1202.0 772.2 1222.0 777.6 1241.0 782.1 1260.0 785.5 1278.0 788.0 1296.0 789.5 1313.0 789.9 1338.0 787.8 1361.0 783.5 1382.0 780.5 1392.0 776.6 1402.0 772.4 1411.0 767.4 1420.0 762.1 1428.0 755.9 1436.0 748.7 1444.0 741.3 1451.0 724.6 1464.0 705.0 1475.6 683.0 1485.6 658.0 1494.3 630.0 1501.7 598.0 1507.9 564.0 1512.7 528.0 1516.0 489.0 1518.0Z" fill="#eb5e1f"/>
<path d="M481.0 1517.0 447.0 1517.2 414.0 1516.0 385.0 1513.7 358.0 1510.1 335.0 1505.4 315.0 1499.6 297.0 1492.4 282.0 1484.0 269.0 1474.1 258.3 1463.0 249.1 1450.0 241.5 1435.0 235.4 1418.0 230.6 1398.0 227.3 1376.0 225.5 1351.0 225.0 1332.0 225.2 1312.0 227.9 1269.0 233.1 1225.0 241.0 1180.0 250.7 1138.0 262.4 1098.0 276.0 1060.7 283.1 1044.0 291.2 1027.0 307.0 998.2 316.0 984.2 324.8 972.0 334.0 960.5 343.0 950.4 353.0 940.5 363.0 931.7 373.0 924.1 384.0 916.9 395.0 910.9 406.0 906.0 417.0 902.0 429.0 898.8 441.0 896.7 453.0 895.7 466.0 895.7 479.0 896.7 492.0 898.9 505.0 902.2 518.0 906.4 531.0 911.7 545.0 918.5 558.0 925.8 572.0 934.8 585.0 944.2 598.0 954.6 611.0 966.1 624.0 978.5 637.0 992.1 650.0 1006.8 662.4 1022.0 675.0 1038.6 687.0 1055.6 699.0 1074.0 710.0 1092.1 720.6 1111.0 731.0 1131.0 740.1 1150.0 748.8 1170.0 756.7 1190.0 763.4 1209.0 769.4 1228.0 774.5 1247.0 778.6 1265.0 781.8 1283.0 784.0 1300.0 785.3 1317.0 785.3 1342.0 782.8 1365.0 777.9 1386.0 770.7 1405.0 761.4 1422.0 755.8 1430.0 749.3 1438.0 735.1 1452.0 718.0 1464.8 698.5 1476.0 675.7 1486.0 651.0 1494.3 623.0 1501.5 592.0 1507.4 557.0 1512.1 520.0 1515.3 481.0 1517.0Z" fill="#eb5f1f"/>
<path d="M468.0 1516.0 435.0 1515.7 403.0 1514.0 375.0 1511.2 350.0 1507.1 328.4 1502.0 309.0 1495.5 292.7 1488.0 278.5 1479.0 266.0 1468.2 255.8 1456.0 247.3 1442.0 240.4 1426.0 235.0 1408.0 230.9 1387.0 228.3 1364.0 227.1 1338.0 227.8 1299.0 231.2 1257.0 237.1 1214.0 245.4 1171.0 255.7 1130.0 267.6 1092.0 281.2 1057.0 288.9 1040.0 296.5 1025.0 304.2 1011.0 312.8 997.0 321.0 985.0 330.0 973.0 339.0 962.4 349.0 951.9 359.0 942.6 368.3 935.0 379.0 927.4 389.0 921.4 400.0 915.8 411.0 911.3 422.0 907.8 434.0 905.1 445.0 903.5 457.0 902.8 470.0 903.1 483.0 904.6 496.0 907.1 509.0 910.6 522.0 915.3 535.0 920.9 548.0 927.5 562.0 935.7 575.8 945.0 589.0 954.9 602.0 965.7 615.0 977.6 628.0 990.5 640.5 1004.0 653.0 1018.6 665.0 1033.6 677.1 1050.0 689.0 1067.4 700.2 1085.0 711.4 1104.0 721.7 1123.0 731.3 1142.0 740.5 1162.0 748.4 1181.0 756.0 1201.0 762.4 1220.0 767.9 1239.0 772.4 1257.0 776.1 1275.0 778.7 1292.0 780.4 1309.0 781.2 1325.0 780.4 1348.0 777.4 1370.0 772.1 1390.0 768.4 1400.0 764.2 1409.0 759.2 1418.0 754.0 1426.0 741.7 1441.0 734.6 1448.0 726.4 1455.0 709.1 1467.0 688.5 1478.0 666.0 1487.3 640.0 1495.4 611.0 1502.3 579.0 1507.8 544.0 1512.0 506.0 1514.8 468.0 1516.0Z" fill="#ec611e"/>
<path d="M497.0 1514.0 463.0 1514.8 431.0 1514.3 401.0 1512.5 373.0 1509.5 349.0 1505.4 327.4 1500.0 309.0 1493.6 293.0 1485.9 279.4 1477.0 268.0 1467.0 257.9 1455.0 249.4 1441.0 242.4 1425.0 237.0 1407.0 233.1 1387.0 230.4 1364.0 229.4 1347.0 229.1 1328.0 230.7 1287.0 235.0 1243.8 242.0 1199.7 251.0 1158.0 262.1 1118.0 275.0 1081.0 282.3 1063.0 290.0 1046.1 305.4 1017.0 314.0 1003.0 322.2 991.0 331.0 979.5 340.7 968.0 350.0 958.3 360.0 949.1 370.0 941.1 381.0 933.5 391.0 927.6 402.0 922.2 413.0 917.8 425.0 914.2 436.0 911.9 448.0 910.4 460.0 909.9 473.0 910.5 485.0 912.0 498.0 914.7 511.0 918.5 524.0 923.3 537.0 929.1 550.0 935.9 563.0 943.7 576.0 952.6 589.0 962.4 601.0 972.4 613.7 984.0 626.0 996.2 638.8 1010.0 651.0 1024.2 663.0 1039.3 675.0 1055.6 686.9 1073.0 697.7 1090.0 718.1 1126.0 727.7 1145.0 736.5 1164.0 751.3 1201.0 757.8 1220.0 763.1 1238.0 767.7 1256.0 771.4 1274.0 774.2 1291.0 775.9 1307.0 776.8 1332.0 775.4 1355.0 771.7 1376.0 768.9 1386.0 765.5 1396.0 761.6 1405.0 757.0 1414.0 746.3 1430.0 739.6 1438.0 733.0 1444.8 718.0 1457.5 700.3 1469.0 679.0 1479.7 656.0 1488.5 630.0 1496.2 600.0 1502.8 568.0 1507.9 533.0 1511.7 497.0 1514.0Z" fill="#ec631e"/>
<path d="M490.0 1513.0 457.0 1513.6 426.0 1512.8 397.0 1510.9 370.0 1507.6 346.0 1503.2 326.0 1497.8 307.7 1491.0 292.1 1483.0 279.0 1473.9 267.4 1463.0 258.0 1451.0 250.0 1437.0 243.4 1421.0 238.3 1403.0 234.5 1382.0 232.1 1359.0 231.3 1341.0 231.2 1322.0 233.2 1282.0 237.8 1240.0 244.9 1197.0 254.2 1156.0 265.5 1117.0 278.4 1081.0 293.0 1048.2 301.0 1032.8 308.9 1019.0 317.0 1006.3 325.6 994.0 335.0 982.1 344.0 971.9 353.0 962.8 363.0 953.9 373.0 946.1 384.0 938.8 394.0 933.2 405.0 928.0 416.0 923.9 427.0 920.8 438.0 918.7 450.0 917.3 462.0 917.0 475.0 917.8 487.0 919.5 500.0 922.3 512.0 925.9 525.0 930.8 538.0 936.8 551.0 943.7 564.0 951.7 577.0 960.6 590.0 970.7 602.0 980.8 615.0 992.9 627.0 1005.0 651.0 1032.3 663.0 1047.6 675.0 1064.0 697.1 1098.0 717.2 1134.0 734.7 1171.0 742.5 1190.0 749.2 1208.0 755.1 1226.0 760.3 1244.0 764.6 1262.0 768.0 1279.0 770.4 1296.0 771.9 1312.0 772.4 1336.0 770.7 1358.0 766.5 1379.0 760.2 1398.0 756.1 1407.0 751.2 1416.0 746.1 1424.0 740.0 1432.0 726.8 1446.0 711.0 1458.8 693.0 1470.0 672.3 1480.0 648.0 1489.0 622.0 1496.3 593.0 1502.4 561.0 1507.3 526.0 1510.9 490.0 1513.0Z" fill="#ed651d"/>
<path d="M481.0 1512.0 449.0 1512.2 418.0 1511.1 390.0 1508.8 364.0 1505.2 342.0 1500.6 322.0 1494.6 305.0 1487.6 290.0 1479.2 277.0 1469.3 266.1 1458.0 257.0 1445.1 249.8 1431.0 243.6 1414.0 238.9 1395.0 235.6 1374.0 233.7 1350.0 233.5 1314.0 236.0 1274.0 241.0 1233.0 248.6 1191.0 258.0 1152.0 269.6 1114.0 282.8 1079.0 297.2 1048.0 305.0 1033.5 313.0 1020.1 321.0 1008.0 330.0 995.8 339.0 984.9 348.0 975.1 357.0 966.4 367.0 957.9 377.0 950.5 387.0 944.1 397.0 938.7 408.0 933.8 419.0 930.0 430.0 927.1 441.0 925.2 453.0 924.1 465.0 924.0 477.0 925.0 489.0 926.8 502.0 929.9 514.0 933.7 527.0 938.7 540.0 944.9 553.0 952.0 566.0 960.2 579.0 969.4 592.0 979.7 603.9 990.0 616.0 1001.4 628.2 1014.0 652.0 1041.5 664.0 1057.1 675.4 1073.0 697.0 1106.9 716.2 1142.0 725.0 1160.1 733.3 1179.0 747.0 1215.0 752.7 1233.0 757.6 1251.0 761.5 1268.0 764.6 1285.0 766.7 1301.0 767.9 1317.0 768.0 1340.0 765.7 1362.0 761.3 1382.0 754.5 1401.0 745.4 1418.0 740.0 1426.0 734.0 1433.5 727.1 1441.0 720.0 1447.7 704.1 1460.0 685.6 1471.0 664.0 1480.9 641.0 1489.1 614.0 1496.4 584.0 1502.4 552.0 1507.0 517.0 1510.3 481.0 1512.0Z" fill="#ed671d"/>
<path d="M465.0 1511.0 434.0 1510.6 405.0 1508.9 378.0 1505.9 354.0 1501.7 333.0 1496.4 314.9 1490.0 299.0 1482.3 285.0 1473.0 273.7 1463.0 263.7 1451.0 255.2 1437.0 248.3 1421.0 242.9 1403.0 239.0 1383.0 236.5 1360.0 235.4 1335.0 236.3 1298.0 239.8 1259.0 245.7 1219.0 253.9 1179.0 264.0 1141.0 275.6 1106.0 289.0 1073.1 303.5 1044.0 319.0 1018.5 327.0 1007.2 336.0 995.7 345.0 985.5 354.0 976.4 363.0 968.3 373.0 960.4 383.0 953.6 393.0 947.7 403.0 942.9 414.0 938.5 425.0 935.2 436.0 932.9 447.0 931.4 458.0 930.8 470.0 931.2 482.0 932.5 494.0 934.8 507.0 938.3 519.0 942.4 532.0 948.0 545.0 954.5 557.8 962.0 570.0 970.1 583.0 979.7 595.6 990.0 607.8 1001.0 620.0 1013.0 632.0 1025.7 655.0 1053.3 666.7 1069.0 677.8 1085.0 698.8 1119.0 708.6 1137.0 717.7 1155.0 733.6 1191.0 740.4 1209.0 746.4 1227.0 751.7 1245.0 755.9 1262.0 759.3 1279.0 761.7 1295.0 763.3 1311.0 763.9 1326.0 763.1 1349.0 760.0 1370.0 754.8 1389.0 747.2 1407.0 737.5 1423.0 731.4 1431.0 725.2 1438.0 711.2 1451.0 694.2 1463.0 674.0 1474.0 652.5 1483.0 627.6 1491.0 600.0 1497.7 570.0 1503.1 536.0 1507.3 501.0 1509.9 465.0 1511.0Z" fill="#ee691c"/>
<path d="M493.0 1509.0 462.0 1509.7 431.0 1509.1 402.0 1507.2 376.0 1504.1 353.5 1500.0 333.0 1494.6 315.0 1488.0 299.1 1480.0 286.0 1471.0 275.0 1461.0 265.2 1449.0 256.8 1435.0 250.0 1419.0 245.0 1402.0 241.1 1382.0 238.6 1360.0 237.7 1343.0 237.5 1326.0 239.1 1288.0 243.4 1248.0 250.1 1208.0 259.0 1168.8 270.0 1131.1 282.8 1096.0 297.0 1064.4 312.1 1037.0 320.0 1024.6 329.0 1012.0 337.0 1001.8 346.0 991.6 355.0 982.6 365.0 973.7 375.0 965.9 385.0 959.3 395.0 953.6 405.0 948.9 416.0 944.7 427.0 941.5 438.0 939.3 449.0 938.0 461.0 937.6 473.0 938.2 485.0 939.8 497.0 942.3 509.0 945.8 521.0 950.1 533.0 955.4 546.0 962.1 559.0 969.8 571.0 977.9 583.0 986.8 595.0 996.7 607.0 1007.6 619.0 1019.4 642.0 1045.0 665.0 1074.7 686.4 1107.0 705.7 1141.0 722.6 1176.0 736.6 1211.0 742.6 1229.0 747.6 1246.0 751.8 1263.0 755.0 1279.0 757.4 1295.0 759.0 1310.0 759.7 1333.0 758.2 1355.0 754.6 1375.0 748.6 1394.0 740.6 1411.0 735.7 1419.0 730.0 1427.0 717.5 1441.0 702.3 1454.0 685.0 1465.3 665.0 1475.5 643.0 1484.1 618.0 1491.7 590.2 1498.0 560.0 1503.0 527.0 1506.8 493.0 1509.0Z" fill="#ee6b1c"/>
<path d="M484.0 1508.0 453.0 1508.4 424.0 1507.5 396.0 1505.3 371.0 1501.8 349.0 1497.3 329.0 1491.4 312.0 1484.5 297.0 1476.2 284.6 1467.0 273.6 1456.0 264.0 1443.0 256.5 1429.0 250.4 1413.0 245.7 1395.0 242.3 1375.0 240.2 1352.0 239.8 1318.0 242.0 1280.0 246.7 1241.0 253.8 1202.0 263.0 1164.0 274.0 1128.3 286.7 1095.0 301.0 1064.4 316.1 1038.0 324.1 1026.0 333.0 1014.0 342.0 1003.2 350.6 994.0 360.0 985.0 369.0 977.4 379.0 970.0 389.0 963.7 399.0 958.4 409.0 954.0 419.0 950.5 430.0 947.6 441.0 945.6 452.0 944.6 463.0 944.4 475.0 945.2 487.0 946.9 499.0 949.6 511.0 953.2 523.0 957.7 536.0 963.7 548.0 970.1 560.9 978.0 573.0 986.3 585.0 995.5 597.0 1005.7 620.1 1028.0 643.0 1053.9 665.1 1083.0 686.0 1115.1 704.9 1149.0 721.0 1183.1 734.5 1218.0 740.0 1235.0 744.8 1252.0 748.6 1268.0 751.6 1284.0 753.8 1300.0 755.1 1315.0 755.3 1338.0 753.4 1359.0 749.2 1379.0 743.0 1397.0 734.3 1414.0 723.8 1429.0 710.6 1443.0 695.8 1455.0 678.4 1466.0 657.9 1476.0 635.0 1484.6 609.3 1492.0 581.0 1498.1 550.0 1502.8 518.0 1506.1 484.0 1508.0Z" fill="#ee6c1c"/>
<path d="M470.0 1507.0 440.0 1506.8 412.0 1505.3 386.0 1502.6 362.0 1498.6 341.0 1493.4 323.0 1487.2 307.0 1479.7 293.2 1471.0 281.4 1461.0 271.0 1449.0 262.7 1436.0 255.7 1421.0 250.2 1404.0 246.0 1385.0 243.3 1364.0 241.9 1340.0 242.3 1306.0 245.3 1269.0 250.7 1231.0 258.4 1193.0 267.8 1157.0 279.0 1123.0 292.0 1091.0 306.4 1062.0 321.6 1037.0 338.0 1015.0 347.0 1004.8 355.6 996.0 365.0 987.6 374.0 980.4 384.0 973.6 394.0 967.7 404.0 962.9 414.0 958.9 424.0 955.8 435.0 953.3 445.0 951.8 456.0 951.1 467.0 951.2 479.0 952.3 491.0 954.4 503.0 957.4 515.0 961.3 527.0 966.2 540.0 972.5 552.0 979.3 564.0 986.9 576.0 995.5 588.0 1005.1 600.0 1015.5 623.0 1038.4 645.8 1065.0 667.8 1095.0 687.9 1127.0 705.6 1160.0 721.0 1194.0 733.4 1228.0 738.6 1245.0 742.7 1261.0 746.1 1277.0 748.7 1293.0 750.4 1308.0 751.2 1323.0 750.7 1345.0 748.2 1365.0 743.5 1384.0 736.4 1402.0 727.3 1418.0 715.7 1433.0 702.4 1446.0 686.4 1458.0 668.0 1468.6 647.1 1478.0 624.0 1486.0 597.4 1493.0 568.0 1498.7 537.0 1502.9 504.0 1505.7 470.0 1507.0Z" fill="#ee6d1b"/>
<path d="M491.0 1505.0 461.0 1505.7 432.0 1505.1 404.0 1503.2 379.0 1500.1 357.0 1495.9 337.0 1490.4 320.0 1483.9 304.6 1476.0 291.6 1467.0 280.0 1456.2 270.3 1444.0 262.7 1431.0 256.0 1415.1 251.0 1398.1 247.3 1379.0 245.0 1358.0 243.9 1326.0 245.5 1290.0 249.7 1252.0 256.3 1214.0 265.0 1176.9 275.8 1141.0 288.0 1108.5 302.0 1078.1 317.0 1051.5 333.0 1028.4 341.0 1018.6 350.0 1008.6 359.0 999.7 368.0 991.9 377.0 985.1 387.0 978.5 397.0 972.9 407.0 968.2 417.0 964.5 428.0 961.3 438.0 959.3 449.0 958.0 460.0 957.6 472.0 958.1 483.0 959.5 495.0 961.9 506.0 964.9 518.0 969.1 530.0 974.3 542.0 980.3 554.0 987.3 566.0 995.2 589.0 1012.9 612.0 1034.2 634.6 1059.0 656.5 1087.0 676.7 1117.0 695.1 1149.0 711.2 1182.0 724.5 1215.0 735.1 1248.0 739.1 1264.0 742.4 1280.0 744.8 1295.0 746.4 1310.0 747.1 1333.0 745.7 1354.0 742.0 1374.0 736.4 1392.0 728.4 1409.0 718.6 1424.0 706.3 1438.0 692.0 1450.4 674.7 1462.0 655.4 1472.0 634.0 1480.6 610.0 1488.0 584.0 1494.1 555.0 1499.1 523.0 1502.9 491.0 1505.0Z" fill="#ef6f1b"/>
<path d="M482.0 1504.0 453.0 1504.3 425.0 1503.4 399.0 1501.3 375.0 1497.9 354.0 1493.4 335.0 1487.8 318.0 1480.8 303.0 1472.5 290.3 1463.0 279.4 1452.0 270.6 1440.0 263.0 1426.0 256.7 1410.0 252.0 1392.2 248.7 1373.0 246.7 1351.0 246.2 1318.0 248.4 1283.0 253.0 1246.0 259.9 1209.0 268.8 1173.0 279.6 1139.0 292.0 1107.3 306.0 1078.1 321.0 1052.6 337.0 1030.4 345.0 1021.0 354.0 1011.4 363.0 1003.0 372.0 995.5 381.0 989.0 391.0 982.8 401.0 977.5 411.0 973.2 421.0 969.8 431.0 967.2 441.0 965.4 452.0 964.3 463.0 964.1 475.0 964.9 486.0 966.5 498.0 969.2 509.0 972.5 521.0 976.9 533.0 982.4 545.0 988.7 557.0 995.9 568.0 1003.4 580.0 1012.5 591.4 1022.0 614.0 1043.5 636.0 1068.2 657.3 1096.0 677.0 1126.0 694.9 1158.0 710.5 1191.0 723.3 1224.0 732.9 1256.0 736.7 1272.0 739.4 1287.0 741.5 1302.0 742.6 1316.0 742.8 1338.0 741.0 1358.0 737.0 1377.0 730.9 1395.0 722.8 1411.0 712.4 1426.0 699.5 1440.0 684.9 1452.0 667.6 1463.0 648.0 1472.7 626.3 1481.0 602.0 1488.2 575.0 1494.2 545.0 1498.9 514.0 1502.2 482.0 1504.0Z" fill="#ef701b"/>
<path d="M495.0 1502.0 466.0 1503.0 438.0 1502.6 411.0 1501.0 386.0 1498.1 363.6 1494.0 344.0 1488.9 326.0 1482.3 311.0 1474.9 297.6 1466.0 286.3 1456.0 276.9 1445.0 268.6 1432.0 261.7 1417.0 256.2 1400.0 252.2 1381.0 249.6 1361.0 248.3 1330.0 249.6 1295.0 253.4 1259.0 259.7 1222.0 268.0 1186.1 278.2 1152.0 290.1 1120.0 304.0 1089.6 318.4 1064.0 334.0 1041.3 350.4 1022.0 359.0 1013.4 368.0 1005.4 377.0 998.4 387.0 991.7 396.0 986.6 406.0 981.8 416.0 977.9 427.0 974.6 437.0 972.5 448.0 971.1 459.0 970.6 470.0 970.9 481.0 972.2 492.0 974.2 503.0 977.1 515.0 981.1 526.0 985.6 538.0 991.5 549.6 998.0 561.0 1005.3 573.0 1013.9 584.0 1022.6 606.0 1042.5 628.0 1066.1 649.0 1092.4 669.0 1121.6 687.0 1152.2 702.8 1184.0 716.0 1216.0 726.5 1248.0 730.7 1264.0 733.8 1279.0 736.3 1294.0 737.9 1308.0 738.9 1330.0 737.7 1351.0 734.4 1371.0 729.0 1389.0 721.3 1406.0 711.8 1421.0 699.8 1435.0 686.5 1447.0 670.8 1458.0 652.5 1468.0 631.3 1477.0 609.0 1484.3 583.0 1490.8 555.0 1495.9 526.0 1499.6 495.0 1502.0Z" fill="#ef711a"/>
<path d="M487.0 1501.0 459.0 1501.6 431.0 1500.9 405.0 1498.9 381.0 1495.7 360.0 1491.5 341.0 1486.0 324.0 1479.3 309.0 1471.2 296.2 1462.0 285.7 1452.0 276.3 1440.0 268.8 1427.0 262.4 1412.0 257.4 1395.0 253.7 1376.0 251.4 1355.0 250.5 1324.0 252.2 1290.0 256.3 1255.0 262.8 1219.0 271.3 1184.0 281.6 1151.0 293.5 1120.0 307.2 1091.0 321.7 1066.0 337.0 1044.5 353.1 1026.0 362.0 1017.3 371.0 1009.7 380.0 1002.9 390.0 996.5 399.0 991.5 409.0 987.0 419.0 983.3 429.0 980.5 439.0 978.6 450.0 977.3 461.0 977.0 472.0 977.5 483.0 978.9 494.0 981.1 505.0 984.1 517.0 988.4 529.0 993.5 540.0 999.1 551.8 1006.0 563.0 1013.3 574.8 1022.0 585.9 1031.0 608.0 1051.6 629.0 1074.6 650.0 1101.5 669.1 1130.0 686.8 1161.0 701.8 1192.0 714.5 1224.0 724.2 1255.0 730.8 1285.0 732.8 1299.0 734.2 1313.0 734.7 1335.0 733.1 1355.0 729.5 1374.0 723.6 1392.0 715.8 1408.0 705.8 1423.0 694.2 1436.0 680.3 1448.0 663.9 1459.0 645.0 1468.8 624.0 1477.3 601.0 1484.5 575.0 1490.7 547.0 1495.5 517.1 1499.0 487.0 1501.0Z" fill="#ef731a"/>
<path d="M474.0 1500.0 446.0 1500.0 420.0 1498.8 395.0 1496.2 373.0 1492.6 353.0 1487.8 335.0 1481.8 319.0 1474.5 305.1 1466.0 293.0 1456.1 282.9 1445.0 274.2 1432.0 267.3 1418.0 261.6 1402.0 257.4 1384.0 254.5 1364.0 253.0 1343.0 253.1 1312.0 255.7 1278.0 260.7 1243.0 267.6 1209.0 276.4 1176.0 287.0 1144.6 299.3 1115.0 313.0 1087.9 327.1 1065.0 343.0 1044.0 351.0 1034.9 359.9 1026.0 377.0 1011.6 386.0 1005.4 396.0 999.6 405.0 995.1 415.0 991.1 425.0 987.9 435.0 985.6 445.0 984.1 455.0 983.4 466.0 983.4 477.0 984.4 488.0 986.1 500.0 989.0 511.0 992.5 522.0 996.8 534.0 1002.5 545.0 1008.4 557.0 1015.9 568.0 1023.6 590.0 1041.4 611.3 1062.0 632.0 1085.6 652.0 1112.1 671.0 1141.5 687.7 1172.0 702.0 1203.0 713.6 1234.0 722.2 1264.0 727.9 1293.0 729.6 1307.0 730.5 1321.0 730.3 1342.0 727.9 1362.0 723.6 1380.0 717.2 1397.0 708.4 1413.0 698.0 1426.9 685.1 1440.0 671.2 1451.0 654.0 1461.6 634.3 1471.0 612.6 1479.0 589.0 1485.7 563.0 1491.3 534.0 1495.7 504.0 1498.6 474.0 1500.0Z" fill="#ef7419"/>
<path d="M489.0 1498.0 461.0 1498.7 434.0 1498.1 408.0 1496.2 385.0 1493.2 364.0 1488.9 345.0 1483.5 328.6 1477.0 314.0 1469.3 302.0 1460.8 291.0 1450.7 281.5 1439.0 273.7 1426.0 267.1 1411.0 262.2 1395.0 258.3 1376.0 256.0 1356.0 255.0 1326.0 256.5 1294.0 260.3 1260.0 266.6 1225.0 274.9 1191.0 285.0 1158.8 297.0 1128.0 310.0 1100.9 324.0 1076.9 339.0 1055.8 355.0 1037.5 372.0 1022.0 381.0 1015.3 390.0 1009.4 399.0 1004.4 409.0 999.8 419.0 996.1 429.0 993.2 439.0 991.2 449.0 990.0 459.0 989.6 470.0 990.0 481.0 991.2 492.0 993.3 503.0 996.2 514.0 1000.0 525.0 1004.6 536.0 1009.9 558.0 1023.1 580.0 1039.6 601.0 1058.6 622.0 1081.0 642.0 1106.0 661.0 1133.6 678.3 1163.0 693.1 1193.0 705.8 1224.0 715.4 1254.0 722.1 1283.0 724.3 1297.0 725.8 1311.0 726.5 1333.0 725.1 1353.0 721.6 1372.0 716.3 1389.0 708.8 1405.0 699.1 1420.0 687.8 1433.0 674.3 1445.0 658.4 1456.0 641.0 1465.4 620.6 1474.0 599.0 1481.1 575.0 1487.1 548.0 1492.1 519.0 1495.8 489.0 1498.0Z" fill="#ef7519"/>
<path d="M477.0 1497.0 450.0 1497.2 424.0 1496.1 400.0 1493.7 377.0 1490.0 357.0 1485.3 339.0 1479.3 323.1 1472.0 310.0 1464.0 298.7 1455.0 288.3 1444.0 279.9 1432.0 272.6 1418.0 266.6 1402.0 262.3 1385.0 259.3 1366.0 257.6 1345.0 257.5 1315.0 259.8 1283.0 264.3 1250.0 271.0 1216.9 279.8 1184.0 290.0 1153.6 302.0 1124.7 315.1 1099.0 329.0 1076.4 344.3 1056.0 361.0 1038.2 378.0 1023.9 387.0 1017.7 396.0 1012.3 405.0 1007.8 415.0 1003.7 424.0 1000.8 434.0 998.4 444.0 996.8 454.0 995.9 464.0 995.9 475.0 996.7 486.0 998.3 497.0 1000.8 508.0 1004.1 519.0 1008.3 530.0 1013.3 541.0 1019.1 563.0 1033.1 584.0 1049.7 605.0 1069.5 625.2 1092.0 645.0 1117.7 663.0 1145.0 679.3 1174.0 693.4 1204.0 705.0 1234.0 713.8 1264.0 719.5 1292.0 721.3 1306.0 722.3 1319.0 722.2 1340.0 720.2 1359.0 716.2 1377.0 710.0 1394.0 702.2 1409.0 692.2 1423.0 680.0 1436.0 666.0 1447.5 649.7 1458.0 631.7 1467.0 611.4 1475.0 588.0 1482.1 563.0 1487.8 536.0 1492.2 507.0 1495.3 477.0 1497.0Z" fill="#f07719"/>
<path d="M489.0 1495.0 462.0 1495.8 436.0 1495.2 411.0 1493.4 388.0 1490.4 367.0 1486.1 349.0 1480.9 332.0 1474.1 318.0 1466.6 305.8 1458.0 295.1 1448.0 286.0 1436.9 278.0 1423.7 271.5 1409.0 266.6 1393.0 262.9 1375.0 260.5 1355.0 259.6 1326.0 261.0 1295.0 264.9 1262.0 270.9 1229.0 279.0 1196.4 288.6 1166.0 300.0 1137.1 313.0 1110.2 326.6 1087.0 341.0 1066.9 357.0 1048.7 374.0 1033.4 383.0 1026.7 392.0 1021.0 401.0 1016.0 410.0 1011.9 419.0 1008.6 429.0 1005.7 439.0 1003.7 449.0 1002.4 459.0 1002.0 470.0 1002.4 480.0 1003.5 491.0 1005.6 501.0 1008.2 512.0 1011.8 523.0 1016.3 534.0 1021.6 545.0 1027.8 556.0 1034.8 577.0 1050.4 597.6 1069.0 617.4 1090.0 637.0 1114.3 655.4 1141.0 671.9 1169.0 686.3 1198.0 698.2 1227.0 707.5 1256.0 714.0 1284.0 717.7 1311.0 718.4 1332.0 717.1 1352.0 713.9 1370.0 708.7 1387.0 701.3 1403.0 692.4 1417.0 681.5 1430.0 668.3 1442.0 652.8 1453.0 636.0 1462.3 616.0 1471.0 595.0 1478.1 571.0 1484.3 545.0 1489.2 517.0 1492.9 489.0 1495.0Z" fill="#f07818"/>
<path d="M476.0 1494.0 450.0 1494.2 424.1 1493.0 401.0 1490.7 379.1 1487.0 360.0 1482.3 343.0 1476.6 328.0 1469.8 314.0 1461.3 302.5 1452.0 292.2 1441.0 283.8 1429.0 277.0 1415.9 271.1 1400.0 266.7 1383.0 263.7 1364.0 262.2 1344.0 262.1 1315.0 264.4 1284.0 269.0 1252.0 275.6 1220.0 284.0 1189.1 294.0 1160.0 306.0 1131.7 319.0 1106.7 333.0 1084.5 348.0 1065.1 364.0 1048.4 380.0 1035.2 389.0 1029.1 398.0 1023.9 407.0 1019.5 416.0 1015.8 425.0 1012.9 435.0 1010.5 444.0 1009.1 454.0 1008.3 464.0 1008.2 475.0 1009.0 485.0 1010.5 496.0 1013.0 506.0 1015.9 517.0 1020.0 528.0 1024.9 539.0 1030.7 560.0 1044.0 581.0 1060.4 601.0 1079.2 621.0 1101.4 640.0 1126.0 657.2 1152.0 672.9 1180.0 686.6 1209.0 697.7 1238.0 706.0 1266.0 711.6 1294.0 714.2 1320.0 714.1 1340.0 712.0 1359.0 707.9 1377.0 702.0 1393.0 694.1 1408.0 684.0 1422.0 672.7 1434.0 659.0 1445.4 643.0 1455.7 625.0 1464.8 605.0 1472.7 583.0 1479.4 558.7 1485.0 532.0 1489.4 504.0 1492.5 476.0 1494.0Z" fill="#f07918"/>
<path d="M487.0 1492.0 461.0 1492.7 435.0 1492.1 411.0 1490.2 389.0 1487.1 369.0 1482.9 351.0 1477.5 335.2 1471.0 321.0 1463.2 308.3 1454.0 298.0 1444.0 289.4 1433.0 281.7 1420.0 275.7 1406.0 270.8 1390.0 267.2 1372.0 265.1 1353.0 264.2 1325.0 265.7 1295.0 269.5 1264.0 275.5 1232.0 283.3 1201.0 293.0 1171.3 304.0 1143.9 317.0 1117.6 330.6 1095.0 345.0 1075.4 360.8 1058.0 377.0 1043.8 394.0 1032.3 403.0 1027.5 412.0 1023.5 421.0 1020.3 431.0 1017.5 440.0 1015.8 450.0 1014.6 460.0 1014.2 470.0 1014.6 480.0 1015.8 491.0 1017.9 511.0 1023.9 532.0 1033.2 553.0 1045.6 573.0 1060.3 593.0 1078.1 613.0 1099.1 632.0 1122.6 649.6 1148.0 665.5 1175.0 679.5 1203.0 691.0 1231.0 700.0 1259.0 706.2 1286.0 709.6 1312.0 710.3 1332.0 709.1 1351.0 705.9 1369.0 700.7 1386.0 693.8 1401.0 685.0 1415.0 674.1 1428.0 661.1 1440.0 646.0 1450.7 629.4 1460.0 610.0 1468.5 589.0 1475.6 566.0 1481.6 541.0 1486.4 514.0 1489.9 487.0 1492.0Z" fill="#f07c18"/>
<path d="M473.0 1491.0 448.0 1491.0 424.0 1489.8 402.0 1487.5 381.0 1483.8 362.0 1479.0 345.0 1473.1 330.0 1466.0 317.3 1458.0 306.0 1448.7 296.2 1438.0 287.9 1426.0 281.0 1412.6 275.6 1398.0 271.3 1381.0 268.3 1362.0 266.8 1342.0 266.9 1314.0 269.1 1285.0 273.6 1254.0 280.2 1223.0 288.7 1193.0 298.6 1165.0 310.0 1138.7 323.0 1114.3 336.8 1093.0 351.0 1075.0 367.0 1058.6 383.0 1045.7 400.0 1035.2 409.0 1030.9 418.0 1027.4 436.0 1022.5 445.0 1021.2 455.0 1020.4 465.0 1020.4 475.0 1021.2 485.0 1022.7 496.0 1025.2 516.1 1032.0 537.0 1042.1 558.0 1055.4 578.0 1071.0 598.0 1089.8 617.0 1110.9 635.0 1134.2 652.0 1160.0 667.2 1187.0 680.3 1215.0 690.9 1243.0 698.7 1270.0 703.7 1296.0 706.1 1321.0 705.9 1341.0 703.8 1359.0 699.9 1376.0 694.0 1392.0 686.0 1407.0 676.7 1420.0 665.0 1432.4 651.0 1443.9 635.2 1454.0 617.2 1463.0 598.0 1470.5 576.7 1477.0 553.0 1482.4 527.0 1486.7 500.0 1489.6 473.0 1491.0Z" fill="#f08018"/>
<path d="M483.0 1489.0 458.0 1489.6 434.0 1488.9 411.0 1486.9 390.0 1483.8 371.0 1479.6 353.0 1474.0 338.0 1467.7 324.0 1459.8 312.2 1451.0 302.0 1441.0 293.4 1430.0 285.9 1417.0 279.9 1403.0 275.1 1387.0 271.6 1369.0 269.6 1350.0 269.0 1323.0 270.6 1294.0 274.5 1264.0 280.3 1234.0 288.0 1204.7 297.6 1176.0 308.8 1149.0 321.0 1125.0 334.6 1103.0 348.9 1084.0 364.0 1067.8 380.0 1054.1 397.0 1043.0 414.0 1035.0 423.0 1031.8 432.0 1029.4 441.0 1027.7 451.0 1026.6 461.0 1026.3 471.0 1026.8 481.0 1028.0 491.0 1030.0 511.0 1036.1 531.0 1045.1 551.0 1056.9 571.4 1072.0 591.0 1089.6 610.0 1109.7 628.0 1132.1 645.1 1157.0 660.3 1183.0 673.6 1210.0 684.5 1237.0 693.0 1264.0 698.7 1290.0 701.7 1315.0 702.2 1335.0 700.7 1353.0 697.4 1370.0 692.3 1386.0 685.2 1401.0 676.1 1415.0 665.0 1427.9 652.5 1439.0 638.0 1449.2 621.0 1458.5 602.0 1466.7 582.0 1473.4 560.0 1479.1 535.0 1483.8 510.0 1487.0 483.0 1489.0Z" fill="#f08418"/>
<path d="M490.0 1487.0 465.0 1488.0 441.0 1487.6 418.0 1486.0 397.0 1483.2 378.0 1479.5 360.0 1474.4 344.0 1468.1 330.0 1460.8 318.0 1452.6 307.3 1443.0 298.0 1432.0 290.3 1420.0 283.8 1406.0 278.7 1391.0 274.9 1374.0 272.5 1356.0 271.3 1330.0 272.4 1302.0 275.6 1273.0 281.0 1243.0 288.2 1214.0 297.5 1185.0 308.0 1158.6 320.1 1134.0 333.0 1112.3 347.0 1093.0 362.0 1076.2 378.0 1062.0 395.0 1050.3 412.0 1041.8 421.0 1038.5 430.0 1035.9 448.0 1032.9 457.0 1032.3 467.0 1032.5 477.0 1033.5 487.0 1035.2 497.0 1037.6 507.0 1040.7 527.0 1049.2 547.0 1060.6 566.0 1074.1 585.0 1090.5 604.0 1109.9 622.0 1131.5 639.0 1155.4 654.5 1181.0 667.7 1207.0 679.0 1233.8 687.7 1260.0 693.9 1286.0 697.3 1310.0 698.2 1330.0 697.2 1348.0 694.3 1366.0 689.6 1382.0 683.1 1397.0 674.6 1411.0 664.1 1424.0 652.5 1435.0 639.0 1445.2 623.0 1454.7 605.1 1463.0 585.9 1470.0 564.7 1476.0 541.0 1481.0 516.0 1484.7 490.0 1487.0Z" fill="#f08818"/>
<path d="M477.0 1486.0 453.0 1486.3 430.0 1485.3 408.0 1483.1 388.0 1479.8 369.0 1475.1 353.0 1469.6 338.4 1463.0 325.2 1455.0 313.9 1446.0 304.3 1436.0 296.0 1424.6 289.0 1411.7 283.2 1397.0 278.8 1381.0 275.9 1364.0 274.2 1345.0 273.9 1319.0 275.8 1291.0 279.9 1262.0 285.8 1234.0 293.5 1206.0 303.0 1178.9 314.0 1153.4 326.0 1130.7 339.0 1110.4 353.0 1092.4 368.0 1076.8 383.5 1064.0 400.0 1053.6 417.0 1045.9 426.0 1043.0 435.0 1040.8 453.0 1038.5 462.0 1038.3 472.0 1038.9 482.0 1040.2 492.0 1042.3 511.0 1048.3 531.0 1057.4 551.0 1069.5 570.0 1083.8 589.0 1101.0 607.0 1120.3 624.3 1142.0 640.7 1166.0 655.2 1191.0 667.8 1217.0 678.0 1243.0 685.9 1269.0 691.2 1294.0 693.8 1318.0 694.0 1337.0 692.3 1355.0 688.7 1372.0 683.5 1387.0 676.0 1402.0 667.2 1415.0 656.5 1427.0 643.9 1438.0 629.3 1448.0 612.6 1457.0 594.0 1464.9 574.0 1471.4 551.7 1477.0 528.0 1481.3 503.0 1484.3 477.0 1486.0Z" fill="#f08c18"/>
<path d="M484.0 1484.0 460.0 1484.7 437.0 1484.1 415.0 1482.2 395.0 1479.3 376.0 1475.0 359.8 1470.0 345.0 1463.8 331.0 1456.0 320.0 1448.0 309.5 1438.0 300.7 1427.0 293.5 1415.0 287.3 1401.0 282.6 1386.0 279.1 1369.0 277.0 1351.0 276.2 1326.0 277.6 1299.0 281.0 1271.0 286.6 1242.0 294.0 1214.1 303.0 1187.4 313.6 1162.0 325.4 1139.0 338.0 1118.6 352.0 1100.1 367.0 1084.1 382.0 1071.3 398.0 1060.8 415.0 1052.7 432.0 1047.4 450.0 1044.6 459.0 1044.2 469.0 1044.5 488.0 1047.3 507.0 1052.8 527.0 1061.4 546.0 1072.4 565.0 1086.1 584.0 1102.8 601.6 1121.0 619.0 1142.2 635.0 1165.0 649.9 1190.0 662.4 1215.0 673.0 1241.0 681.0 1266.0 686.4 1290.0 689.5 1314.0 690.1 1333.0 688.8 1351.0 685.6 1368.0 680.9 1383.0 674.0 1397.9 665.7 1411.0 655.7 1423.0 644.0 1434.0 630.4 1444.0 614.9 1453.0 597.5 1461.0 578.0 1468.0 556.1 1474.0 533.0 1478.6 509.0 1482.0 484.0 1484.0Z" fill="#f09018"/>
<path d="M488.0 1482.1 465.0 1482.9 442.0 1482.6 420.0 1481.0 399.0 1478.1 380.0 1474.1 363.2 1469.0 348.4 1463.0 335.0 1455.8 323.0 1447.3 313.0 1438.0 303.9 1427.0 296.5 1415.0 290.5 1402.0 285.6 1387.0 282.0 1371.0 279.7 1353.0 278.7 1328.0 279.8 1302.0 283.0 1275.0 288.3 1247.0 295.2 1220.0 304.0 1193.4 314.5 1168.0 326.1 1145.0 338.3 1125.0 352.0 1106.7 366.0 1091.4 381.4 1078.0 397.0 1067.5 414.0 1059.1 431.0 1053.6 449.0 1050.6 467.0 1050.3 486.0 1052.8 505.0 1058.1 524.0 1066.0 543.0 1076.7 561.9 1090.0 580.0 1105.6 597.2 1123.0 614.8 1144.0 630.5 1166.0 645.0 1189.9 657.4 1214.0 667.9 1239.0 676.0 1263.3 681.9 1288.0 685.2 1311.0 686.1 1330.0 685.1 1348.0 682.2 1365.0 677.8 1380.0 671.3 1395.0 663.4 1408.0 653.9 1420.0 642.6 1431.0 629.7 1441.0 614.9 1450.0 598.0 1458.2 579.0 1465.4 558.0 1471.5 536.0 1476.2 512.0 1479.8 488.0 1482.1Z" fill="#f09117"/>
<path d="M474.0 1481.0 452.0 1481.2 430.0 1480.1 409.0 1477.8 390.0 1474.4 372.0 1469.7 356.1 1464.0 342.0 1457.2 330.0 1449.5 319.7 1441.0 310.0 1430.6 302.0 1419.3 295.5 1407.0 290.1 1393.0 285.8 1377.0 283.0 1360.0 281.5 1342.0 281.4 1318.0 283.4 1292.0 287.3 1265.0 293.2 1238.0 301.0 1211.1 310.0 1186.4 320.5 1163.0 332.0 1142.0 344.5 1123.0 358.0 1106.3 372.0 1092.1 387.0 1080.0 403.0 1070.2 419.0 1063.1 436.0 1058.4 454.0 1056.1 472.0 1056.6 491.0 1059.9 510.0 1065.9 529.0 1074.6 548.0 1086.1 566.0 1099.7 584.0 1116.0 601.0 1134.2 617.5 1155.0 632.5 1177.0 646.0 1200.5 657.8 1225.0 667.5 1250.0 674.7 1274.0 679.4 1297.0 681.8 1320.0 681.8 1338.0 680.0 1355.0 676.5 1371.0 671.2 1386.0 664.2 1400.0 655.2 1413.0 645.0 1424.4 632.8 1435.0 619.0 1444.5 603.3 1453.0 585.0 1460.8 566.0 1467.1 545.0 1472.4 522.0 1476.6 498.0 1479.5 474.0 1481.0Z" fill="#f19217"/>
<path d="M479.0 1479.0 457.0 1479.5 435.0 1478.7 414.0 1476.7 395.0 1473.5 378.0 1469.4 361.9 1464.0 348.0 1457.7 334.9 1450.0 323.5 1441.0 314.0 1431.3 306.0 1420.6 299.0 1408.2 293.6 1395.0 289.2 1380.0 286.1 1364.0 284.3 1346.0 283.8 1322.0 285.4 1297.0 289.0 1270.8 294.6 1244.0 301.9 1218.0 310.4 1194.0 320.9 1170.0 332.1 1149.0 344.0 1130.5 357.0 1113.9 371.0 1099.3 386.0 1086.9 402.0 1076.8 418.0 1069.4 435.0 1064.5 452.0 1062.1 470.0 1062.3 488.0 1065.1 506.0 1070.3 525.0 1078.6 543.0 1089.0 561.0 1102.0 579.0 1117.8 596.0 1135.4 612.0 1155.0 627.4 1177.0 641.0 1200.0 652.9 1224.0 662.5 1248.0 670.0 1272.0 675.0 1295.0 677.5 1317.0 677.8 1335.0 676.4 1352.0 673.2 1368.0 668.3 1383.0 662.0 1396.2 653.8 1409.0 643.6 1421.0 632.0 1431.7 619.0 1441.1 603.5 1450.0 586.0 1457.9 568.0 1464.2 547.0 1469.9 526.0 1474.1 503.0 1477.2 479.0 1479.0Z" fill="#f19316"/>
<path d="M483.0 1477.0 461.0 1477.7 440.0 1477.2 419.0 1475.4 400.0 1472.5 383.0 1468.6 367.0 1463.6 352.0 1457.2 339.4 1450.0 328.0 1441.5 318.1 1432.0 310.0 1421.7 303.0 1410.0 297.1 1397.0 292.7 1383.0 289.2 1367.0 287.2 1350.0 286.3 1327.0 287.6 1302.0 290.7 1277.0 295.8 1251.0 302.7 1225.0 311.0 1201.0 321.0 1177.5 332.2 1156.0 344.0 1137.3 357.0 1120.4 371.0 1105.6 385.0 1093.8 400.0 1083.9 416.0 1076.2 433.0 1070.8 450.0 1068.1 468.0 1068.0 486.0 1070.5 504.0 1075.6 522.0 1083.1 540.0 1093.2 558.0 1106.0 575.0 1120.5 591.2 1137.0 607.2 1156.0 622.3 1177.0 635.7 1199.0 647.4 1222.0 657.5 1246.0 664.9 1269.0 670.3 1292.0 673.2 1314.0 673.8 1331.0 672.8 1348.0 670.0 1364.0 665.6 1379.0 659.4 1393.0 651.4 1406.0 641.7 1418.0 631.0 1428.4 618.4 1438.0 603.5 1447.0 587.0 1454.8 569.0 1461.5 549.0 1467.3 528.0 1471.7 506.0 1475.0 483.0 1477.0Z" fill="#f19416"/>
<path d="M485.0 1475.0 463.0 1475.8 442.0 1475.4 422.0 1473.8 403.0 1471.1 385.0 1467.0 369.0 1462.0 354.9 1456.0 342.4 1449.0 331.4 1441.0 321.8 1432.0 313.5 1422.0 306.1 1410.0 300.1 1397.0 295.4 1383.0 292.1 1368.0 289.9 1351.0 288.9 1328.0 290.0 1304.4 293.0 1279.6 297.9 1254.0 304.6 1229.0 313.0 1204.5 322.6 1182.0 333.5 1161.0 345.0 1142.8 358.0 1125.8 372.0 1111.0 386.0 1099.2 401.0 1089.3 416.0 1082.1 432.0 1076.9 449.0 1074.0 466.0 1073.7 484.0 1076.0 501.0 1080.5 519.0 1087.7 537.0 1097.5 554.0 1109.2 571.0 1123.4 588.0 1140.3 603.9 1159.0 618.4 1179.0 631.9 1201.0 643.3 1223.0 653.0 1245.8 660.4 1268.0 665.8 1290.0 669.0 1312.0 669.8 1329.0 668.9 1346.0 666.3 1362.0 662.1 1377.0 656.1 1391.0 649.0 1403.0 639.8 1415.0 628.8 1426.0 616.0 1436.0 602.0 1444.7 586.0 1452.5 569.0 1459.1 549.2 1465.0 529.0 1469.5 507.0 1472.9 485.0 1475.0Z" fill="#f29615"/>
<path d="M486.0 1473.1 465.0 1473.9 445.0 1473.7 425.0 1472.2 406.0 1469.6 389.0 1465.9 372.8 1461.0 358.3 1455.0 345.5 1448.0 334.3 1440.0 324.6 1431.0 316.2 1421.0 309.0 1409.6 303.0 1397.0 298.3 1383.0 294.8 1368.0 292.6 1352.0 291.6 1330.0 292.5 1306.0 295.4 1282.0 300.2 1257.0 306.5 1233.0 314.6 1209.0 324.0 1186.9 335.0 1165.7 346.8 1147.0 359.0 1131.2 372.0 1117.3 386.4 1105.0 401.0 1095.3 417.0 1087.6 433.0 1082.5 449.0 1079.9 466.0 1079.5 483.0 1081.6 500.0 1086.0 518.0 1093.2 535.0 1102.4 552.1 1114.0 569.0 1128.0 585.0 1143.9 600.6 1162.0 615.2 1182.0 628.2 1203.0 639.6 1225.0 649.0 1247.0 656.4 1269.0 661.8 1291.0 664.8 1312.0 665.7 1329.0 664.8 1346.0 662.4 1361.0 658.2 1376.0 652.7 1389.0 645.2 1402.0 636.8 1413.0 626.1 1424.0 613.6 1434.0 600.0 1442.6 585.0 1450.1 567.8 1457.0 549.0 1462.8 529.0 1467.4 508.0 1470.8 486.0 1473.1Z" fill="#f29715"/>
<path d="M467.0 1472.0 447.0 1471.8 427.0 1470.5 409.0 1468.0 392.0 1464.5 376.8 1460.0 362.0 1454.1 349.0 1447.2 338.0 1439.6 328.4 1431.0 319.7 1421.0 312.4 1410.0 306.1 1397.0 301.5 1384.0 297.8 1369.0 295.5 1353.0 294.4 1336.0 294.7 1314.0 297.0 1290.0 301.0 1266.5 306.7 1243.0 314.0 1219.8 323.0 1197.2 333.0 1176.7 344.0 1158.1 356.0 1141.4 368.6 1127.0 382.0 1114.6 396.0 1104.4 411.0 1096.1 426.0 1090.3 441.0 1086.7 457.0 1085.2 474.0 1086.0 491.0 1089.3 509.0 1095.2 526.0 1103.3 543.0 1113.7 560.0 1126.6 576.0 1141.3 591.4 1158.0 606.0 1176.5 619.7 1197.0 631.5 1218.0 641.8 1240.0 650.0 1262.0 656.1 1284.0 659.9 1305.0 661.5 1325.0 661.1 1341.0 659.0 1357.0 655.6 1371.0 650.3 1385.0 643.9 1397.0 635.5 1409.0 625.4 1420.0 613.7 1430.0 600.4 1439.0 585.5 1447.0 568.9 1454.0 550.6 1460.0 531.0 1464.8 510.0 1468.5 489.0 1470.9 467.0 1472.0Z" fill="#f39814"/>
<path d="M468.0 1470.0 448.0 1469.9 429.0 1468.7 411.0 1466.3 394.0 1462.8 379.0 1458.4 365.0 1452.8 352.0 1446.1 341.0 1438.6 331.3 1430.0 322.5 1420.0 315.1 1409.0 309.1 1397.0 304.4 1384.0 300.6 1369.0 298.3 1354.0 297.1 1337.0 297.3 1316.0 299.4 1293.0 303.2 1270.0 308.9 1246.0 316.0 1223.6 324.5 1202.0 334.0 1182.4 345.0 1163.7 356.9 1147.0 369.0 1133.0 382.0 1120.9 396.0 1110.5 410.0 1102.6 425.0 1096.5 440.0 1092.7 456.0 1091.1 473.0 1091.7 490.0 1094.9 507.0 1100.4 524.0 1108.2 541.0 1118.5 557.0 1130.5 573.0 1145.0 588.0 1161.0 602.3 1179.0 615.8 1199.0 627.8 1220.0 637.7 1241.0 645.9 1263.0 651.8 1284.0 655.6 1304.0 657.3 1324.0 657.0 1340.0 655.2 1355.0 651.9 1369.0 646.8 1383.0 640.6 1395.0 632.4 1407.0 622.6 1418.0 611.1 1428.0 598.1 1437.0 583.4 1445.0 567.2 1452.0 549.2 1458.0 530.0 1462.8 510.0 1466.4 489.0 1468.9 468.0 1470.0Z" fill="#f39913"/>
<path d="M468.0 1468.0 449.0 1467.9 430.0 1466.7 412.0 1464.3 396.0 1461.0 381.0 1456.6 366.8 1451.0 354.0 1444.2 343.0 1436.7 333.2 1428.0 325.0 1418.6 317.9 1408.0 311.8 1396.0 307.1 1383.0 303.5 1369.0 301.0 1353.0 299.9 1337.0 300.1 1316.0 302.1 1294.0 306.0 1271.0 311.2 1249.0 318.1 1227.0 326.4 1206.0 336.0 1186.3 347.0 1167.7 358.0 1152.3 370.4 1138.0 383.0 1126.3 397.0 1115.9 411.0 1108.0 426.0 1102.1 441.0 1098.4 456.0 1096.9 472.0 1097.5 489.0 1100.5 506.0 1105.9 522.0 1113.2 538.5 1123.0 554.7 1135.0 570.0 1148.7 585.0 1164.6 599.0 1182.0 612.0 1201.1 623.5 1221.0 633.5 1242.0 641.5 1263.0 647.6 1284.0 651.4 1304.0 653.1 1324.0 652.8 1340.0 651.0 1355.0 647.7 1369.0 642.4 1383.0 636.0 1395.2 627.7 1407.0 618.0 1417.6 607.2 1427.0 594.0 1436.0 580.0 1443.6 565.0 1450.1 547.6 1456.0 529.0 1460.8 509.0 1464.5 489.0 1466.8 468.0 1468.0Z" fill="#f39a13"/>
<path d="M467.0 1466.0 448.0 1465.9 430.0 1464.6 412.0 1462.1 396.0 1458.7 381.0 1454.1 368.0 1448.8 356.0 1442.4 345.0 1434.8 335.2 1426.0 327.0 1416.4 320.1 1406.0 314.2 1394.0 309.5 1381.0 306.0 1367.0 303.8 1352.0 302.7 1336.0 303.0 1315.1 305.0 1294.0 308.7 1272.0 314.1 1250.0 321.0 1228.5 329.0 1208.6 338.7 1189.0 349.0 1171.7 360.0 1156.5 372.0 1142.8 385.0 1130.8 398.0 1121.3 412.0 1113.5 427.0 1107.6 442.0 1104.1 457.0 1102.7 473.0 1103.4 489.0 1106.3 506.0 1111.8 522.0 1119.3 538.0 1128.9 554.0 1140.9 569.0 1154.4 583.6 1170.0 597.1 1187.0 610.0 1206.1 621.3 1226.0 630.6 1246.0 638.1 1266.0 643.7 1286.0 647.4 1306.0 649.0 1325.0 648.6 1340.0 646.8 1355.0 643.4 1369.0 638.5 1382.0 632.2 1394.0 624.0 1405.7 614.7 1416.0 604.0 1425.3 591.5 1434.0 577.0 1442.0 562.0 1448.5 545.0 1454.3 526.6 1459.0 507.0 1462.6 487.0 1464.9 467.0 1466.0Z" fill="#f49b12"/>
<path d="M484.0 1463.0 465.0 1463.9 447.0 1463.7 429.0 1462.4 412.0 1459.9 396.0 1456.3 381.0 1451.5 368.0 1446.0 356.0 1439.2 346.0 1432.0 336.4 1423.0 328.9 1414.0 321.9 1403.0 316.1 1391.0 312.0 1379.0 308.6 1365.0 306.5 1350.0 305.5 1331.0 306.2 1310.0 308.8 1288.0 313.1 1266.0 319.0 1244.5 326.2 1224.0 335.0 1204.0 345.0 1185.4 355.7 1169.0 367.0 1154.8 379.0 1142.4 392.0 1131.6 406.0 1122.6 420.0 1116.0 434.0 1111.5 449.0 1109.0 464.0 1108.5 480.0 1110.2 496.0 1114.2 512.0 1120.3 528.0 1128.7 543.0 1138.7 558.0 1150.7 572.8 1165.0 586.8 1181.0 599.4 1198.0 611.0 1216.3 621.4 1236.0 630.0 1255.8 636.5 1275.0 641.2 1294.0 644.0 1313.0 644.8 1328.0 644.2 1343.0 642.1 1357.0 638.4 1371.0 633.1 1384.0 626.3 1396.0 618.1 1407.0 609.0 1416.6 597.7 1426.0 585.7 1434.0 572.0 1441.3 556.0 1448.0 540.0 1453.2 522.0 1457.6 503.0 1461.0 484.0 1463.0Z" fill="#f49d12"/>
<path d="M482.0 1461.0 463.0 1461.8 445.0 1461.5 427.7 1460.0 411.0 1457.4 396.0 1453.8 382.0 1449.2 369.0 1443.5 357.6 1437.0 347.0 1429.1 338.5 1421.0 331.0 1411.8 324.2 1401.0 319.0 1390.0 314.5 1377.0 311.3 1363.0 309.2 1348.0 308.4 1329.0 309.2 1309.0 311.8 1288.0 316.1 1267.0 321.9 1246.0 329.1 1226.0 337.5 1207.0 347.3 1189.0 357.9 1173.0 369.0 1159.1 381.0 1146.9 394.0 1136.3 407.0 1128.1 421.0 1121.5 435.0 1117.2 450.0 1114.7 465.0 1114.4 481.0 1116.3 497.0 1120.4 512.0 1126.4 527.0 1134.3 542.0 1144.2 557.0 1156.4 571.0 1170.0 584.1 1185.0 597.0 1202.3 608.1 1220.0 618.0 1238.8 626.3 1258.0 632.6 1277.0 637.2 1296.0 639.8 1314.0 640.5 1329.0 639.8 1344.0 637.6 1358.0 634.0 1371.0 629.0 1383.2 622.3 1395.0 614.1 1406.0 605.0 1415.5 593.6 1425.0 581.4 1433.0 568.0 1440.0 553.0 1446.3 536.0 1451.8 519.0 1455.9 500.9 1459.0 482.0 1461.0Z" fill="#f49e12"/>
<path d="M479.0 1459.0 461.0 1459.6 444.0 1459.2 427.0 1457.6 411.0 1455.0 396.0 1451.3 382.0 1446.5 369.9 1441.0 358.2 1434.0 348.0 1426.1 339.9 1418.0 332.1 1408.0 326.1 1398.0 321.0 1386.8 316.8 1374.0 313.9 1361.0 312.0 1346.0 311.4 1327.0 312.3 1308.0 315.0 1287.6 319.3 1267.0 325.0 1247.0 332.0 1227.8 340.6 1209.0 350.0 1192.0 360.1 1177.0 371.5 1163.0 383.0 1151.5 396.0 1141.1 409.0 1133.0 423.0 1126.7 437.0 1122.6 451.0 1120.5 466.0 1120.3 481.0 1122.2 496.0 1126.0 511.0 1131.9 526.0 1139.8 541.0 1149.8 555.0 1161.2 569.0 1174.8 582.0 1189.7 594.0 1206.0 605.0 1223.5 614.7 1242.0 622.8 1261.0 629.0 1279.9 633.2 1298.0 635.7 1316.0 636.2 1331.0 635.4 1345.0 633.0 1359.0 629.2 1372.0 624.0 1384.0 617.6 1395.0 610.0 1405.0 600.4 1415.0 589.3 1424.0 577.0 1432.0 563.4 1439.0 548.7 1445.0 533.0 1450.0 516.0 1454.1 498.0 1457.1 479.0 1459.0Z" fill="#f4a011"/>
<path d="M474.0 1457.0 457.0 1457.4 440.0 1456.6 424.0 1454.9 408.0 1451.9 393.8 1448.0 380.4 1443.0 368.3 1437.0 358.0 1430.3 349.0 1423.0 340.5 1414.0 333.2 1404.0 327.6 1394.0 322.9 1383.0 319.0 1370.0 316.2 1356.0 314.8 1342.0 314.5 1323.0 315.8 1304.0 318.8 1284.0 323.1 1265.0 329.0 1245.5 336.1 1227.0 344.7 1209.0 354.0 1193.1 364.0 1178.8 375.0 1165.8 387.0 1154.4 399.0 1145.2 412.0 1137.5 425.0 1132.0 439.0 1128.1 453.0 1126.2 467.0 1126.2 482.0 1128.3 497.0 1132.3 512.0 1138.4 527.0 1146.6 541.0 1156.2 555.0 1167.9 568.2 1181.0 581.0 1196.0 592.6 1212.0 603.0 1229.0 612.2 1247.0 620.0 1266.0 625.6 1284.0 629.6 1302.0 631.6 1319.0 631.9 1333.0 630.8 1347.0 628.3 1360.0 624.3 1373.0 618.9 1385.0 612.1 1396.0 604.1 1406.0 595.0 1415.1 584.0 1423.7 572.0 1431.3 558.6 1438.0 543.4 1444.0 527.0 1449.0 510.0 1452.8 492.0 1455.5 474.0 1457.0Z" fill="#f4a211"/>
<path d="M465.0 1455.0 448.0 1454.8 432.0 1453.5 417.0 1451.3 402.8 1448.0 389.0 1443.6 377.0 1438.4 366.0 1432.2 356.0 1425.0 347.3 1417.0 339.8 1408.0 333.3 1398.0 327.9 1387.0 323.6 1375.0 320.4 1362.0 318.4 1348.0 317.5 1334.0 317.9 1316.0 319.8 1297.0 323.3 1278.0 328.2 1259.0 334.3 1241.0 342.0 1222.8 350.8 1206.0 360.0 1191.4 370.0 1178.2 381.0 1166.3 392.0 1156.6 404.3 1148.0 417.0 1141.2 430.0 1136.3 443.0 1133.2 457.0 1131.9 471.0 1132.4 486.0 1135.1 501.0 1139.8 515.0 1146.0 530.0 1154.8 543.9 1165.0 557.0 1176.5 570.0 1190.1 582.0 1204.9 593.0 1221.0 603.0 1238.3 611.4 1256.0 618.1 1274.0 623.1 1292.0 626.2 1309.0 627.5 1326.0 627.1 1340.0 625.4 1353.0 622.2 1366.0 617.7 1378.0 611.9 1389.0 604.2 1400.0 596.0 1409.1 586.0 1418.0 574.6 1426.0 562.2 1433.0 548.0 1439.3 533.0 1444.6 517.0 1448.8 500.0 1452.0 483.0 1454.0 465.0 1455.0Z" fill="#f5a311"/>
<path d="M478.0 1452.0 461.0 1452.7 445.0 1452.2 430.0 1450.8 415.0 1448.3 401.0 1444.8 388.0 1440.3 376.6 1435.0 366.0 1428.7 356.0 1421.0 348.0 1413.0 340.9 1404.0 335.0 1394.4 330.0 1383.6 326.0 1371.7 323.1 1359.0 321.3 1345.0 320.6 1328.0 321.5 1310.0 324.0 1291.0 328.0 1272.4 333.4 1254.0 340.1 1236.0 348.0 1219.1 357.0 1203.4 367.0 1189.0 377.0 1177.1 388.0 1166.4 400.0 1157.0 412.0 1149.7 425.0 1144.0 438.0 1140.2 451.0 1138.1 465.0 1137.9 479.0 1139.5 493.0 1143.0 507.0 1148.3 521.0 1155.5 535.0 1164.7 548.0 1175.1 561.0 1187.5 573.0 1201.0 584.2 1216.0 594.4 1232.0 603.0 1248.3 610.2 1265.0 616.0 1282.1 620.1 1299.0 622.5 1316.0 623.1 1330.0 622.3 1344.0 620.1 1357.0 616.6 1369.0 612.0 1380.0 605.8 1391.0 598.3 1401.0 589.7 1410.0 580.0 1418.2 568.3 1426.0 555.2 1433.0 542.0 1438.6 527.0 1443.5 511.0 1447.5 495.0 1450.2 478.0 1452.0Z" fill="#f5a511"/>
<path d="M469.0 1450.0 453.0 1450.1 438.0 1449.2 423.0 1447.2 409.0 1444.2 396.0 1440.3 384.0 1435.4 373.0 1429.6 363.4 1423.0 355.0 1415.7 347.2 1407.0 340.9 1398.0 335.5 1388.0 331.1 1377.0 327.7 1365.0 325.3 1352.0 324.1 1338.0 324.0 1321.0 325.4 1304.0 328.3 1286.0 332.7 1268.0 338.1 1251.0 345.0 1234.0 353.0 1218.1 362.2 1203.0 372.0 1189.8 382.0 1178.6 393.0 1168.7 405.0 1160.0 417.0 1153.4 429.0 1148.6 442.0 1145.3 455.0 1143.8 468.0 1144.0 482.0 1146.1 496.0 1150.1 510.0 1155.9 524.0 1163.7 537.0 1172.7 550.0 1183.6 562.3 1196.0 574.0 1210.0 584.6 1225.0 594.0 1240.7 602.0 1257.0 608.7 1274.0 613.5 1290.0 616.9 1307.0 618.5 1323.0 618.4 1336.0 617.1 1349.0 614.5 1361.0 610.4 1373.0 605.1 1384.0 598.7 1394.0 591.0 1403.3 581.9 1412.0 571.5 1420.0 560.0 1427.0 547.0 1433.4 533.0 1438.7 518.0 1443.1 502.0 1446.5 486.0 1448.8 469.0 1450.0Z" fill="#f5a710"/>
<path d="M477.0 1447.0 461.0 1447.7 446.0 1447.2 431.0 1445.8 417.0 1443.3 404.0 1440.0 392.0 1435.7 380.0 1430.1 370.1 1424.0 361.2 1417.0 353.2 1409.0 346.2 1400.0 340.8 1391.0 336.0 1380.5 332.2 1369.0 329.5 1357.0 327.8 1344.0 327.2 1328.0 328.0 1311.0 330.3 1294.0 334.0 1276.5 339.0 1259.5 345.2 1243.0 352.7 1227.0 361.3 1212.0 370.0 1199.5 380.0 1187.6 391.0 1176.9 402.0 1168.3 414.0 1161.1 426.0 1155.8 438.0 1152.2 451.0 1150.1 464.0 1149.8 477.0 1151.2 491.0 1154.5 504.0 1159.3 517.0 1165.8 530.0 1174.1 543.0 1184.3 555.0 1195.5 566.2 1208.0 577.0 1222.1 586.6 1237.0 595.1 1253.0 602.1 1269.0 607.4 1285.0 611.3 1301.0 613.5 1317.0 614.1 1330.0 613.3 1343.0 611.4 1355.0 608.0 1367.0 603.4 1378.0 597.8 1388.0 590.4 1398.0 582.0 1406.9 572.3 1415.0 562.0 1422.0 550.0 1428.5 537.4 1434.0 523.0 1438.8 508.0 1442.6 493.0 1445.3 477.0 1447.0Z" fill="#f5a810"/>
<path d="M464.0 1445.0 449.0 1444.8 435.0 1443.6 421.0 1441.4 408.0 1438.2 396.0 1434.1 385.0 1429.2 375.0 1423.4 366.0 1416.7 358.0 1409.2 351.0 1400.8 345.0 1391.4 340.0 1381.2 336.0 1370.0 333.3 1359.0 331.4 1346.0 330.6 1333.0 331.0 1317.0 332.7 1301.0 335.8 1284.0 340.1 1268.0 346.0 1251.1 352.6 1236.0 360.1 1222.0 369.0 1208.3 378.0 1196.8 388.0 1186.3 399.0 1177.0 410.0 1169.6 421.0 1164.0 433.0 1159.6 445.0 1156.9 458.0 1155.8 471.0 1156.4 484.0 1158.7 497.0 1162.7 510.0 1168.4 523.0 1175.9 535.7 1185.0 548.0 1195.8 559.0 1207.2 570.0 1220.7 579.8 1235.0 588.4 1250.0 595.4 1265.0 601.1 1280.0 605.5 1296.0 608.2 1311.0 609.4 1326.0 609.1 1339.0 607.5 1351.0 604.5 1363.0 600.4 1374.0 595.2 1384.0 588.3 1394.0 580.3 1403.0 572.0 1410.5 561.8 1418.0 551.0 1424.3 539.0 1430.0 525.0 1435.2 511.0 1439.1 496.0 1442.1 480.0 1444.1 464.0 1445.0Z" fill="#f5aa10"/>
<path d="M471.0 1442.0 457.0 1442.3 443.0 1441.6 429.0 1439.9 416.0 1437.3 404.0 1433.9 393.0 1429.6 382.1 1424.0 373.0 1418.0 364.7 1411.0 357.2 1403.0 351.0 1394.5 345.6 1385.0 341.4 1375.0 338.0 1363.8 335.7 1352.0 334.3 1339.0 334.1 1324.0 335.3 1308.0 337.8 1292.0 341.6 1276.0 346.7 1260.0 353.0 1244.5 360.0 1230.6 368.3 1217.0 377.0 1205.3 386.2 1195.0 396.0 1186.0 407.0 1177.9 418.0 1171.7 430.0 1166.7 442.0 1163.6 454.0 1162.0 466.0 1162.0 479.0 1163.8 492.0 1167.2 504.2 1172.0 517.0 1178.7 529.0 1186.7 541.0 1196.4 552.0 1207.1 562.4 1219.0 572.1 1232.0 580.8 1246.0 588.5 1261.0 594.7 1276.0 599.5 1291.0 602.7 1306.0 604.5 1321.0 604.7 1334.0 603.6 1346.0 601.4 1357.0 597.9 1368.0 593.4 1378.0 587.4 1388.0 580.4 1397.0 572.5 1405.0 562.6 1413.0 552.0 1419.8 540.0 1426.0 528.0 1430.9 515.0 1435.0 501.0 1438.3 486.0 1440.7 471.0 1442.0Z" fill="#f5ac10"/>
<path d="M474.0 1439.0 460.0 1439.5 446.0 1439.0 433.0 1437.6 420.0 1435.2 408.0 1431.9 397.0 1427.8 387.0 1423.0 377.0 1416.6 368.8 1410.0 361.1 1402.0 355.0 1394.0 349.7 1385.0 345.3 1375.0 342.0 1364.7 339.5 1353.0 338.0 1341.0 337.6 1326.0 338.6 1311.0 340.9 1295.0 344.4 1280.0 349.0 1265.0 355.0 1249.9 362.0 1235.7 370.0 1222.5 379.0 1210.3 388.0 1200.2 398.0 1191.1 408.0 1183.8 419.0 1177.6 430.0 1173.0 441.0 1170.0 453.0 1168.3 465.0 1168.1 477.0 1169.6 490.0 1172.8 502.0 1177.4 514.0 1183.5 526.0 1191.3 537.0 1200.0 548.0 1210.4 558.4 1222.0 568.0 1234.8 576.3 1248.0 583.7 1262.0 590.0 1277.0 594.5 1291.0 597.7 1305.0 599.6 1319.0 600.0 1331.0 599.2 1343.0 597.3 1354.0 594.1 1365.0 589.8 1375.0 584.1 1385.0 577.4 1394.0 570.0 1401.8 561.6 1409.0 551.4 1416.0 540.5 1422.0 529.0 1427.0 516.0 1431.5 502.4 1435.0 488.0 1437.5 474.0 1439.0Z" fill="#f5ae10"/>
<path d="M474.0 1436.1 460.0 1436.6 447.0 1436.1 434.0 1434.8 422.0 1432.5 410.0 1429.3 399.0 1425.1 389.0 1420.2 380.0 1414.5 372.0 1408.0 365.0 1400.9 358.9 1393.0 353.5 1384.0 349.0 1374.1 345.7 1364.0 343.2 1353.0 341.8 1342.0 341.3 1328.0 342.1 1313.0 344.2 1298.0 347.5 1283.0 352.0 1268.4 357.7 1254.0 364.0 1241.0 371.8 1228.0 380.0 1216.7 389.0 1206.4 398.0 1198.0 408.0 1190.5 418.0 1184.5 429.0 1179.7 440.0 1176.5 452.0 1174.6 463.0 1174.3 475.0 1175.5 487.0 1178.2 499.0 1182.5 511.0 1188.4 522.0 1195.3 533.3 1204.0 544.2 1214.0 554.2 1225.0 563.4 1237.0 571.7 1250.0 579.0 1263.6 584.8 1277.0 589.5 1291.0 592.8 1305.0 594.7 1319.0 595.1 1331.0 594.4 1342.0 592.5 1353.0 589.7 1363.0 585.6 1373.0 580.6 1382.0 574.2 1391.0 566.9 1399.0 559.0 1406.0 549.1 1413.0 538.5 1419.0 527.0 1424.2 515.0 1428.4 501.6 1432.0 488.0 1434.5 474.0 1436.1Z" fill="#f5af10"/>
<path d="M473.0 1433.1 460.0 1433.5 447.0 1433.1 434.0 1431.6 422.0 1429.3 410.6 1426.0 400.3 1422.0 390.5 1417.0 382.0 1411.4 374.3 1405.0 367.6 1398.0 361.5 1390.0 356.3 1381.0 352.3 1372.0 349.1 1362.0 346.8 1351.0 345.5 1340.0 345.1 1326.0 346.0 1312.4 348.1 1298.0 351.4 1284.0 355.8 1270.0 361.0 1256.9 367.4 1244.0 375.0 1231.5 382.8 1221.0 391.0 1211.7 400.0 1203.4 410.0 1195.9 420.0 1190.1 431.0 1185.5 442.0 1182.4 453.0 1180.8 464.0 1180.7 476.0 1182.0 488.0 1185.0 499.0 1189.1 510.0 1194.6 521.0 1201.6 532.0 1210.1 542.0 1219.5 552.0 1230.6 560.6 1242.0 568.2 1254.0 575.1 1267.0 580.6 1280.0 585.0 1293.4 588.1 1307.0 589.8 1320.0 590.1 1331.0 589.4 1342.0 587.5 1353.0 584.5 1363.0 580.3 1373.0 575.1 1382.0 569.2 1390.0 562.0 1397.8 554.0 1404.7 545.0 1411.0 534.4 1417.0 523.1 1422.0 511.6 1426.0 499.0 1429.3 486.0 1431.7 473.0 1433.1Z" fill="#f5b110"/>
<path d="M470.0 1430.1 457.0 1430.3 445.0 1429.7 433.0 1428.2 422.0 1425.8 411.0 1422.5 401.0 1418.4 392.0 1413.6 383.8 1408.0 376.7 1402.0 370.0 1394.7 364.3 1387.0 359.3 1378.0 355.5 1369.0 352.5 1359.0 350.5 1349.0 349.3 1338.0 349.1 1325.0 350.0 1312.0 352.2 1298.0 355.6 1284.0 360.0 1270.7 365.3 1258.0 372.0 1245.1 379.0 1234.1 386.8 1224.0 395.0 1215.1 404.0 1207.2 413.0 1200.8 423.0 1195.3 433.0 1191.3 443.0 1188.7 454.0 1187.2 465.0 1187.1 476.0 1188.5 487.0 1191.2 498.0 1195.3 509.0 1200.9 520.0 1207.9 530.0 1215.8 539.7 1225.0 548.7 1235.0 557.0 1246.1 564.5 1258.0 571.3 1271.0 576.6 1284.0 580.7 1297.0 583.5 1310.0 584.8 1322.0 585.0 1333.0 584.1 1343.0 582.3 1353.0 579.2 1363.0 575.3 1372.0 570.1 1381.0 564.1 1389.0 557.0 1396.5 549.0 1403.3 540.0 1409.4 529.9 1415.0 519.0 1419.7 507.0 1423.8 495.0 1426.7 483.0 1428.8 470.0 1430.1Z" fill="#f5b310"/>
<path d="M462.0 1427.0 450.0 1426.7 439.0 1425.6 428.0 1423.7 417.0 1420.7 407.0 1417.0 398.6 1413.0 390.4 1408.0 382.7 1402.0 376.0 1395.4 370.0 1388.0 365.0 1380.0 361.0 1371.7 357.6 1362.0 355.2 1352.0 353.7 1342.0 353.1 1331.0 353.5 1319.0 355.0 1306.0 357.6 1293.0 361.3 1280.0 366.0 1267.5 371.9 1255.0 378.3 1244.0 385.3 1234.0 393.0 1224.9 401.0 1217.0 410.0 1209.9 419.0 1204.2 429.0 1199.5 439.0 1196.2 449.0 1194.2 459.0 1193.5 470.0 1194.2 481.0 1196.2 492.0 1199.6 502.0 1204.1 512.0 1209.7 522.3 1217.0 532.0 1225.3 541.0 1234.6 549.6 1245.0 557.0 1255.8 563.4 1267.0 569.1 1279.0 573.8 1292.0 577.0 1304.0 579.0 1316.0 579.8 1328.0 579.4 1338.0 578.0 1348.0 575.5 1358.0 572.1 1367.0 567.4 1376.0 562.0 1384.0 556.0 1391.0 548.6 1398.0 540.0 1404.5 530.9 1410.0 520.6 1415.0 510.1 1419.0 499.0 1422.2 487.0 1424.7 475.0 1426.3 462.0 1427.0Z" fill="#f5b410"/>
<path d="M472.0 1423.0 460.0 1423.5 449.0 1423.1 438.0 1421.9 428.0 1420.0 418.0 1417.2 409.0 1413.7 400.0 1409.2 391.8 1404.0 385.0 1398.5 378.6 1392.0 373.2 1385.0 368.3 1377.0 364.6 1369.0 361.5 1360.0 359.2 1350.0 357.8 1340.0 357.4 1328.0 358.0 1316.0 359.9 1303.0 362.6 1291.0 366.4 1279.0 371.3 1267.0 377.0 1255.7 383.6 1245.0 390.4 1236.0 398.0 1227.6 406.0 1220.3 415.0 1213.7 424.0 1208.6 433.0 1204.8 443.0 1202.0 453.0 1200.5 463.0 1200.3 473.0 1201.3 484.0 1203.8 494.0 1207.4 504.0 1212.2 513.5 1218.0 523.0 1225.2 531.6 1233.0 540.0 1242.0 548.0 1252.3 555.0 1263.0 560.9 1274.0 566.0 1285.8 569.7 1297.0 572.5 1309.0 574.0 1320.0 574.4 1330.0 573.8 1340.0 572.2 1350.0 569.6 1359.0 566.4 1367.0 562.0 1375.2 556.5 1383.0 550.4 1390.0 543.0 1396.7 535.0 1402.6 525.9 1408.0 516.0 1412.7 506.0 1416.4 495.0 1419.4 484.0 1421.6 472.0 1423.0Z" fill="#f5b610"/>
<path d="M475.0 1419.0 464.0 1419.8 453.0 1419.7 442.0 1418.7 432.0 1417.0 422.0 1414.3 413.0 1411.1 404.5 1407.0 397.0 1402.4 389.9 1397.0 383.7 1391.0 378.0 1384.0 373.5 1377.0 369.5 1369.0 366.5 1361.0 364.1 1352.0 362.5 1342.0 361.8 1331.0 362.2 1319.0 363.7 1307.0 366.0 1296.0 369.6 1284.0 373.9 1273.0 379.0 1262.4 385.2 1252.0 392.0 1242.6 399.0 1234.6 407.0 1227.2 415.0 1221.1 424.0 1215.8 432.6 1212.0 442.0 1209.1 451.0 1207.6 460.0 1207.1 470.0 1207.7 480.0 1209.6 490.0 1212.8 500.0 1217.3 509.0 1222.6 518.0 1229.0 526.0 1235.9 534.0 1244.1 541.4 1253.0 548.0 1262.5 554.1 1273.0 559.3 1284.0 563.3 1295.0 566.3 1306.0 568.1 1317.0 568.8 1327.0 568.5 1337.0 567.3 1346.0 565.2 1355.0 562.0 1363.6 558.0 1371.6 553.2 1379.0 547.4 1386.0 541.0 1392.2 533.7 1398.0 526.0 1403.0 516.3 1408.0 506.4 1412.0 496.7 1415.0 486.0 1417.4 475.0 1419.0Z" fill="#f5b810"/>
<path d="M475.0 1415.1 465.0 1415.8 455.0 1415.8 445.0 1415.1 435.0 1413.5 425.1 1411.0 416.6 1408.0 408.1 1404.0 401.0 1399.8 394.0 1394.5 388.2 1389.0 383.0 1382.9 378.0 1375.4 374.2 1368.0 371.1 1360.0 368.7 1351.0 367.2 1342.0 366.5 1331.0 366.8 1320.0 368.2 1309.0 370.5 1298.0 373.7 1287.0 378.0 1276.0 382.9 1266.0 388.3 1257.0 395.0 1247.8 402.0 1240.0 409.0 1233.5 417.0 1227.4 425.0 1222.7 433.3 1219.0 442.0 1216.3 451.0 1214.6 460.0 1214.1 469.0 1214.7 478.0 1216.3 487.1 1219.0 496.0 1222.8 505.0 1227.7 514.0 1233.9 522.0 1240.7 530.0 1248.7 537.0 1257.1 543.3 1266.0 549.1 1276.0 553.8 1286.0 557.6 1296.0 560.6 1307.0 562.3 1317.0 563.1 1327.0 562.8 1336.0 561.7 1345.0 559.8 1353.0 557.0 1361.0 553.1 1369.0 548.7 1376.0 543.1 1383.0 537.1 1389.0 530.0 1394.7 522.0 1400.0 514.0 1404.2 505.0 1408.0 495.7 1411.0 486.0 1413.3 475.0 1415.1Z" fill="#f5ba10"/>
<path d="M473.0 1411.0 463.0 1411.7 454.0 1411.6 444.0 1410.7 435.0 1409.1 426.0 1406.7 418.0 1403.7 410.3 1400.0 403.0 1395.4 397.0 1390.7 391.2 1385.0 386.3 1379.0 381.8 1372.0 378.3 1365.0 375.4 1357.0 373.4 1349.0 372.0 1340.3 371.4 1330.0 371.8 1320.0 373.0 1310.0 375.1 1300.0 378.1 1290.0 382.0 1280.0 386.9 1270.0 392.4 1261.0 398.4 1253.0 405.0 1245.6 412.0 1239.2 419.0 1234.0 427.0 1229.3 435.0 1225.8 443.0 1223.4 452.0 1221.8 461.0 1221.4 469.4 1222.0 478.0 1223.6 487.0 1226.5 496.0 1230.5 504.0 1235.0 512.0 1240.7 519.4 1247.0 526.3 1254.0 533.0 1262.1 539.0 1270.7 544.3 1280.0 548.6 1289.0 552.2 1299.0 554.9 1309.0 556.5 1319.0 557.1 1328.0 556.7 1337.0 555.6 1345.0 553.6 1353.0 550.6 1361.0 547.1 1368.0 542.5 1375.0 537.6 1381.0 531.5 1387.0 525.2 1392.0 517.5 1397.0 509.8 1401.0 501.0 1404.6 492.0 1407.5 483.0 1409.6 473.0 1411.0Z" fill="#f5bb10"/>
<path d="M467.0 1407.0 458.0 1407.3 449.0 1406.7 440.0 1405.5 432.0 1403.6 424.0 1401.0 417.0 1398.0 410.0 1394.1 404.0 1389.9 398.4 1385.0 393.0 1379.1 388.6 1373.0 385.1 1367.0 382.0 1360.0 379.5 1352.0 377.8 1344.0 376.9 1336.0 376.7 1327.0 377.4 1317.0 379.0 1307.0 381.2 1298.0 384.3 1289.0 388.2 1280.0 393.0 1271.0 398.3 1263.0 404.0 1255.9 410.0 1249.7 417.0 1243.8 424.0 1239.0 431.0 1235.3 439.0 1232.2 447.0 1230.1 455.0 1229.1 463.0 1229.0 472.0 1230.0 480.0 1231.9 488.0 1234.7 496.0 1238.5 503.4 1243.0 511.0 1248.6 518.0 1254.9 524.6 1262.0 530.8 1270.0 536.0 1278.1 540.8 1287.0 544.6 1296.0 547.4 1305.0 549.4 1314.0 550.5 1323.0 550.7 1332.0 550.0 1340.0 548.5 1348.0 546.4 1355.0 543.4 1362.0 539.5 1369.0 535.1 1375.0 530.0 1380.7 524.2 1386.0 517.3 1391.0 510.0 1395.3 502.2 1399.0 494.0 1402.0 485.0 1404.5 476.0 1406.1 467.0 1407.0Z" fill="#f5bd10"/>
<path d="M469.0 1402.0 452.0 1402.1 436.0 1399.5 428.0 1397.1 421.0 1394.1 409.0 1386.9 404.0 1382.7 399.0 1377.6 394.7 1372.0 391.0 1366.0 387.7 1359.0 385.3 1352.0 383.6 1345.0 382.6 1337.0 382.2 1329.0 382.7 1320.0 383.9 1311.0 386.0 1302.0 389.0 1293.0 392.4 1285.0 397.0 1276.4 401.8 1269.0 407.0 1262.5 413.0 1256.2 419.0 1251.1 425.0 1247.0 432.0 1243.1 439.0 1240.3 446.0 1238.3 454.0 1237.0 462.0 1236.8 470.0 1237.6 478.0 1239.3 485.0 1241.7 492.0 1244.8 499.2 1249.0 506.2 1254.0 513.0 1259.9 519.0 1266.1 525.0 1273.6 529.9 1281.0 534.3 1289.0 537.8 1297.0 540.5 1305.0 542.7 1314.0 543.8 1322.0 544.1 1330.0 543.7 1337.0 542.6 1344.0 540.8 1351.0 538.1 1358.0 535.1 1364.0 531.1 1370.0 526.2 1376.0 521.0 1381.0 514.7 1386.0 508.0 1390.2 501.0 1393.8 486.0 1399.1 477.0 1401.0 469.0 1402.0Z" fill="#f5bf10"/>
<path d="M464.0 1397.0 449.0 1396.5 441.0 1395.1 434.0 1393.3 421.0 1387.7 415.0 1384.0 410.0 1380.1 401.4 1371.0 394.8 1360.0 392.3 1354.0 390.3 1347.0 388.4 1333.0 388.4 1325.0 389.1 1317.0 390.6 1309.0 392.8 1301.0 399.1 1286.0 403.2 1279.0 408.0 1272.2 418.0 1261.6 424.0 1256.8 430.0 1253.0 436.1 1250.0 443.0 1247.5 450.0 1245.9 457.0 1245.2 464.0 1245.2 471.0 1246.1 478.0 1247.8 485.0 1250.4 492.0 1253.8 498.7 1258.0 505.0 1262.8 510.6 1268.0 516.1 1274.0 521.0 1280.5 525.7 1288.0 529.2 1295.0 532.1 1302.0 534.5 1310.0 536.2 1318.0 536.9 1326.0 536.9 1333.0 536.2 1340.0 534.7 1347.0 532.7 1353.0 530.0 1359.0 526.4 1365.0 518.1 1375.0 513.0 1379.5 507.0 1383.8 494.0 1390.5 479.5 1395.0 464.0 1397.0Z" fill="#f5c10f"/>
<path d="M465.0 1391.0 451.0 1390.7 438.0 1388.1 426.0 1383.3 416.0 1376.6 407.5 1368.0 401.3 1358.0 397.0 1346.3 395.1 1334.0 395.5 1320.0 396.8 1312.0 398.7 1305.0 404.0 1291.9 407.9 1285.0 412.0 1279.2 421.0 1269.4 426.0 1265.4 432.0 1261.5 438.0 1258.5 444.0 1256.3 456.0 1254.1 462.0 1254.0 469.0 1254.7 476.0 1256.3 482.0 1258.4 494.0 1264.8 505.0 1273.8 514.6 1285.0 522.0 1297.7 526.9 1311.0 529.2 1325.0 528.7 1338.0 525.7 1350.0 520.3 1361.0 513.0 1370.2 503.8 1378.0 492.0 1384.6 479.0 1388.9 465.0 1391.0Z" fill="#f5c30e"/>
<path d="M468.0 1384.0 456.0 1384.4 444.0 1382.6 433.4 1379.0 424.0 1373.6 416.0 1366.5 409.8 1358.0 405.3 1348.0 402.8 1337.0 402.5 1325.0 404.6 1312.0 408.8 1300.0 415.0 1288.9 423.0 1279.4 432.1 1272.0 443.0 1266.6 454.0 1264.0 465.0 1263.9 476.0 1266.3 487.0 1271.2 497.0 1278.4 506.0 1287.9 512.6 1298.0 517.8 1310.0 520.4 1322.0 520.7 1333.0 518.8 1344.0 514.9 1354.0 508.9 1363.0 500.6 1371.0 491.0 1377.1 480.0 1381.5 468.0 1384.0Z" fill="#f5c40d"/>
<path d="M468.0 1376.0 458.0 1376.6 448.0 1375.3 438.0 1372.1 430.0 1367.6 423.0 1361.4 417.5 1354.0 413.4 1345.0 411.4 1336.0 411.1 1326.0 412.8 1315.0 416.3 1305.0 421.4 1296.0 428.0 1288.1 436.0 1281.6 445.0 1277.1 454.0 1274.9 464.0 1274.7 473.0 1276.5 482.0 1280.3 490.3 1286.0 498.0 1293.7 503.7 1302.0 508.3 1312.0 510.7 1322.0 511.1 1332.0 509.7 1341.0 506.8 1349.0 501.9 1357.0 495.3 1364.0 487.0 1369.7 478.0 1373.6 468.0 1376.0Z" fill="#f6c60b"/>
<path d="M467.0 1366.0 459.0 1366.6 451.0 1365.7 444.0 1363.5 437.4 1360.0 432.0 1355.5 427.6 1350.0 424.1 1343.0 422.2 1336.0 421.6 1328.0 422.6 1320.0 425.1 1312.0 429.0 1304.8 434.0 1298.6 440.0 1293.5 447.0 1289.8 454.0 1287.8 461.0 1287.3 469.0 1288.6 476.0 1291.2 483.0 1295.7 489.0 1301.4 493.7 1308.0 497.0 1315.1 499.1 1323.0 499.5 1331.0 498.5 1338.0 496.0 1345.0 492.4 1351.0 487.0 1356.8 481.1 1361.0 474.7 1364.0 467.0 1366.0Z" fill="#f6c80a"/>
<path d="M466.0 1351.1 461.0 1351.9 457.0 1351.7 452.0 1350.6 448.0 1348.8 444.2 1346.0 441.5 1343.0 439.1 1339.0 437.7 1335.0 437.0 1330.0 437.3 1325.0 438.7 1320.0 440.7 1316.0 443.8 1312.0 447.0 1309.2 451.0 1306.8 455.0 1305.5 459.0 1305.0 464.0 1305.4 468.0 1306.6 472.0 1308.7 476.0 1311.9 478.6 1315.0 481.0 1319.2 482.6 1324.0 483.1 1328.0 482.9 1333.0 481.8 1337.0 479.9 1341.0 477.0 1344.7 474.0 1347.3 470.0 1349.7 466.0 1351.1Z" fill="#f6c908"/>
<path d="M588.0 1559.0 518.0 1559.7 446.0 1559.8 381.0 1559.5 327.0 1558.6 287.0 1557.3 270.0 1556.5 255.0 1555.6 242.0 1554.5 230.0 1553.3 220.0 1551.9 210.0 1550.2 202.0 1548.5 195.0 1546.5 189.0 1544.5 183.0 1541.9 177.9 1539.0 173.0 1535.6 169.0 1532.0 165.5 1528.0 162.7 1524.0 159.9 1519.0 157.2 1513.0 155.0 1506.6 153.2 1500.0 151.4 1492.0 149.9 1483.0 148.6 1473.0 147.1 1458.0 145.9 1440.0 145.0 1419.0 144.3 1395.0 143.8 1367.0 143.7 1336.0 143.7 1302.0 144.1 1265.0 144.6 1225.0 145.5 1185.0 146.5 1145.0 147.8 1105.0 149.2 1066.0 150.9 1029.0 152.7 993.0 154.7 959.0 156.5 930.0 158.5 902.0 160.7 875.0 163.0 848.6 165.5 823.0 168.0 798.8 170.8 774.0 173.7 751.0 176.9 728.0 180.0 706.7 183.5 685.0 187.0 664.7 190.9 644.0 194.7 625.0 198.9 606.0 203.0 588.3 207.3 571.0 212.0 553.8 217.0 536.5 222.0 520.5 227.0 505.5 232.5 490.0 238.0 475.8 244.0 461.2 250.0 447.6 256.0 434.9 262.5 422.0 269.0 410.1 276.0 398.2 283.0 387.1 290.0 376.8 297.0 367.2 305.0 357.0 313.0 347.7 321.0 339.1 329.0 331.3 337.0 324.1 346.0 316.7 354.0 310.8 363.0 304.8 372.0 299.4 381.0 294.7 390.0 290.6 400.0 286.7 409.0 283.8 419.0 281.1 429.0 279.1 439.0 277.6 450.0 276.7 461.0 276.4 472.0 276.8 483.0 277.9 494.0 279.5 505.0 281.7 516.0 284.5 528.0 288.2 540.0 292.5 551.0 297.0 563.0 302.6 575.0 308.8 587.0 315.5 599.0 322.9 611.0 330.9 623.0 339.4 635.0 348.6 647.0 358.3 659.0 368.6 671.0 379.4 683.0 390.8 695.2 403.0 708.0 416.4 720.0 429.5 732.0 443.3 744.0 457.5 756.0 472.4 768.0 487.8 780.0 503.8 792.0 520.3 804.0 537.5 815.8 555.0 828.3 574.0 840.9 594.0 853.1 614.0 865.5 635.0 877.5 656.0 889.2 677.0 900.5 698.0 912.4 721.0 923.5 743.0 935.3 767.0 946.6 791.0 957.2 814.0 967.4 837.0 977.7 861.0 987.7 885.0 997.7 910.0 1007.4 935.0 1016.3 959.0 1025.3 984.0 1033.2 1007.0 1041.1 1031.0 1048.4 1054.0 1055.3 1077.0 1061.8 1100.0 1067.8 1122.0 1073.3 1144.0 1078.4 1166.0 1082.7 1186.0 1086.8 1207.0 1090.3 1227.0 1093.2 1246.0 1095.5 1264.0 1097.8 1287.0 1098.6 1298.0 1099.2 1309.0 1099.5 1320.0 1099.6 1330.0 1099.5 1340.0 1099.1 1350.0 1098.4 1360.0 1097.6 1369.0 1096.5 1378.0 1095.2 1386.0 1093.7 1394.0 1092.0 1402.0 1089.9 1410.0 1087.8 1417.0 1085.4 1424.0 1082.7 1431.0 1079.6 1438.0 1076.6 1444.0 1073.3 1450.0 1069.7 1456.0 1065.6 1462.0 1061.1 1468.0 1056.9 1473.0 1052.3 1478.0 1047.2 1483.0 1041.5 1488.0 1036.0 1492.5 1030.0 1496.9 1023.8 1501.0 1018.0 1504.5 1011.7 1508.0 1005.0 1511.4 997.3 1515.0 990.1 1518.0 982.3 1521.0 975.0 1523.6 967.0 1526.2 958.0 1528.8 949.8 1531.0 940.0 1533.4 930.0 1535.6 920.0 1537.6 899.0 1541.2 875.0 1544.6 850.0 1547.5 822.6 1550.0 793.0 1552.2 759.0 1554.1 722.0 1555.8 682.0 1557.1 638.0 1558.2 588.0 1559.0Z" fill="none" stroke="#240036" stroke-opacity="0.94" stroke-width="5.6"/>
<path d="M537.0 1550.0 509.0 1550.5 481.0 1550.8 453.0 1550.8 426.0 1550.7 401.0 1550.3 377.0 1549.7 355.0 1548.9 335.0 1547.9 317.0 1546.7 301.0 1545.4 287.0 1543.9 273.0 1542.0 260.7 1540.0 250.0 1537.8 240.0 1535.2 231.0 1532.4 223.0 1529.3 216.0 1526.0 209.1 1522.0 203.4 1518.0 198.8 1514.0 193.9 1509.0 191.4 1506.0 189.2 1503.0 185.3 1497.0 181.7 1490.0 178.7 1483.0 175.9 1475.0 173.4 1466.0 171.2 1456.0 169.2 1445.0 167.5 1433.0 166.1 1420.0 165.0 1406.0 164.1 1390.0 163.4 1373.0 162.9 1354.0 162.8 1334.0 162.8 1313.0 163.1 1291.0 163.7 1268.0 164.5 1244.0 165.5 1220.0 166.8 1195.0 168.2 1171.0 169.9 1146.0 171.8 1122.0 173.9 1098.0 176.1 1075.0 180.7 1033.0 183.2 1013.0 185.9 993.0 188.6 974.0 191.6 955.0 194.8 936.0 198.0 918.5 201.4 901.0 205.0 883.7 208.7 867.0 212.5 851.0 216.6 835.0 221.0 819.0 225.3 804.0 229.7 790.0 234.3 776.0 239.0 762.5 244.0 749.1 248.8 737.0 254.0 724.7 259.0 713.5 264.5 702.0 270.0 691.1 276.0 680.0 282.0 669.6 288.0 659.8 294.0 650.7 300.1 642.0 307.0 632.8 313.0 625.4 320.0 617.3 327.0 609.7 334.0 602.8 341.0 596.4 348.0 590.4 355.0 585.0 363.0 579.3 370.0 574.8 378.0 570.2 386.0 566.1 394.0 562.5 402.0 559.3 410.0 556.6 418.0 554.3 427.0 552.3 435.0 550.9 444.0 549.8 453.0 549.3 462.0 549.1 471.0 549.5 481.0 550.4 490.0 551.6 500.0 553.6 509.0 555.7 519.0 558.6 528.0 561.6 538.0 565.4 548.0 569.7 558.0 574.4 568.0 579.7 578.0 585.3 588.0 591.5 598.0 598.1 608.0 605.1 618.0 612.6 628.0 620.5 638.0 628.9 648.0 637.7 658.0 646.9 668.0 656.6 678.0 666.8 688.0 677.3 698.0 688.4 708.0 699.9 717.3 711.0 727.0 722.9 737.0 735.8 746.9 749.0 756.4 762.0 766.2 776.0 776.4 791.0 786.0 805.7 795.7 821.0 805.4 837.0 814.9 853.0 824.6 870.0 833.5 886.0 842.6 903.0 851.3 920.0 860.3 938.0 868.5 955.0 876.5 972.0 884.6 990.0 892.4 1008.0 900.3 1027.0 907.5 1045.0 914.4 1063.0 921.4 1082.0 927.3 1099.0 933.3 1117.0 938.4 1133.0 943.5 1150.0 948.3 1167.0 952.7 1184.0 956.6 1200.0 960.2 1216.0 963.2 1231.0 965.9 1246.0 968.2 1261.0 970.1 1275.0 971.6 1289.0 973.0 1308.0 973.6 1326.0 973.5 1335.0 973.3 1343.0 972.9 1351.0 972.3 1359.0 971.4 1367.0 970.4 1374.0 969.1 1382.0 967.7 1389.0 966.0 1396.0 964.1 1403.0 961.9 1410.0 959.7 1416.0 957.3 1422.0 954.6 1428.0 951.6 1434.0 948.8 1439.0 945.2 1445.0 941.8 1450.0 938.1 1455.0 934.0 1460.0 929.6 1465.0 925.7 1469.0 920.4 1474.0 915.8 1478.0 910.8 1482.0 905.3 1486.0 900.0 1489.6 894.6 1493.0 888.0 1496.8 881.9 1500.0 875.8 1503.0 869.2 1506.0 862.0 1509.0 854.2 1512.0 839.4 1517.0 823.0 1521.7 805.7 1526.0 786.3 1530.0 766.0 1533.5 744.0 1536.7 720.0 1539.6 695.0 1542.1 667.0 1544.3 638.0 1546.2 606.0 1547.8 573.0 1549.1 537.0 1550.0Z" fill="none" stroke="#2c000e" stroke-opacity="0.94" stroke-width="5.6"/>
<path d="M468.0 1534.0 447.0 1534.0 426.0 1533.6 406.6 1533.0 388.0 1532.1 371.0 1530.9 354.0 1529.4 339.0 1527.6 325.0 1525.6 312.0 1523.3 300.0 1520.6 289.0 1517.7 279.0 1514.5 269.8 1511.0 261.1 1507.0 253.0 1502.5 246.2 1498.0 239.8 1493.0 234.0 1487.6 228.9 1482.0 226.0 1478.3 223.6 1475.0 219.3 1468.0 215.1 1460.0 211.6 1452.0 208.4 1443.0 205.5 1433.0 203.2 1423.0 201.0 1411.3 199.2 1399.0 197.7 1385.0 196.6 1371.0 195.9 1356.0 195.5 1340.0 195.6 1314.0 196.4 1287.0 198.0 1258.3 200.3 1229.0 203.4 1199.0 207.1 1170.0 211.4 1141.0 216.2 1113.0 221.5 1086.0 227.4 1060.0 233.7 1035.0 240.4 1011.0 247.7 988.0 255.1 967.0 259.0 956.7 263.3 946.0 267.6 936.0 272.0 926.1 276.3 917.0 281.0 907.6 285.5 899.0 290.0 891.0 295.0 882.4 300.0 874.4 305.0 866.8 310.0 859.6 315.0 852.8 320.0 846.4 325.3 840.0 331.0 833.5 336.2 828.0 342.0 822.2 348.0 816.6 354.0 811.4 360.0 806.6 366.0 802.1 372.0 798.0 378.0 794.3 384.0 790.8 391.0 787.2 397.0 784.4 404.0 781.5 410.0 779.3 417.0 777.1 424.0 775.3 431.0 773.8 437.0 772.8 444.0 772.0 451.0 771.4 458.0 771.2 465.0 771.2 473.0 771.7 481.0 772.5 489.0 773.7 497.0 775.3 504.0 777.0 512.0 779.3 520.0 781.9 528.0 784.8 536.0 788.1 544.0 791.7 552.0 795.7 560.0 800.0 568.0 804.7 576.0 809.7 584.0 815.0 592.0 820.6 600.0 826.6 608.0 832.9 616.0 839.5 624.0 846.4 632.0 853.7 640.0 861.4 648.0 869.4 656.0 877.7 664.0 886.4 672.0 895.4 680.0 904.8 688.0 914.6 695.5 924.0 703.0 933.9 710.4 944.0 718.0 954.7 725.7 966.0 733.0 977.0 740.6 989.0 748.0 1001.0 755.0 1012.9 761.9 1025.0 768.5 1037.0 775.0 1049.2 781.5 1062.0 787.4 1074.0 793.6 1087.0 799.5 1100.0 805.2 1113.0 810.6 1126.0 815.7 1139.0 820.6 1152.0 825.3 1165.0 829.7 1178.0 833.5 1190.0 837.1 1202.0 840.5 1214.0 843.6 1226.0 846.4 1238.0 848.8 1249.0 851.1 1261.0 852.9 1272.0 854.5 1283.0 855.8 1294.0 856.8 1305.0 857.4 1315.0 857.6 1325.0 857.5 1339.0 856.7 1353.0 855.1 1366.0 853.0 1378.0 851.7 1384.0 850.1 1390.0 846.6 1401.0 844.4 1407.0 842.3 1412.0 840.0 1417.0 837.4 1422.0 834.6 1427.0 831.5 1432.0 828.1 1437.0 825.2 1441.0 818.6 1449.0 814.9 1453.0 811.0 1457.0 806.6 1461.0 802.0 1465.0 792.9 1472.0 788.0 1475.3 782.3 1479.0 771.8 1485.0 760.0 1490.8 748.0 1496.0 734.7 1501.0 720.0 1505.7 704.7 1510.0 688.0 1514.0 671.0 1517.5 653.0 1520.6 634.0 1523.4 613.0 1526.1 591.0 1528.3 568.0 1530.2 544.0 1531.7 519.0 1532.9 493.0 1533.7 468.0 1534.0Z" fill="none" stroke="#300004" stroke-opacity="0.94" stroke-width="5.6"/>
<path d="M481.0 1489.0 468.0 1489.4 456.0 1489.5 444.0 1489.2 432.0 1488.7 420.0 1487.8 409.0 1486.6 398.0 1485.1 388.0 1483.3 378.0 1481.2 369.1 1479.0 360.0 1476.3 352.0 1473.5 344.0 1470.3 336.9 1467.0 329.5 1463.0 323.0 1459.0 317.0 1454.7 311.2 1450.0 305.9 1445.0 301.0 1439.7 296.4 1434.0 292.3 1428.0 288.7 1422.0 285.0 1415.0 282.0 1408.0 279.4 1401.0 276.8 1393.0 274.8 1385.0 272.9 1376.0 271.5 1367.0 270.4 1358.0 269.6 1348.0 269.1 1335.0 269.1 1321.0 269.7 1307.0 270.9 1292.0 272.7 1277.0 274.9 1262.0 277.7 1247.0 280.9 1232.0 284.7 1217.0 289.0 1202.0 293.5 1188.0 298.5 1174.0 304.0 1160.3 309.5 1148.0 315.8 1135.0 322.0 1123.6 328.9 1112.0 335.5 1102.0 342.8 1092.0 350.0 1083.1 357.0 1075.3 365.0 1067.2 373.0 1060.1 381.0 1053.7 389.0 1048.2 398.0 1042.8 406.0 1038.7 415.0 1034.9 424.0 1031.9 433.0 1029.5 442.0 1027.9 447.0 1027.3 452.0 1026.9 462.0 1026.7 472.0 1027.2 482.0 1028.5 492.0 1030.6 502.0 1033.4 512.0 1036.8 523.0 1041.5 533.0 1046.5 543.0 1052.2 553.0 1058.6 563.0 1065.8 573.0 1073.7 583.0 1082.4 592.1 1091.0 601.8 1101.0 611.0 1111.3 620.0 1122.1 629.1 1134.0 637.6 1146.0 646.0 1158.8 653.9 1172.0 661.0 1184.7 667.8 1198.0 674.0 1211.4 679.7 1225.0 684.6 1238.0 689.3 1252.0 693.0 1265.0 696.1 1278.0 698.7 1291.0 700.5 1304.0 701.6 1316.0 702.0 1326.0 701.9 1336.0 701.4 1345.0 700.3 1354.0 698.8 1363.0 696.9 1371.0 694.6 1379.0 691.7 1387.0 688.1 1395.0 684.4 1402.0 680.1 1409.0 675.9 1415.0 670.2 1422.0 664.6 1428.0 658.2 1434.0 652.0 1439.2 645.0 1444.4 637.0 1449.6 629.0 1454.3 620.0 1458.9 610.9 1463.0 601.0 1467.0 591.0 1470.5 581.0 1473.6 570.0 1476.6 558.0 1479.4 545.1 1482.0 533.2 1484.0 521.0 1485.7 508.0 1487.1 495.0 1488.2 481.0 1489.0Z" fill="none" stroke="#2c0600" stroke-opacity="0.94" stroke-width="5.6"/>
<path d="M470.0 1396.0 462.0 1396.6 455.0 1396.5 447.0 1395.7 440.0 1394.3 433.0 1392.4 426.9 1390.0 420.9 1387.0 417.5 1385.0 414.6 1383.0 409.6 1379.0 405.0 1374.4 401.0 1369.4 397.5 1364.0 394.6 1358.0 392.3 1352.0 390.5 1345.0 389.3 1338.0 389.0 1334.0 388.9 1330.0 389.2 1322.0 390.2 1314.0 392.0 1306.0 394.5 1298.0 397.4 1291.0 401.0 1283.8 405.3 1277.0 410.0 1270.8 415.3 1265.0 421.0 1260.0 427.0 1255.7 433.0 1252.3 436.0 1250.9 440.0 1249.3 446.0 1247.5 449.0 1246.9 453.0 1246.3 456.0 1246.0 460.0 1245.9 463.2 1246.0 467.0 1246.3 474.0 1247.6 481.0 1249.7 484.5 1251.0 488.0 1252.6 494.3 1256.0 498.0 1258.4 501.0 1260.6 507.0 1265.6 510.0 1268.4 513.0 1271.6 518.0 1277.6 522.5 1284.0 526.5 1291.0 530.0 1298.5 532.7 1306.0 533.8 1310.0 534.7 1314.0 535.8 1321.0 536.3 1328.0 536.1 1335.0 535.1 1342.0 533.6 1348.0 531.5 1354.0 528.7 1360.0 526.9 1363.0 525.0 1365.9 521.0 1371.0 516.2 1376.0 511.0 1380.3 505.6 1384.0 499.0 1387.7 492.0 1390.7 485.0 1393.1 477.0 1395.0 470.0 1396.0Z" fill="none" stroke="#281000" stroke-opacity="0.94" stroke-width="5.6"/>
</g>
<text x="424" y="259" class="cl" style="fill:#10053a">0.01</text>
<clipPath id="t01"><text x="424" y="259" class="cl">0.01</text></clipPath>
<g clip-path="url(#t01)">
<path d="M602.0 1560.0 529.0 1560.7 454.0 1560.9 385.0 1560.6 328.0 1559.9 286.0 1558.8 253.0 1557.3 227.0 1555.2 207.0 1552.6 192.0 1549.3 186.0 1547.5 180.0 1545.1 175.0 1542.6 170.9 1540.0 167.0 1536.9 163.2 1533.0 160.1 1529.0 157.7 1525.0 155.2 1520.0 152.9 1514.0 151.0 1507.4 149.3 1500.0 146.6 1483.0 145.1 1468.0 143.8 1450.0 142.1 1405.0 141.5 1343.0 141.8 1265.0 143.1 1177.0 145.3 1089.0 148.2 1008.0 151.9 932.0 155.7 872.0 160.0 816.0 164.8 764.0 170.3 715.0 176.4 669.0 183.1 626.0 190.6 585.0 198.9 546.0 208.0 509.5 217.6 476.0 228.0 444.6 239.3 415.0 245.2 401.0 251.6 387.0 258.0 373.8 264.7 361.0 271.0 349.9 278.2 338.0 285.4 327.0 293.0 316.2 301.0 305.7 309.0 296.1 317.0 287.3 325.0 279.1 333.0 271.7 342.0 264.1 351.0 257.2 360.0 251.0 369.0 245.5 378.0 240.6 387.0 236.4 397.0 232.3 407.0 228.9 417.0 226.1 427.0 224.0 437.0 222.5 448.0 221.4 459.0 221.0 470.0 221.3 482.0 222.3 493.0 223.9 505.0 226.2 517.0 229.3 529.0 233.0 541.0 237.3 553.0 242.3 565.0 247.9 577.0 254.1 589.0 260.9 601.0 268.3 613.0 276.3 626.0 285.6 639.0 295.6 651.0 305.4 664.0 316.6 676.0 327.6 688.0 339.1 701.0 352.2 713.1 365.0 726.0 379.2 751.0 408.6 776.0 440.4 800.5 474.0 825.1 510.0 850.6 550.0 876.2 593.0 901.4 638.0 925.5 684.0 949.6 733.0 972.3 782.0 993.6 831.0 1014.4 882.0 1033.7 933.0 1051.7 984.0 1067.6 1033.0 1082.3 1083.0 1094.6 1130.0 1104.7 1174.0 1108.9 1195.0 1112.7 1216.0 1115.9 1236.0 1118.6 1256.0 1121.2 1280.0 1122.8 1303.0 1123.5 1325.0 1123.2 1346.0 1121.9 1365.0 1119.7 1383.0 1116.6 1400.0 1112.4 1416.0 1107.5 1430.0 1101.2 1444.0 1094.5 1456.0 1086.2 1468.0 1077.7 1478.0 1067.3 1488.0 1056.0 1497.0 1043.0 1505.5 1030.0 1512.5 1015.5 1519.0 999.3 1525.0 983.0 1530.0 964.0 1534.8 943.9 1539.0 922.0 1542.7 898.0 1546.0 872.0 1548.9 844.0 1551.3 813.0 1553.5 779.0 1555.3 741.0 1556.9 700.0 1558.2 602.0 1560.0Z" fill="none" stroke="#a890e0" stroke-width="1.0"/>
<path d="M593.0 1560.0 520.0 1560.6 446.0 1560.8 379.0 1560.4 324.0 1559.7 283.0 1558.5 251.0 1557.0 226.0 1554.9 206.0 1552.1 198.0 1550.5 191.0 1548.7 185.0 1546.7 179.0 1544.2 174.0 1541.5 170.0 1538.8 166.0 1535.3 163.0 1532.0 160.0 1528.0 157.1 1523.0 154.9 1518.0 152.7 1512.0 150.8 1505.0 149.3 1498.0 146.5 1480.0 145.0 1464.0 143.8 1446.0 142.3 1400.0 141.7 1337.0 142.0 1259.0 143.5 1171.0 145.7 1085.0 148.7 1005.0 152.5 930.0 156.2 871.0 160.5 816.0 165.5 764.0 171.0 715.5 177.1 670.0 184.0 626.9 191.6 586.0 199.9 548.0 209.0 511.8 219.0 477.6 229.7 446.0 241.0 416.8 253.0 389.9 259.4 377.0 266.3 364.0 273.0 352.3 280.0 341.0 287.0 330.5 295.0 319.3 303.0 309.1 311.0 299.6 319.0 291.0 327.0 283.0 335.0 275.7 344.0 268.2 353.0 261.5 362.0 255.5 371.0 250.1 380.0 245.4 389.0 241.2 399.0 237.3 409.0 234.0 419.0 231.4 429.0 229.4 439.0 228.0 450.0 227.0 461.0 226.8 472.0 227.2 484.0 228.3 495.0 230.0 507.0 232.4 519.0 235.6 531.0 239.4 543.0 243.9 555.0 249.0 567.0 254.7 579.0 261.0 591.0 267.9 603.0 275.4 615.0 283.5 628.0 292.9 640.0 302.2 652.0 312.1 664.0 322.5 677.0 334.4 689.0 346.0 702.0 359.1 714.1 372.0 727.0 386.3 752.0 415.8 777.0 447.7 801.9 482.0 826.3 518.0 851.7 558.0 877.2 601.0 902.3 646.0 926.3 692.0 949.8 740.0 972.4 789.0 994.4 840.0 1014.7 890.0 1034.2 942.0 1051.7 992.0 1067.7 1042.0 1081.7 1090.0 1093.6 1136.0 1098.7 1158.0 1103.6 1181.0 1107.7 1202.0 1111.4 1223.0 1114.4 1243.0 1116.9 1262.0 1119.2 1286.0 1120.6 1308.0 1121.1 1330.0 1120.5 1350.0 1119.1 1369.0 1116.6 1387.0 1113.4 1403.0 1108.9 1419.0 1103.8 1433.0 1097.7 1446.0 1090.7 1458.0 1082.0 1470.0 1073.2 1480.0 1062.4 1490.0 1050.5 1499.0 1037.6 1507.0 1024.1 1514.0 1010.1 1520.0 993.3 1526.0 976.4 1531.0 958.0 1535.5 938.0 1539.5 916.7 1543.0 892.0 1546.3 867.0 1549.0 838.0 1551.5 806.0 1553.7 772.0 1555.4 733.0 1557.0 692.0 1558.2 593.0 1560.0Z" fill="none" stroke="#a890e0" stroke-width="1.0"/>
<path d="M583.0 1560.0 510.0 1560.6 436.0 1560.6 371.0 1560.3 318.0 1559.4 278.0 1558.2 247.0 1556.5 223.0 1554.3 204.0 1551.4 190.0 1548.0 184.0 1545.9 178.0 1543.2 173.0 1540.3 169.0 1537.4 165.4 1534.0 162.0 1530.0 159.3 1526.0 156.7 1521.0 154.2 1515.0 152.2 1509.0 150.5 1502.0 148.9 1494.0 146.4 1476.0 145.0 1460.0 143.8 1441.0 142.4 1394.0 141.9 1330.0 142.4 1251.0 143.8 1165.0 146.1 1081.0 149.2 1002.0 153.0 929.0 156.7 871.0 161.1 816.0 166.1 765.0 171.6 717.0 177.8 672.0 184.7 629.0 192.3 589.0 200.6 551.0 209.8 515.0 219.8 481.0 230.3 450.0 242.0 420.2 254.0 393.6 260.8 380.0 267.3 368.0 274.0 356.4 281.0 345.2 288.0 334.7 296.0 323.7 304.0 313.6 312.0 304.2 320.0 295.6 328.0 287.7 336.0 280.5 345.0 273.1 354.0 266.5 363.0 260.5 372.0 255.2 381.0 250.5 390.0 246.5 400.0 242.6 410.0 239.4 420.0 236.8 430.0 234.8 440.0 233.5 451.0 232.6 462.0 232.4 473.0 232.9 485.0 234.1 496.0 235.8 508.0 238.3 520.0 241.5 532.0 245.4 544.0 249.9 556.0 255.1 568.0 260.8 580.0 267.2 592.0 274.2 604.0 281.7 617.0 290.6 629.0 299.4 642.0 309.5 654.0 319.5 667.0 330.9 679.0 342.0 691.3 354.0 704.0 367.0 728.7 394.0 754.0 424.1 778.8 456.0 803.4 490.0 827.6 526.0 853.5 567.0 878.3 609.0 903.2 654.0 927.6 701.0 950.5 748.0 973.4 798.0 995.3 849.0 1015.4 899.0 1034.4 950.0 1051.7 1000.0 1067.6 1050.0 1081.3 1098.0 1093.2 1145.0 1102.6 1188.0 1106.6 1209.0 1109.9 1229.0 1112.8 1249.0 1115.1 1268.0 1117.3 1292.0 1118.4 1314.0 1118.6 1335.0 1117.9 1355.0 1116.2 1373.0 1113.5 1391.0 1110.0 1407.0 1105.5 1422.0 1100.0 1436.0 1093.6 1449.0 1086.2 1461.0 1077.8 1472.0 1068.6 1482.0 1057.3 1492.0 1046.0 1500.2 1033.2 1508.0 1019.2 1515.0 1004.7 1521.0 988.0 1526.8 971.0 1531.6 952.6 1536.0 932.0 1540.0 909.0 1543.6 885.0 1546.7 858.0 1549.5 829.0 1551.9 797.0 1553.9 763.0 1555.6 682.0 1558.3 583.0 1560.0Z" fill="none" stroke="#a890e0" stroke-width="1.0"/>
<path d="M573.0 1560.0 500.0 1560.5 428.0 1560.5 365.0 1560.1 314.0 1559.2 276.0 1558.0 245.0 1556.2 222.0 1554.0 203.0 1551.0 196.0 1549.3 189.0 1547.3 183.0 1545.1 178.0 1542.7 173.4 1540.0 169.0 1536.7 165.1 1533.0 161.9 1529.0 159.0 1524.5 156.2 1519.0 154.0 1513.2 152.1 1507.0 148.9 1492.0 146.3 1472.0 144.9 1455.0 143.9 1436.0 142.5 1387.0 142.1 1322.0 142.7 1244.0 144.2 1160.0 146.6 1077.0 149.6 1000.0 153.4 928.0 157.3 870.0 161.7 816.0 166.8 765.0 172.3 718.0 178.6 673.0 185.4 631.0 193.0 591.4 201.5 553.0 210.8 517.0 220.7 484.0 231.3 453.0 243.0 423.6 255.0 397.2 261.7 384.0 268.2 372.0 275.0 360.4 282.0 349.3 289.0 338.9 297.0 328.0 305.0 317.9 313.0 308.7 321.0 300.2 329.0 292.4 337.0 285.2 346.0 277.9 355.0 271.3 364.0 265.5 373.0 260.2 383.0 255.1 392.0 251.2 402.0 247.4 412.0 244.3 422.0 241.9 432.0 240.1 442.0 238.8 453.0 238.1 464.0 238.0 475.0 238.5 487.0 239.9 498.0 241.7 510.0 244.3 522.0 247.7 534.0 251.6 546.0 256.3 558.0 261.5 570.0 267.4 582.0 273.9 594.0 281.0 606.0 288.6 619.0 297.6 631.0 306.5 644.0 316.7 656.0 326.8 668.0 337.4 681.0 349.6 693.7 362.0 706.0 374.7 718.3 388.0 731.0 402.3 756.0 432.3 780.4 464.0 805.0 498.2 829.7 535.0 855.4 576.0 880.5 619.0 905.3 664.0 929.5 711.0 952.7 759.0 975.4 809.0 996.6 859.0 1016.5 909.0 1035.4 960.0 1052.4 1010.0 1067.7 1059.0 1081.2 1107.0 1092.4 1152.0 1101.5 1195.0 1105.4 1216.0 1108.6 1236.0 1111.3 1256.0 1113.3 1274.0 1115.2 1297.0 1116.2 1319.0 1116.1 1340.0 1115.2 1359.0 1113.3 1377.0 1110.5 1394.0 1106.8 1410.0 1102.0 1425.0 1096.7 1438.0 1090.0 1451.0 1082.3 1463.0 1073.6 1474.0 1064.0 1484.0 1053.5 1493.0 1042.0 1501.1 1028.6 1509.0 1015.0 1515.6 1000.0 1521.7 984.4 1527.0 966.6 1532.0 948.0 1536.3 927.0 1540.3 904.0 1543.9 879.2 1547.0 852.0 1549.7 823.4 1552.0 791.6 1554.0 755.0 1555.8 673.0 1558.4 573.0 1560.0Z" fill="none" stroke="#a890e0" stroke-width="1.0"/>
<path d="M562.0 1560.0 489.0 1560.4 418.0 1560.4 358.0 1559.9 308.0 1558.9 271.0 1557.6 242.0 1555.8 219.0 1553.4 201.0 1550.2 194.0 1548.5 187.0 1546.2 181.0 1543.8 176.0 1541.1 171.3 1538.0 167.8 1535.0 164.0 1531.0 161.1 1527.0 158.2 1522.0 155.9 1517.0 153.7 1511.0 151.7 1504.0 148.6 1488.0 146.1 1467.0 144.8 1450.0 143.8 1430.0 142.6 1379.0 142.3 1313.0 143.0 1234.0 144.7 1151.0 147.1 1071.0 150.2 996.0 154.0 926.0 157.9 869.0 162.4 815.0 167.4 765.0 173.1 718.0 179.3 674.0 186.3 632.0 194.0 592.4 202.5 555.0 211.6 520.0 221.6 487.0 232.3 456.0 244.0 426.9 256.4 400.0 263.0 387.1 269.7 375.0 277.0 362.7 283.9 352.0 291.0 341.6 298.2 332.0 306.0 322.2 314.0 313.1 322.0 304.7 330.0 296.9 338.0 289.8 347.0 282.6 356.0 276.1 365.0 270.3 374.0 265.1 384.0 260.1 393.0 256.2 403.0 252.5 413.0 249.5 423.0 247.1 433.0 245.3 443.0 244.1 454.0 243.5 465.0 243.4 476.0 244.1 488.0 245.4 499.0 247.3 511.0 250.0 523.0 253.4 535.0 257.4 547.0 262.1 559.0 267.4 571.0 273.4 583.0 279.9 595.0 287.1 607.0 294.8 620.0 303.8 632.0 312.7 644.0 322.2 657.0 333.2 670.0 344.8 682.0 356.1 694.1 368.0 707.0 381.4 719.6 395.0 731.9 409.0 757.0 439.2 781.4 471.0 806.0 505.4 830.5 542.0 855.4 582.0 880.6 625.0 905.2 670.0 929.4 717.0 952.5 765.0 975.2 815.0 996.3 865.0 1016.5 916.0 1035.6 968.0 1052.5 1018.0 1067.6 1067.0 1080.6 1114.0 1091.6 1159.0 1096.4 1181.0 1100.5 1202.0 1104.2 1223.0 1107.2 1243.0 1109.7 1262.0 1111.6 1280.0 1113.2 1303.0 1113.9 1324.0 1113.7 1344.0 1112.5 1363.0 1110.4 1381.0 1107.4 1398.0 1103.6 1413.0 1098.5 1428.0 1092.4 1442.0 1085.8 1454.0 1078.4 1465.0 1069.4 1476.0 1059.3 1486.0 1048.3 1495.0 1036.5 1503.0 1023.0 1510.6 1009.2 1517.0 993.8 1523.0 978.0 1528.1 959.7 1533.0 941.0 1537.2 919.9 1541.0 897.0 1544.4 871.0 1547.5 844.0 1550.1 814.0 1552.4 782.0 1554.3 746.0 1556.0 663.0 1558.5 562.0 1560.0Z" fill="none" stroke="#a890e0" stroke-width="1.0"/>
<path d="M551.0 1560.0 479.0 1560.4 409.0 1560.3 350.0 1559.7 303.0 1558.6 267.0 1557.2 239.0 1555.3 217.0 1552.8 207.0 1551.2 199.0 1549.5 192.0 1547.5 186.0 1545.5 180.3 1543.0 175.0 1540.0 170.8 1537.0 167.0 1533.6 163.8 1530.0 160.4 1525.0 157.7 1520.0 155.2 1514.0 153.2 1508.0 151.4 1501.0 148.3 1484.0 146.0 1462.0 144.7 1444.0 143.8 1424.0 142.7 1372.0 142.5 1304.0 143.4 1225.0 145.1 1144.0 147.6 1065.0 150.8 991.0 154.6 923.0 158.6 867.0 163.1 814.0 168.1 765.0 173.9 718.0 180.2 674.0 187.2 633.0 195.0 593.5 203.4 557.0 212.6 522.0 222.7 489.0 233.3 459.0 245.0 430.1 251.0 416.7 257.6 403.0 264.0 390.7 271.0 378.2 278.0 366.5 285.0 355.7 292.0 345.7 300.0 335.1 308.0 325.3 316.0 316.3 324.0 308.0 332.0 300.5 340.0 293.5 349.0 286.5 358.0 280.1 367.0 274.4 376.0 269.4 386.0 264.5 395.0 260.8 405.0 257.2 415.0 254.3 425.0 252.0 435.0 250.4 445.0 249.3 456.0 248.7 467.0 248.8 478.0 249.6 490.0 251.1 502.0 253.3 513.0 255.9 525.0 259.4 537.0 263.5 549.0 268.3 561.0 273.7 573.0 279.8 585.0 286.4 597.0 293.7 609.0 301.5 622.0 310.6 634.0 319.7 646.0 329.3 659.0 340.3 671.0 351.1 684.0 363.4 696.6 376.0 709.0 389.0 721.8 403.0 734.0 416.9 758.8 447.0 783.2 479.0 808.0 513.9 832.6 551.0 858.6 593.0 883.5 636.0 907.4 680.0 931.3 727.0 954.3 775.0 976.7 825.0 997.7 875.0 1017.7 926.0 1035.8 976.0 1052.6 1026.0 1067.5 1075.0 1080.3 1122.0 1090.8 1166.0 1095.4 1188.0 1099.4 1209.0 1102.8 1229.0 1105.8 1249.0 1108.1 1268.0 1109.8 1286.0 1111.2 1308.0 1111.6 1329.0 1111.2 1349.0 1109.8 1368.0 1107.3 1386.0 1104.1 1402.0 1100.0 1417.0 1095.0 1431.0 1089.0 1444.0 1082.2 1456.0 1074.5 1467.0 1065.1 1478.0 1055.0 1487.6 1044.0 1496.3 1031.0 1504.8 1017.5 1512.0 1004.0 1518.1 988.1 1524.0 971.0 1529.3 952.6 1534.0 933.0 1538.1 911.0 1541.9 888.0 1545.2 863.0 1548.0 836.0 1550.5 806.0 1552.7 773.0 1554.5 737.0 1556.1 653.0 1558.6 551.0 1560.0Z" fill="none" stroke="#a890e0" stroke-width="1.0"/>
<path d="M538.0 1560.0 465.0 1560.3 397.0 1560.1 340.0 1559.4 295.0 1558.3 261.0 1556.7 234.0 1554.6 213.0 1552.0 204.0 1550.3 196.0 1548.4 189.0 1546.2 183.0 1543.8 177.5 1541.0 173.0 1538.1 169.0 1534.8 165.3 1531.0 162.0 1526.7 159.2 1522.0 156.8 1517.0 154.5 1511.0 152.5 1504.0 150.7 1496.0 147.7 1477.0 145.6 1454.0 144.5 1435.0 143.7 1413.0 142.8 1359.0 142.8 1290.0 143.9 1211.0 145.7 1132.0 148.3 1056.0 151.5 985.0 155.4 918.0 159.4 863.0 164.0 810.8 169.2 762.0 175.0 715.7 181.3 673.0 188.4 632.0 196.1 594.0 204.8 557.0 214.0 522.8 224.2 490.0 235.0 460.0 247.0 430.9 253.4 417.0 259.9 404.0 266.0 392.4 273.0 380.1 280.0 368.7 287.0 358.1 294.0 348.3 302.0 337.9 310.0 328.3 318.0 319.5 326.0 311.4 334.0 304.0 342.0 297.2 351.0 290.3 360.0 284.1 369.0 278.5 378.0 273.6 388.0 268.9 397.0 265.2 407.0 261.8 417.0 259.1 427.0 256.9 437.0 255.4 447.0 254.4 458.0 253.9 469.0 254.2 480.0 255.0 492.0 256.6 503.0 258.7 515.0 261.7 527.0 265.3 539.0 269.5 551.0 274.4 563.0 280.0 576.0 286.7 588.0 293.5 600.0 300.9 612.0 308.8 624.0 317.4 637.0 327.3 649.0 337.1 662.0 348.3 674.0 359.2 687.0 371.7 699.2 384.0 712.0 397.6 736.3 425.0 761.0 455.3 786.0 488.3 810.4 523.0 834.7 560.0 860.6 602.0 885.3 645.0 909.5 690.0 933.8 738.0 956.5 786.0 978.8 836.0 999.5 886.0 1019.2 937.0 1037.5 988.0 1053.6 1037.0 1068.2 1086.0 1080.5 1132.0 1090.6 1176.0 1094.9 1197.0 1098.7 1218.0 1101.9 1238.0 1104.5 1257.0 1106.5 1275.0 1108.1 1293.0 1109.2 1315.0 1109.3 1335.0 1108.6 1355.0 1106.9 1373.0 1104.4 1390.0 1100.9 1406.0 1096.4 1421.0 1091.0 1435.0 1084.6 1448.0 1077.2 1460.0 1068.9 1471.0 1059.7 1481.0 1049.7 1490.0 1037.6 1499.0 1025.0 1506.8 1012.0 1513.4 998.0 1519.4 982.5 1525.0 965.7 1530.0 947.0 1534.6 927.0 1538.7 906.0 1542.2 882.0 1545.5 856.0 1548.4 827.0 1550.9 796.7 1553.0 763.0 1554.8 727.0 1556.3 641.0 1558.7 538.0 1560.0Z" fill="none" stroke="#a890e0" stroke-width="1.0"/>
<path d="M523.0 1560.0 452.0 1560.2 386.0 1559.9 331.0 1559.1 288.0 1557.9 255.0 1556.2 229.0 1553.9 209.0 1551.0 200.0 1549.1 193.0 1547.1 186.8 1545.0 181.0 1542.4 176.0 1539.6 171.0 1536.0 167.0 1532.2 163.5 1528.0 160.8 1524.0 158.0 1518.6 155.7 1513.0 153.4 1506.0 151.4 1498.0 149.9 1490.0 147.3 1470.0 145.3 1444.0 143.6 1401.0 142.9 1344.0 143.2 1273.0 144.4 1195.0 146.4 1118.0 149.0 1045.0 152.3 976.0 156.2 912.0 160.3 858.0 165.0 806.8 170.2 759.0 176.0 714.3 182.6 671.0 189.7 631.0 197.6 593.0 206.0 557.6 215.5 523.0 225.7 491.0 236.7 461.0 248.5 433.0 261.0 407.1 268.0 394.1 275.0 382.1 282.0 370.9 289.0 360.5 296.0 350.8 304.0 340.6 312.0 331.2 320.0 322.6 328.0 314.7 336.0 307.4 344.0 300.8 353.0 294.0 362.0 288.0 371.0 282.6 380.0 277.8 390.0 273.2 399.0 269.7 409.0 266.4 419.0 263.7 429.0 261.7 439.0 260.3 449.0 259.4 460.0 259.1 471.0 259.4 482.0 260.4 494.0 262.1 505.0 264.3 517.0 267.4 529.0 271.1 541.0 275.5 553.0 280.5 565.0 286.1 577.0 292.4 590.0 299.8 602.0 307.3 614.0 315.4 626.0 324.1 639.0 334.1 652.0 344.9 664.0 355.3 676.0 366.4 689.0 379.0 701.8 392.0 714.0 405.0 726.5 419.0 739.0 433.5 764.0 464.5 788.4 497.0 813.0 532.3 837.6 570.0 863.2 612.0 888.2 656.0 912.8 702.0 936.3 749.0 959.2 798.0 980.8 847.0 1001.3 897.0 1020.8 948.0 1038.5 998.0 1054.6 1048.0 1068.7 1096.0 1080.6 1142.0 1090.2 1185.0 1094.3 1206.0 1097.8 1226.0 1100.8 1246.0 1103.2 1265.0 1105.1 1284.0 1106.3 1301.0 1107.1 1322.0 1107.0 1342.0 1105.9 1361.0 1103.9 1379.0 1101.1 1395.0 1097.3 1411.0 1092.3 1426.0 1086.9 1439.0 1080.6 1451.0 1072.8 1463.0 1064.9 1473.0 1055.3 1483.0 1044.8 1492.0 1033.0 1500.4 1020.2 1508.0 1006.0 1515.0 991.3 1521.0 975.0 1526.5 958.0 1531.3 939.0 1535.8 919.0 1539.6 897.0 1543.1 873.0 1546.2 846.0 1549.0 818.0 1551.3 787.0 1553.3 753.0 1555.1 715.0 1556.6 627.0 1558.8 523.0 1560.0Z" fill="none" stroke="#a890e0" stroke-width="1.0"/>
<path d="M504.0 1560.0 432.0 1560.1 368.0 1559.6 317.0 1558.7 276.0 1557.2 245.0 1555.3 221.0 1552.7 211.0 1551.1 202.0 1549.2 195.0 1547.4 188.0 1545.1 182.0 1542.5 177.0 1539.7 172.0 1536.2 168.0 1532.6 164.1 1528.0 161.0 1523.4 158.2 1518.0 155.8 1512.0 153.5 1505.0 151.6 1497.0 148.6 1479.0 146.3 1456.0 144.6 1426.0 143.4 1378.0 143.1 1318.0 143.8 1245.0 145.3 1168.0 147.4 1095.0 150.2 1026.0 153.5 961.0 157.5 900.0 161.8 847.0 166.5 798.0 171.9 751.0 177.9 707.0 184.4 666.0 191.6 627.0 199.5 590.0 208.0 555.4 217.8 521.0 228.0 489.7 239.0 460.5 251.0 432.7 257.6 419.0 264.0 406.6 271.0 394.0 277.6 383.0 285.0 371.5 292.0 361.4 299.0 352.0 307.0 342.1 315.0 333.0 323.0 324.7 331.0 317.0 340.0 309.1 348.0 302.8 357.0 296.3 366.0 290.6 375.0 285.4 384.0 280.9 393.0 277.0 402.0 273.7 412.0 270.6 422.0 268.1 432.0 266.3 442.0 265.0 452.0 264.3 463.0 264.2 474.0 264.7 485.0 265.8 497.0 267.7 509.0 270.3 520.0 273.3 532.0 277.2 544.0 281.7 556.0 286.9 568.0 292.7 581.0 299.7 593.0 306.8 605.0 314.4 617.0 322.7 629.0 331.5 642.0 341.7 655.0 352.6 667.0 363.2 679.0 374.4 692.0 387.2 704.5 400.0 717.0 413.5 742.0 442.4 767.0 473.6 791.7 507.0 816.6 543.0 840.4 580.0 865.8 622.0 890.6 666.0 915.5 713.0 938.8 760.0 961.5 809.0 983.2 859.0 1003.5 909.0 1022.7 960.0 1040.4 1011.0 1055.6 1059.0 1069.4 1107.0 1080.7 1152.0 1085.7 1174.0 1090.2 1196.0 1094.1 1217.0 1097.3 1237.0 1099.9 1256.0 1102.1 1275.0 1103.6 1293.0 1104.6 1310.0 1105.0 1331.0 1104.4 1350.0 1103.1 1368.0 1100.8 1385.0 1097.6 1401.0 1093.5 1416.0 1088.6 1430.0 1082.7 1443.0 1075.9 1455.0 1068.3 1466.0 1059.8 1476.0 1049.6 1486.0 1038.5 1495.0 1026.5 1503.0 1013.9 1510.0 998.8 1517.0 983.1 1523.0 967.4 1528.0 949.0 1532.9 930.1 1537.0 909.0 1540.8 887.4 1544.0 862.6 1547.0 836.0 1549.6 806.0 1551.9 774.0 1553.9 739.0 1555.5 700.0 1556.9 609.0 1559.0 504.0 1560.0Z" fill="none" stroke="#a890e0" stroke-width="1.0"/>
</g>
<text x="424" y="519.5" class="cl">0.025</text>
<text x="424" y="744" class="cl">0.05</text>
<text x="424" y="1001" class="cl">0.1</text>
<text x="424" y="1227" class="cl">0.15</text>
<circle cx="459.8" cy="1329.2" r="6" fill="#b8aa40" stroke="#fffbd8" stroke-width="3.6"/>
<text class="ax" transform="translate(27,835) scale(1.27,1)">Z</text>
<text class="ax" transform="translate(697,1695.5) scale(1.2,1)">R</text>
<rect x="1031.5" y="57.5" width="106.5" height="511.5" fill="url(#cbg)"/>
<rect x="1033.5" y="59" width="102.5" height="506" fill="none" stroke="#707070" stroke-opacity="0.35" stroke-width="4"/>
<text x="1176" y="87" class="cbl">0.2</text>
<text x="1176" y="194.5" class="cbl">0.1</text>
<text x="1179" y="320.3" class="cbl">0.5</text>
<text x="1174" y="447.8" class="cbl">0.05</text>
<text x="1169" y="579.8" class="cbl">7.5</text>
<path d="M1255.5 555 L1280.5 580 M1255.5 580 L1280.5 555" stroke="#222" stroke-width="2.4" fill="none"/>
<text x="1298.5" y="579.8" class="cbl">10</text>
<rect x="1354" y="549.2" width="19" height="2.6" fill="#333"/>
<text x="1375.5" y="560" class="cbl" style="font-size:38px">3</text>
</svg>
</body></html>
